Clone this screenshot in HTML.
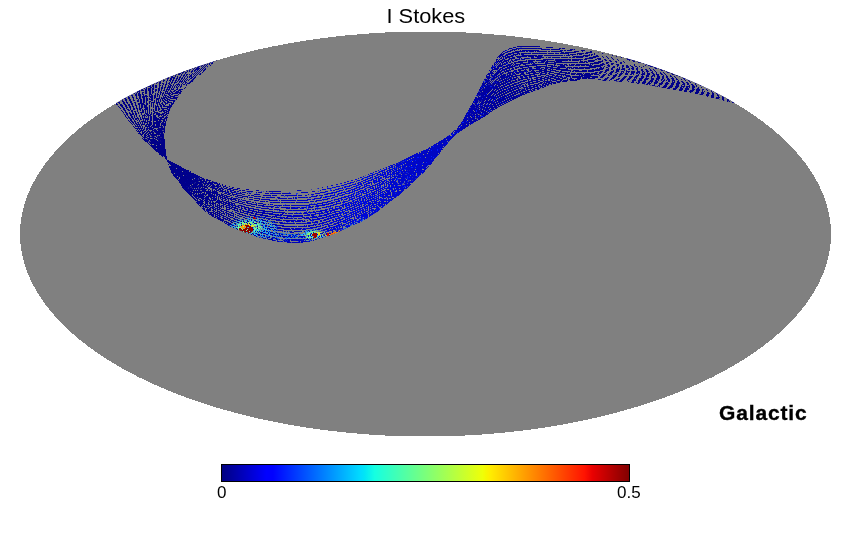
<!DOCTYPE html>
<html><head><meta charset="utf-8"><style>
html,body{margin:0;padding:0;background:#fff;width:850px;height:540px;overflow:hidden}
svg{display:block}
text{font-family:"Liberation Sans",sans-serif}
</style></head><body>
<svg width="850" height="540" viewBox="0 0 850 540">
<defs>
<linearGradient id="bg" gradientUnits="userSpaceOnUse" x1="160" y1="0" x2="740" y2="0">
<stop offset="0" stop-color="#000088"/><stop offset="0.1" stop-color="#00008e"/><stop offset="0.2" stop-color="#0000b0"/><stop offset="0.33" stop-color="#0008d8"/>
<stop offset="0.41" stop-color="#0008cc"/><stop offset="0.5" stop-color="#0004c0"/><stop offset="0.55" stop-color="#0000a4"/><stop offset="0.59" stop-color="#000098"/>
<stop offset="0.69" stop-color="#00008e"/><stop offset="1" stop-color="#000088"/></linearGradient>
<filter id="b1" x="-50%" y="-50%" width="200%" height="200%"><feGaussianBlur stdDeviation="1.6"/></filter>
<filter id="b2" x="-50%" y="-50%" width="200%" height="200%"><feGaussianBlur stdDeviation="0.8"/></filter>
<filter id="nz" color-interpolation-filters="sRGB" filterUnits="userSpaceOnUse" x="0" y="0" width="850" height="540">
<feTurbulence type="fractalNoise" baseFrequency="0.7" numOctaves="2" seed="7" result="t"/>
<feColorMatrix in="t" type="matrix" values="0 0 0 0 0.5  0 0 0 0 0.5  0 0 0 0 0.5  8 0 0 0 -4.6"/>
<feComponentTransfer><feFuncA type="discrete" tableValues="0 1"/></feComponentTransfer>
</filter>
<filter id="nz2" color-interpolation-filters="sRGB" filterUnits="userSpaceOnUse" x="0" y="0" width="850" height="540">
<feTurbulence type="fractalNoise" baseFrequency="0.8" numOctaves="2" seed="11" result="t"/>
<feColorMatrix in="t" type="matrix" values="0 0 0 0 0  0 0 0 0 0.12  0 0 0 0 1  8 0 0 0 -5.1"/>
<feComponentTransfer><feFuncA type="discrete" tableValues="0 1"/></feComponentTransfer>
</filter>
<filter id="nzm" color-interpolation-filters="sRGB" filterUnits="userSpaceOnUse" x="0" y="0" width="850" height="540">
<feTurbulence type="fractalNoise" baseFrequency="0.75" numOctaves="2" seed="21" result="t"/>
<feColorMatrix in="t" type="matrix" values="0 0 0 0 1  0 0 0 0 1  0 0 0 0 1  8 0 0 0 -3.7"/>
<feComponentTransfer><feFuncA type="discrete" tableValues="0 1"/></feComponentTransfer>
</filter>
<filter id="nzm2" color-interpolation-filters="sRGB" filterUnits="userSpaceOnUse" x="0" y="0" width="850" height="540">
<feTurbulence type="fractalNoise" baseFrequency="0.8" numOctaves="2" seed="33" result="t"/>
<feColorMatrix in="t" type="matrix" values="0 0 0 0 1  0 0 0 0 1  0 0 0 0 1  8 0 0 0 -3.5"/>
<feComponentTransfer><feFuncA type="discrete" tableValues="0 1"/></feComponentTransfer>
</filter>
<filter id="nzm3" color-interpolation-filters="sRGB" filterUnits="userSpaceOnUse" x="0" y="0" width="850" height="540">
<feTurbulence type="fractalNoise" baseFrequency="0.8" numOctaves="2" seed="44" result="t"/>
<feColorMatrix in="t" type="matrix" values="0 0 0 0 1  0 0 0 0 1  0 0 0 0 1  8 0 0 0 -2.5"/>
<feComponentTransfer><feFuncA type="discrete" tableValues="0 1"/></feComponentTransfer>
</filter>
<mask id="hm3" maskUnits="userSpaceOnUse" x="0" y="0" width="850" height="540"><rect width="850" height="540" filter="url(#nzm3)"/></mask>
<mask id="hm2" maskUnits="userSpaceOnUse" x="0" y="0" width="850" height="540"><rect width="850" height="540" filter="url(#nzm2)"/></mask>
<linearGradient id="bmg" gradientUnits="userSpaceOnUse" x1="160" y1="0" x2="740" y2="0">
<stop offset="0" stop-color="#000"/><stop offset="0.08" stop-color="#333"/><stop offset="0.18" stop-color="#aaa"/><stop offset="0.4" stop-color="#fff"/>
<stop offset="0.55" stop-color="#fff"/><stop offset="0.62" stop-color="#666"/><stop offset="0.75" stop-color="#222"/><stop offset="1" stop-color="#000"/></linearGradient>
<mask id="bm" maskUnits="userSpaceOnUse" x="0" y="0" width="850" height="540"><rect width="850" height="540" fill="url(#bmg)"/></mask>
<radialGradient id="rg1" gradientUnits="userSpaceOnUse" cx="172" cy="165" r="42"><stop offset="0" stop-color="#000"/><stop offset="0.6" stop-color="#000"/><stop offset="1" stop-color="#000" stop-opacity="0"/></radialGradient>
<radialGradient id="rg2" gradientUnits="userSpaceOnUse" cx="440" cy="145" r="60"><stop offset="0" stop-color="#000"/><stop offset="0.6" stop-color="#000"/><stop offset="1" stop-color="#000" stop-opacity="0"/></radialGradient>
<radialGradient id="rg3" gradientUnits="userSpaceOnUse" cx="500" cy="100" r="30"><stop offset="0" stop-color="#000"/><stop offset="0.5" stop-color="#000"/><stop offset="1" stop-color="#000" stop-opacity="0"/></radialGradient>
<mask id="gm" maskUnits="userSpaceOnUse" x="0" y="0" width="850" height="540"><rect width="850" height="540" fill="#fff"/>
<circle cx="172" cy="165" r="42" fill="url(#rg1)"/><circle cx="440" cy="145" r="60" fill="url(#rg2)"/><circle cx="500" cy="100" r="30" fill="url(#rg3)"/></mask>
<mask id="hm" maskUnits="userSpaceOnUse" x="0" y="0" width="850" height="540"><rect width="850" height="540" filter="url(#nzm)"/></mask>
<clipPath id="bandclip"><path d="M104.0,91.0 105.3,92.4 107.1,94.3 109.2,96.6 111.5,99.0 113.5,101.2 115.2,103.1 116.5,104.5 117.5,105.7 118.4,106.8 119.3,107.8 120.1,108.8 121.0,110.0 122.0,111.3 122.9,112.8 123.9,114.2 124.9,115.7 125.9,117.2 127.0,118.7 128.1,120.1 129.3,121.6 130.5,123.0 131.7,124.4 132.9,125.9 134.0,127.3 135.0,128.7 136.0,130.2 137.0,131.6 138.0,133.1 139.0,134.5 140.0,135.8 141.1,137.1 142.3,138.3 143.4,139.5 144.6,140.7 145.8,141.8 147.0,143.0 148.2,144.1 149.4,145.3 150.6,146.4 151.7,147.5 152.9,148.6 154.0,149.6 155.0,150.6 156.0,151.5 157.0,152.4 158.0,153.3 159.0,154.1 160.0,155.0 161.2,155.9 162.5,156.8 163.8,157.7 165.1,158.6 166.1,159.3 166.9,159.8 166.9,159.8 167.1,160.5 167.3,161.4 167.6,162.4 167.9,163.6 168.3,164.8 168.7,166.1 169.2,167.4 169.8,168.9 170.5,170.4 171.2,171.9 171.9,173.4 172.6,174.6 173.4,175.6 174.2,176.5 175.0,177.2 175.8,178.0 176.6,178.7 177.4,179.6 178.1,180.6 178.8,181.7 179.5,182.8 180.2,183.9 180.9,185.0 181.5,186.0 182.1,186.9 182.6,187.7 183.1,188.5 183.6,189.3 184.2,190.1 185.0,191.0 186.0,192.0 187.1,193.0 188.3,194.1 189.6,195.2 190.9,196.3 192.2,197.6 193.5,199.0 194.8,200.5 196.1,202.1 197.4,203.6 198.7,205.1 200.0,206.5 201.3,207.8 202.5,208.9 203.7,210.1 204.9,211.1 206.2,212.1 207.4,213.1 208.6,214.0 209.9,214.8 211.1,215.6 212.3,216.4 213.6,217.1 214.8,217.8 216.0,218.5 217.3,219.1 218.5,219.8 219.7,220.4 221.0,221.0 222.2,221.7 223.5,222.4 224.7,223.2 226.0,224.0 227.3,224.8 228.5,225.5 229.8,226.2 231.0,226.8 232.3,227.4 233.5,227.9 234.7,228.5 236.0,229.0 237.2,229.5 238.5,230.0 239.7,230.5 241.0,231.0 242.3,231.5 243.5,231.9 244.8,232.4 246.0,232.9 247.3,233.3 248.5,233.7 249.7,234.1 251.0,234.6 252.2,235.0 253.4,235.4 254.7,235.9 255.9,236.4 257.1,236.8 258.4,237.2 259.6,237.6 260.8,237.9 262.0,238.2 263.2,238.5 264.4,238.8 265.7,239.0 267.0,239.3 268.4,239.6 269.9,239.9 271.4,240.3 272.9,240.6 274.5,240.9 276.0,241.2 277.4,241.5 278.8,241.7 280.1,241.9 281.6,242.1 283.2,242.3 285.0,242.4 287.2,242.5 289.8,242.6 292.5,242.6 295.2,242.6 297.7,242.6 299.8,242.6 301.5,242.5 302.8,242.5 304.0,242.4 305.0,242.2 306.1,242.1 307.2,241.9 308.4,241.7 309.7,241.5 310.9,241.3 312.1,241.0 313.4,240.7 314.6,240.4 315.8,240.0 317.0,239.6 318.1,239.2 319.3,238.8 320.6,238.3 322.0,237.8 323.6,237.3 325.4,236.8 327.2,236.2 329.0,235.7 330.8,235.1 332.4,234.6 333.8,234.1 335.1,233.5 336.3,233.0 337.4,232.5 338.6,232.0 339.8,231.4 341.0,230.8 342.3,230.3 343.5,229.7 344.7,229.1 346.0,228.5 347.2,227.9 348.4,227.3 349.7,226.8 350.9,226.2 352.1,225.6 353.4,225.1 354.6,224.5 355.8,224.0 357.0,223.5 358.3,223.0 359.5,222.5 360.7,221.9 362.0,221.3 363.3,220.6 364.6,219.8 366.0,219.0 367.4,218.2 368.7,217.3 370.0,216.5 371.3,215.7 372.5,214.9 373.7,214.1 375.0,213.3 376.2,212.5 377.4,211.6 378.6,210.7 379.9,209.8 381.1,208.8 382.3,207.8 383.6,206.9 384.8,205.9 386.0,204.9 387.3,203.9 388.5,202.9 389.7,201.9 391.0,201.0 392.2,200.0 393.4,199.1 394.7,198.2 395.9,197.3 397.1,196.5 398.4,195.6 399.6,194.6 400.8,193.6 402.1,192.5 403.4,191.4 404.6,190.2 405.8,189.1 407.0,188.1 408.1,187.1 409.1,186.2 410.0,185.3 411.0,184.4 412.0,183.5 413.0,182.5 414.1,181.5 415.2,180.5 416.3,179.4 417.5,178.3 418.6,177.2 419.8,176.1 421.0,174.9 422.2,173.8 423.5,172.6 424.7,171.3 426.0,170.0 427.2,168.7 428.4,167.3 429.7,165.9 430.9,164.4 432.1,162.9 433.4,161.3 434.6,159.8 435.9,158.2 437.1,156.6 438.4,155.0 439.7,153.3 440.9,151.7 442.2,150.1 443.5,148.5 444.7,147.0 446.0,145.5 447.3,144.0 448.5,142.5 449.8,141.1 451.0,139.7 452.3,138.4 453.5,137.2 454.7,135.9 456.0,134.8 457.2,133.7 458.4,132.7 459.7,131.7 461.0,130.9 462.2,130.0 463.4,129.3 464.6,128.5 465.7,127.8 466.7,127.1 467.7,126.5 468.7,125.9 469.7,125.4 470.6,124.8 471.5,124.2 472.4,123.7 473.2,123.2 474.1,122.6 475.0,122.1 476.0,121.5 477.1,120.9 478.2,120.2 479.4,119.6 480.6,118.9 481.8,118.2 483.0,117.5 484.2,116.8 485.3,116.0 486.5,115.2 487.7,114.4 488.8,113.6 490.0,112.8 491.1,112.0 492.2,111.3 493.2,110.6 494.3,109.9 495.5,109.1 496.9,108.3 498.5,107.4 500.2,106.5 502.1,105.6 504.0,104.7 505.8,103.8 507.4,103.0 508.8,102.3 510.1,101.6 511.3,101.1 512.4,100.5 513.6,99.9 514.8,99.3 516.0,98.7 517.3,98.0 518.5,97.4 519.7,96.8 521.0,96.2 522.2,95.6 523.4,95.1 524.7,94.5 525.9,94.0 527.1,93.5 528.4,93.1 529.6,92.6 530.8,92.2 532.0,91.8 533.1,91.5 534.3,91.1 535.6,90.7 537.0,90.2 538.6,89.6 540.4,88.9 542.2,88.1 544.0,87.3 545.8,86.6 547.4,86.0 548.8,85.5 550.1,85.1 551.3,84.7 552.4,84.3 553.6,84.0 554.8,83.7 556.0,83.4 557.2,83.1 558.4,82.9 559.6,82.7 560.8,82.4 562.2,82.2 563.7,82.0 565.3,81.7 566.9,81.5 568.6,81.3 570.3,81.1 572.0,80.9 573.7,80.7 575.3,80.6 577.0,80.5 578.7,80.4 580.3,80.3 582.0,80.2 583.7,80.1 585.3,80.1 587.0,80.1 588.7,80.1 590.3,80.1 592.0,80.1 593.7,80.1 595.4,80.2 597.0,80.2 598.7,80.3 600.4,80.4 602.2,80.5 604.0,80.6 605.8,80.7 607.7,80.9 609.6,81.0 611.4,81.2 613.3,81.3 615.2,81.4 617.2,81.6 619.2,81.7 621.1,81.8 622.9,81.9 624.4,82.0 625.6,82.1 626.6,82.1 627.4,82.2 628.2,82.2 629.0,82.3 630.0,82.4 631.1,82.6 632.3,82.7 633.6,83.0 634.9,83.2 636.1,83.4 637.4,83.6 638.6,83.8 639.9,84.0 641.1,84.2 642.3,84.3 643.6,84.5 644.8,84.7 646.0,84.9 647.3,85.1 648.5,85.3 649.7,85.5 651.0,85.7 652.2,85.9 653.4,86.1 654.7,86.4 655.9,86.6 657.1,86.8 658.4,87.1 659.6,87.3 660.8,87.5 662.0,87.7 663.3,87.9 664.5,88.1 665.7,88.3 667.0,88.5 668.3,88.7 669.7,88.9 671.0,89.1 672.4,89.4 673.7,89.6 675.0,89.8 676.3,90.0 677.5,90.2 678.7,90.5 679.9,90.7 681.1,90.9 682.2,91.1 683.2,91.3 684.2,91.5 685.1,91.7 686.0,91.8 687.0,92.0 688.0,92.2 689.1,92.4 690.3,92.6 691.5,92.8 692.7,93.0 693.8,93.2 695.0,93.4 696.1,93.7 697.2,93.9 698.3,94.2 699.4,94.5 700.4,94.8 701.5,95.1 702.6,95.4 703.7,95.7 704.8,96.0 705.8,96.2 706.9,96.5 708.0,96.8 709.1,97.1 710.2,97.3 711.2,97.6 712.3,97.9 713.4,98.1 714.5,98.4 715.6,98.7 716.7,98.9 717.8,99.2 718.8,99.5 719.9,99.7 721.0,100.0 722.1,100.3 723.2,100.5 724.2,100.8 725.3,101.1 726.4,101.4 727.5,101.6 728.5,101.8 729.5,102.0 730.5,102.2 731.5,102.4 732.7,102.6 734.0,102.9 735.7,103.2 737.7,103.6 739.9,104.0 742.0,104.4 743.8,104.8 745.0,105.0 745.0,98.0 742.3,97.0 738.7,95.6 734.4,94.0 729.6,92.1 724.7,90.1 720.0,88.0 715.3,85.6 710.4,83.0 705.3,80.1 700.2,77.3 695.1,74.5 690.0,72.0 684.9,69.7 679.6,67.4 674.4,65.2 669.3,63.2 664.4,61.4 660.0,60.0 656.0,58.9 652.2,58.2 648.8,57.7 645.6,57.3 642.6,57.1 640.0,57.0 637.8,57.0 635.9,57.3 634.4,57.7 633.0,58.1 631.6,58.4 630.0,58.5 628.3,58.4 626.7,58.3 625.1,58.1 623.4,57.8 621.6,57.4 619.6,57.0 617.4,56.5 615.0,56.0 612.5,55.4 609.9,54.7 607.3,54.1 604.8,53.6 602.3,53.1 599.9,52.7 597.4,52.2 594.9,51.8 592.5,51.5 590.0,51.1 587.5,50.8 585.0,50.5 582.5,50.2 580.0,50.0 577.5,49.7 575.0,49.5 572.4,49.2 569.8,49.0 567.2,48.8 564.7,48.5 562.2,48.3 560.0,48.1 558.0,47.9 556.1,47.8 554.3,47.6 552.7,47.5 551.1,47.4 549.6,47.3 548.2,47.2 546.9,47.1 545.7,47.0 544.6,46.9 543.4,46.8 542.2,46.7 541.0,46.6 539.7,46.5 538.5,46.4 537.3,46.4 536.0,46.3 534.8,46.2 533.6,46.1 532.3,46.0 531.1,46.0 529.9,45.9 528.6,45.8 527.4,45.8 526.1,45.8 524.9,45.7 523.6,45.7 522.3,45.7 521.1,45.7 520.0,45.8 519.0,45.9 518.1,46.1 517.3,46.3 516.5,46.5 515.6,46.8 514.8,47.0 513.9,47.2 513.0,47.4 512.1,47.7 511.2,47.9 510.4,48.2 509.6,48.4 508.9,48.6 508.3,48.9 507.7,49.1 507.1,49.3 506.5,49.6 505.9,49.9 505.3,50.2 504.7,50.6 504.0,50.9 503.4,51.3 502.8,51.7 502.2,52.2 501.6,52.7 501.0,53.3 500.4,53.9 499.7,54.5 499.1,55.2 498.5,56.0 497.9,56.8 497.3,57.8 496.6,58.7 496.0,59.7 495.4,60.7 494.8,61.7 494.2,62.7 493.6,63.6 493.0,64.6 492.4,65.6 491.7,66.6 491.1,67.6 490.4,68.7 489.7,69.8 489.0,71.0 488.3,72.2 487.7,73.4 487.0,74.5 486.4,75.6 485.8,76.6 485.2,77.7 484.7,78.7 484.1,79.8 483.5,80.9 482.9,82.1 482.3,83.3 481.7,84.5 481.0,85.8 480.4,87.1 479.8,88.3 479.2,89.5 478.6,90.8 478.0,92.0 477.3,93.2 476.7,94.5 476.1,95.7 475.5,97.0 474.8,98.3 474.2,99.6 473.6,100.9 473.0,102.1 472.4,103.2 471.9,104.1 471.4,105.0 470.9,105.7 470.5,106.4 470.0,107.2 469.5,108.0 469.0,108.9 468.5,109.8 467.9,110.7 467.4,111.6 466.8,112.5 466.3,113.5 465.8,114.5 465.3,115.5 464.7,116.5 464.2,117.6 463.7,118.6 463.1,119.6 462.5,120.6 461.9,121.6 461.3,122.6 460.7,123.5 460.1,124.4 459.4,125.3 458.7,126.1 458.0,126.8 457.3,127.5 456.6,128.2 455.8,128.8 455.0,129.6 454.2,130.4 453.4,131.3 452.6,132.2 451.7,133.1 450.8,133.9 449.8,134.8 448.7,135.6 447.6,136.4 446.3,137.2 445.1,138.0 443.7,138.8 442.4,139.6 441.0,140.5 439.4,141.4 437.9,142.4 436.3,143.3 434.9,144.2 433.5,145.0 432.3,145.7 431.2,146.4 430.3,147.0 429.3,147.6 428.3,148.1 427.2,148.7 426.0,149.3 424.8,149.8 423.6,150.4 422.3,150.9 421.0,151.4 419.8,152.0 418.6,152.6 417.3,153.1 416.1,153.7 414.9,154.2 413.6,154.8 412.4,155.4 411.2,156.0 410.0,156.6 408.7,157.2 407.5,157.8 406.3,158.5 405.0,159.1 403.7,159.8 402.4,160.4 401.0,161.1 399.6,161.8 398.3,162.4 397.0,163.0 395.7,163.5 394.5,164.0 393.3,164.4 392.0,164.8 390.8,165.2 389.6,165.7 388.4,166.2 387.1,166.7 385.9,167.2 384.7,167.7 383.4,168.2 382.2,168.7 381.0,169.2 379.7,169.7 378.5,170.2 377.3,170.7 376.0,171.2 374.8,171.7 373.6,172.2 372.4,172.6 371.3,173.1 370.1,173.5 368.8,174.0 367.4,174.6 365.8,175.3 364.0,176.0 362.2,176.8 360.4,177.5 358.6,178.2 357.0,178.8 355.6,179.3 354.3,179.6 353.1,179.9 352.0,180.2 350.8,180.5 349.6,180.8 348.4,181.2 347.1,181.5 345.9,181.9 344.7,182.3 343.4,182.7 342.2,183.0 341.0,183.3 339.7,183.6 338.5,183.9 337.3,184.2 336.0,184.5 334.8,184.8 333.6,185.1 332.3,185.3 331.1,185.6 329.9,185.8 328.6,186.0 327.4,186.3 326.2,186.6 325.0,186.8 323.9,187.1 322.7,187.4 321.4,187.6 320.0,187.9 318.5,188.2 316.9,188.5 315.2,188.8 313.5,189.1 311.7,189.4 310.0,189.6 308.3,189.8 306.7,189.9 305.1,190.1 303.4,190.2 301.6,190.3 299.6,190.4 297.4,190.5 295.0,190.7 292.5,190.8 289.9,190.9 287.3,191.0 284.8,191.1 282.3,191.2 279.7,191.3 277.1,191.3 274.6,191.4 272.2,191.4 270.0,191.4 268.1,191.3 266.3,191.2 264.7,191.1 263.2,190.9 261.6,190.8 260.0,190.6 258.3,190.4 256.7,190.3 255.0,190.1 253.4,189.9 251.7,189.8 250.0,189.6 248.3,189.4 246.5,189.3 244.6,189.1 242.9,188.9 241.2,188.7 239.6,188.5 238.2,188.3 236.9,188.1 235.7,187.9 234.6,187.6 233.4,187.4 232.2,187.1 231.0,186.8 229.7,186.5 228.5,186.1 227.3,185.7 226.0,185.4 224.8,185.0 223.6,184.6 222.3,184.2 221.1,183.8 219.9,183.4 218.6,183.0 217.4,182.6 216.2,182.2 214.9,181.8 213.7,181.4 212.4,181.0 211.2,180.6 210.0,180.2 208.9,179.9 207.7,179.5 206.7,179.2 205.6,178.9 204.4,178.5 203.3,178.1 202.1,177.6 200.9,177.0 199.6,176.4 198.4,175.7 197.1,175.0 195.9,174.4 194.6,173.7 193.3,173.0 192.0,172.3 190.7,171.6 189.5,171.0 188.5,170.5 187.8,170.2 187.3,170.0 186.9,169.9 186.5,169.8 185.9,169.6 185.0,169.1 183.6,168.3 181.9,167.3 180.1,166.2 178.1,165.1 176.3,164.0 174.6,163.1 173.1,162.4 171.5,161.7 170.1,161.1 168.8,160.6 167.7,160.1 166.9,159.8 166.9,159.8 166.8,158.7 166.6,157.2 166.4,155.3 166.1,153.4 165.9,151.6 165.7,150.0 165.5,148.7 165.4,147.5 165.2,146.3 165.1,145.2 164.9,144.1 164.8,143.0 164.7,141.8 164.6,140.6 164.5,139.4 164.4,138.3 164.3,137.1 164.3,136.0 164.3,135.0 164.4,134.0 164.5,133.0 164.6,132.0 164.7,131.0 164.8,130.0 164.9,128.9 165.1,127.8 165.3,126.7 165.5,125.6 165.7,124.4 165.9,123.3 166.2,122.2 166.5,121.1 166.8,120.0 167.1,118.9 167.5,117.8 167.8,116.7 168.1,115.6 168.5,114.5 168.8,113.4 169.1,112.2 169.5,111.1 170.0,110.0 170.5,108.9 171.1,107.7 171.7,106.6 172.4,105.5 173.0,104.4 173.7,103.3 174.4,102.3 175.1,101.3 175.8,100.4 176.6,99.4 177.3,98.4 178.1,97.4 178.9,96.3 179.7,95.1 180.5,93.9 181.3,92.7 182.2,91.6 183.0,90.5 183.8,89.6 184.6,88.7 185.3,88.0 186.1,87.2 187.0,86.4 188.0,85.5 189.1,84.5 190.3,83.5 191.6,82.4 193.0,81.2 194.3,80.1 195.6,79.0 196.8,77.9 198.1,76.8 199.3,75.6 200.6,74.5 201.8,73.4 203.0,72.3 204.2,71.2 205.4,70.1 206.5,69.1 207.7,68.0 208.8,67.0 210.0,66.0 211.1,65.1 212.1,64.2 213.1,63.4 214.2,62.5 215.5,61.5 217.0,60.4 219.0,58.9 221.4,57.2 223.9,55.3 226.4,53.6 228.5,52.1 230.0,51.0 Z"/></clipPath>
<clipPath id="ell"><ellipse cx="425.5" cy="234.0" rx="405.5" ry="202.5"/></clipPath>
<linearGradient id="jet" x1="0" y1="0" x2="1" y2="0"><stop offset="0" stop-color="#000080"/><stop offset="0.11" stop-color="#0000ff"/><stop offset="0.125" stop-color="#0000ff"/><stop offset="0.34" stop-color="#00dbff"/><stop offset="0.35" stop-color="#00e5f7"/><stop offset="0.375" stop-color="#15ffe2"/><stop offset="0.5" stop-color="#7bff7b"/><stop offset="0.64" stop-color="#efff08"/><stop offset="0.65" stop-color="#f7f600"/><stop offset="0.66" stop-color="#ffec00"/><stop offset="0.89" stop-color="#ff1300"/><stop offset="0.91" stop-color="#e80000"/><stop offset="1" stop-color="#800000"/></linearGradient>
</defs>
<rect width="850" height="540" fill="#fff"/>
<ellipse cx="425.5" cy="234.0" rx="405.5" ry="202.5" fill="#808080" shape-rendering="crispEdges"/>
<g clip-path="url(#ell)" shape-rendering="crispEdges">
<path d="M104.0,91.0 105.3,92.4 107.1,94.3 109.2,96.6 111.5,99.0 113.5,101.2 115.2,103.1 116.5,104.5 117.5,105.7 118.4,106.8 119.3,107.8 120.1,108.8 121.0,110.0 122.0,111.3 122.9,112.8 123.9,114.2 124.9,115.7 125.9,117.2 127.0,118.7 128.1,120.1 129.3,121.6 130.5,123.0 131.7,124.4 132.9,125.9 134.0,127.3 135.0,128.7 136.0,130.2 137.0,131.6 138.0,133.1 139.0,134.5 140.0,135.8 141.1,137.1 142.3,138.3 143.4,139.5 144.6,140.7 145.8,141.8 147.0,143.0 148.2,144.1 149.4,145.3 150.6,146.4 151.7,147.5 152.9,148.6 154.0,149.6 155.0,150.6 156.0,151.5 157.0,152.4 158.0,153.3 159.0,154.1 160.0,155.0 161.2,155.9 162.5,156.8 163.8,157.7 165.1,158.6 166.1,159.3 166.9,159.8 166.9,159.8 167.1,160.5 167.3,161.4 167.6,162.4 167.9,163.6 168.3,164.8 168.7,166.1 169.2,167.4 169.8,168.9 170.5,170.4 171.2,171.9 171.9,173.4 172.6,174.6 173.4,175.6 174.2,176.5 175.0,177.2 175.8,178.0 176.6,178.7 177.4,179.6 178.1,180.6 178.8,181.7 179.5,182.8 180.2,183.9 180.9,185.0 181.5,186.0 182.1,186.9 182.6,187.7 183.1,188.5 183.6,189.3 184.2,190.1 185.0,191.0 186.0,192.0 187.1,193.0 188.3,194.1 189.6,195.2 190.9,196.3 192.2,197.6 193.5,199.0 194.8,200.5 196.1,202.1 197.4,203.6 198.7,205.1 200.0,206.5 201.3,207.8 202.5,208.9 203.7,210.1 204.9,211.1 206.2,212.1 207.4,213.1 208.6,214.0 209.9,214.8 211.1,215.6 212.3,216.4 213.6,217.1 214.8,217.8 216.0,218.5 217.3,219.1 218.5,219.8 219.7,220.4 221.0,221.0 222.2,221.7 223.5,222.4 224.7,223.2 226.0,224.0 227.3,224.8 228.5,225.5 229.8,226.2 231.0,226.8 232.3,227.4 233.5,227.9 234.7,228.5 236.0,229.0 237.2,229.5 238.5,230.0 239.7,230.5 241.0,231.0 242.3,231.5 243.5,231.9 244.8,232.4 246.0,232.9 247.3,233.3 248.5,233.7 249.7,234.1 251.0,234.6 252.2,235.0 253.4,235.4 254.7,235.9 255.9,236.4 257.1,236.8 258.4,237.2 259.6,237.6 260.8,237.9 262.0,238.2 263.2,238.5 264.4,238.8 265.7,239.0 267.0,239.3 268.4,239.6 269.9,239.9 271.4,240.3 272.9,240.6 274.5,240.9 276.0,241.2 277.4,241.5 278.8,241.7 280.1,241.9 281.6,242.1 283.2,242.3 285.0,242.4 287.2,242.5 289.8,242.6 292.5,242.6 295.2,242.6 297.7,242.6 299.8,242.6 301.5,242.5 302.8,242.5 304.0,242.4 305.0,242.2 306.1,242.1 307.2,241.9 308.4,241.7 309.7,241.5 310.9,241.3 312.1,241.0 313.4,240.7 314.6,240.4 315.8,240.0 317.0,239.6 318.1,239.2 319.3,238.8 320.6,238.3 322.0,237.8 323.6,237.3 325.4,236.8 327.2,236.2 329.0,235.7 330.8,235.1 332.4,234.6 333.8,234.1 335.1,233.5 336.3,233.0 337.4,232.5 338.6,232.0 339.8,231.4 341.0,230.8 342.3,230.3 343.5,229.7 344.7,229.1 346.0,228.5 347.2,227.9 348.4,227.3 349.7,226.8 350.9,226.2 352.1,225.6 353.4,225.1 354.6,224.5 355.8,224.0 357.0,223.5 358.3,223.0 359.5,222.5 360.7,221.9 362.0,221.3 363.3,220.6 364.6,219.8 366.0,219.0 367.4,218.2 368.7,217.3 370.0,216.5 371.3,215.7 372.5,214.9 373.7,214.1 375.0,213.3 376.2,212.5 377.4,211.6 378.6,210.7 379.9,209.8 381.1,208.8 382.3,207.8 383.6,206.9 384.8,205.9 386.0,204.9 387.3,203.9 388.5,202.9 389.7,201.9 391.0,201.0 392.2,200.0 393.4,199.1 394.7,198.2 395.9,197.3 397.1,196.5 398.4,195.6 399.6,194.6 400.8,193.6 402.1,192.5 403.4,191.4 404.6,190.2 405.8,189.1 407.0,188.1 408.1,187.1 409.1,186.2 410.0,185.3 411.0,184.4 412.0,183.5 413.0,182.5 414.1,181.5 415.2,180.5 416.3,179.4 417.5,178.3 418.6,177.2 419.8,176.1 421.0,174.9 422.2,173.8 423.5,172.6 424.7,171.3 426.0,170.0 427.2,168.7 428.4,167.3 429.7,165.9 430.9,164.4 432.1,162.9 433.4,161.3 434.6,159.8 435.9,158.2 437.1,156.6 438.4,155.0 439.7,153.3 440.9,151.7 442.2,150.1 443.5,148.5 444.7,147.0 446.0,145.5 447.3,144.0 448.5,142.5 449.8,141.1 451.0,139.7 452.3,138.4 453.5,137.2 454.7,135.9 456.0,134.8 457.2,133.7 458.4,132.7 459.7,131.7 461.0,130.9 462.2,130.0 463.4,129.3 464.6,128.5 465.7,127.8 466.7,127.1 467.7,126.5 468.7,125.9 469.7,125.4 470.6,124.8 471.5,124.2 472.4,123.7 473.2,123.2 474.1,122.6 475.0,122.1 476.0,121.5 477.1,120.9 478.2,120.2 479.4,119.6 480.6,118.9 481.8,118.2 483.0,117.5 484.2,116.8 485.3,116.0 486.5,115.2 487.7,114.4 488.8,113.6 490.0,112.8 491.1,112.0 492.2,111.3 493.2,110.6 494.3,109.9 495.5,109.1 496.9,108.3 498.5,107.4 500.2,106.5 502.1,105.6 504.0,104.7 505.8,103.8 507.4,103.0 508.8,102.3 510.1,101.6 511.3,101.1 512.4,100.5 513.6,99.9 514.8,99.3 516.0,98.7 517.3,98.0 518.5,97.4 519.7,96.8 521.0,96.2 522.2,95.6 523.4,95.1 524.7,94.5 525.9,94.0 527.1,93.5 528.4,93.1 529.6,92.6 530.8,92.2 532.0,91.8 533.1,91.5 534.3,91.1 535.6,90.7 537.0,90.2 538.6,89.6 540.4,88.9 542.2,88.1 544.0,87.3 545.8,86.6 547.4,86.0 548.8,85.5 550.1,85.1 551.3,84.7 552.4,84.3 553.6,84.0 554.8,83.7 556.0,83.4 557.2,83.1 558.4,82.9 559.6,82.7 560.8,82.4 562.2,82.2 563.7,82.0 565.3,81.7 566.9,81.5 568.6,81.3 570.3,81.1 572.0,80.9 573.7,80.7 575.3,80.6 577.0,80.5 578.7,80.4 580.3,80.3 582.0,80.2 583.7,80.1 585.3,80.1 587.0,80.1 588.7,80.1 590.3,80.1 592.0,80.1 593.7,80.1 595.4,80.2 597.0,80.2 598.7,80.3 600.4,80.4 602.2,80.5 604.0,80.6 605.8,80.7 607.7,80.9 609.6,81.0 611.4,81.2 613.3,81.3 615.2,81.4 617.2,81.6 619.2,81.7 621.1,81.8 622.9,81.9 624.4,82.0 625.6,82.1 626.6,82.1 627.4,82.2 628.2,82.2 629.0,82.3 630.0,82.4 631.1,82.6 632.3,82.7 633.6,83.0 634.9,83.2 636.1,83.4 637.4,83.6 638.6,83.8 639.9,84.0 641.1,84.2 642.3,84.3 643.6,84.5 644.8,84.7 646.0,84.9 647.3,85.1 648.5,85.3 649.7,85.5 651.0,85.7 652.2,85.9 653.4,86.1 654.7,86.4 655.9,86.6 657.1,86.8 658.4,87.1 659.6,87.3 660.8,87.5 662.0,87.7 663.3,87.9 664.5,88.1 665.7,88.3 667.0,88.5 668.3,88.7 669.7,88.9 671.0,89.1 672.4,89.4 673.7,89.6 675.0,89.8 676.3,90.0 677.5,90.2 678.7,90.5 679.9,90.7 681.1,90.9 682.2,91.1 683.2,91.3 684.2,91.5 685.1,91.7 686.0,91.8 687.0,92.0 688.0,92.2 689.1,92.4 690.3,92.6 691.5,92.8 692.7,93.0 693.8,93.2 695.0,93.4 696.1,93.7 697.2,93.9 698.3,94.2 699.4,94.5 700.4,94.8 701.5,95.1 702.6,95.4 703.7,95.7 704.8,96.0 705.8,96.2 706.9,96.5 708.0,96.8 709.1,97.1 710.2,97.3 711.2,97.6 712.3,97.9 713.4,98.1 714.5,98.4 715.6,98.7 716.7,98.9 717.8,99.2 718.8,99.5 719.9,99.7 721.0,100.0 722.1,100.3 723.2,100.5 724.2,100.8 725.3,101.1 726.4,101.4 727.5,101.6 728.5,101.8 729.5,102.0 730.5,102.2 731.5,102.4 732.7,102.6 734.0,102.9 735.7,103.2 737.7,103.6 739.9,104.0 742.0,104.4 743.8,104.8 745.0,105.0 745.0,98.0 742.3,97.0 738.7,95.6 734.4,94.0 729.6,92.1 724.7,90.1 720.0,88.0 715.3,85.6 710.4,83.0 705.3,80.1 700.2,77.3 695.1,74.5 690.0,72.0 684.9,69.7 679.6,67.4 674.4,65.2 669.3,63.2 664.4,61.4 660.0,60.0 656.0,58.9 652.2,58.2 648.8,57.7 645.6,57.3 642.6,57.1 640.0,57.0 637.8,57.0 635.9,57.3 634.4,57.7 633.0,58.1 631.6,58.4 630.0,58.5 628.3,58.4 626.7,58.3 625.1,58.1 623.4,57.8 621.6,57.4 619.6,57.0 617.4,56.5 615.0,56.0 612.5,55.4 609.9,54.7 607.3,54.1 604.8,53.6 602.3,53.1 599.9,52.7 597.4,52.2 594.9,51.8 592.5,51.5 590.0,51.1 587.5,50.8 585.0,50.5 582.5,50.2 580.0,50.0 577.5,49.7 575.0,49.5 572.4,49.2 569.8,49.0 567.2,48.8 564.7,48.5 562.2,48.3 560.0,48.1 558.0,47.9 556.1,47.8 554.3,47.6 552.7,47.5 551.1,47.4 549.6,47.3 548.2,47.2 546.9,47.1 545.7,47.0 544.6,46.9 543.4,46.8 542.2,46.7 541.0,46.6 539.7,46.5 538.5,46.4 537.3,46.4 536.0,46.3 534.8,46.2 533.6,46.1 532.3,46.0 531.1,46.0 529.9,45.9 528.6,45.8 527.4,45.8 526.1,45.8 524.9,45.7 523.6,45.7 522.3,45.7 521.1,45.7 520.0,45.8 519.0,45.9 518.1,46.1 517.3,46.3 516.5,46.5 515.6,46.8 514.8,47.0 513.9,47.2 513.0,47.4 512.1,47.7 511.2,47.9 510.4,48.2 509.6,48.4 508.9,48.6 508.3,48.9 507.7,49.1 507.1,49.3 506.5,49.6 505.9,49.9 505.3,50.2 504.7,50.6 504.0,50.9 503.4,51.3 502.8,51.7 502.2,52.2 501.6,52.7 501.0,53.3 500.4,53.9 499.7,54.5 499.1,55.2 498.5,56.0 497.9,56.8 497.3,57.8 496.6,58.7 496.0,59.7 495.4,60.7 494.8,61.7 494.2,62.7 493.6,63.6 493.0,64.6 492.4,65.6 491.7,66.6 491.1,67.6 490.4,68.7 489.7,69.8 489.0,71.0 488.3,72.2 487.7,73.4 487.0,74.5 486.4,75.6 485.8,76.6 485.2,77.7 484.7,78.7 484.1,79.8 483.5,80.9 482.9,82.1 482.3,83.3 481.7,84.5 481.0,85.8 480.4,87.1 479.8,88.3 479.2,89.5 478.6,90.8 478.0,92.0 477.3,93.2 476.7,94.5 476.1,95.7 475.5,97.0 474.8,98.3 474.2,99.6 473.6,100.9 473.0,102.1 472.4,103.2 471.9,104.1 471.4,105.0 470.9,105.7 470.5,106.4 470.0,107.2 469.5,108.0 469.0,108.9 468.5,109.8 467.9,110.7 467.4,111.6 466.8,112.5 466.3,113.5 465.8,114.5 465.3,115.5 464.7,116.5 464.2,117.6 463.7,118.6 463.1,119.6 462.5,120.6 461.9,121.6 461.3,122.6 460.7,123.5 460.1,124.4 459.4,125.3 458.7,126.1 458.0,126.8 457.3,127.5 456.6,128.2 455.8,128.8 455.0,129.6 454.2,130.4 453.4,131.3 452.6,132.2 451.7,133.1 450.8,133.9 449.8,134.8 448.7,135.6 447.6,136.4 446.3,137.2 445.1,138.0 443.7,138.8 442.4,139.6 441.0,140.5 439.4,141.4 437.9,142.4 436.3,143.3 434.9,144.2 433.5,145.0 432.3,145.7 431.2,146.4 430.3,147.0 429.3,147.6 428.3,148.1 427.2,148.7 426.0,149.3 424.8,149.8 423.6,150.4 422.3,150.9 421.0,151.4 419.8,152.0 418.6,152.6 417.3,153.1 416.1,153.7 414.9,154.2 413.6,154.8 412.4,155.4 411.2,156.0 410.0,156.6 408.7,157.2 407.5,157.8 406.3,158.5 405.0,159.1 403.7,159.8 402.4,160.4 401.0,161.1 399.6,161.8 398.3,162.4 397.0,163.0 395.7,163.5 394.5,164.0 393.3,164.4 392.0,164.8 390.8,165.2 389.6,165.7 388.4,166.2 387.1,166.7 385.9,167.2 384.7,167.7 383.4,168.2 382.2,168.7 381.0,169.2 379.7,169.7 378.5,170.2 377.3,170.7 376.0,171.2 374.8,171.7 373.6,172.2 372.4,172.6 371.3,173.1 370.1,173.5 368.8,174.0 367.4,174.6 365.8,175.3 364.0,176.0 362.2,176.8 360.4,177.5 358.6,178.2 357.0,178.8 355.6,179.3 354.3,179.6 353.1,179.9 352.0,180.2 350.8,180.5 349.6,180.8 348.4,181.2 347.1,181.5 345.9,181.9 344.7,182.3 343.4,182.7 342.2,183.0 341.0,183.3 339.7,183.6 338.5,183.9 337.3,184.2 336.0,184.5 334.8,184.8 333.6,185.1 332.3,185.3 331.1,185.6 329.9,185.8 328.6,186.0 327.4,186.3 326.2,186.6 325.0,186.8 323.9,187.1 322.7,187.4 321.4,187.6 320.0,187.9 318.5,188.2 316.9,188.5 315.2,188.8 313.5,189.1 311.7,189.4 310.0,189.6 308.3,189.8 306.7,189.9 305.1,190.1 303.4,190.2 301.6,190.3 299.6,190.4 297.4,190.5 295.0,190.7 292.5,190.8 289.9,190.9 287.3,191.0 284.8,191.1 282.3,191.2 279.7,191.3 277.1,191.3 274.6,191.4 272.2,191.4 270.0,191.4 268.1,191.3 266.3,191.2 264.7,191.1 263.2,190.9 261.6,190.8 260.0,190.6 258.3,190.4 256.7,190.3 255.0,190.1 253.4,189.9 251.7,189.8 250.0,189.6 248.3,189.4 246.5,189.3 244.6,189.1 242.9,188.9 241.2,188.7 239.6,188.5 238.2,188.3 236.9,188.1 235.7,187.9 234.6,187.6 233.4,187.4 232.2,187.1 231.0,186.8 229.7,186.5 228.5,186.1 227.3,185.7 226.0,185.4 224.8,185.0 223.6,184.6 222.3,184.2 221.1,183.8 219.9,183.4 218.6,183.0 217.4,182.6 216.2,182.2 214.9,181.8 213.7,181.4 212.4,181.0 211.2,180.6 210.0,180.2 208.9,179.9 207.7,179.5 206.7,179.2 205.6,178.9 204.4,178.5 203.3,178.1 202.1,177.6 200.9,177.0 199.6,176.4 198.4,175.7 197.1,175.0 195.9,174.4 194.6,173.7 193.3,173.0 192.0,172.3 190.7,171.6 189.5,171.0 188.5,170.5 187.8,170.2 187.3,170.0 186.9,169.9 186.5,169.8 185.9,169.6 185.0,169.1 183.6,168.3 181.9,167.3 180.1,166.2 178.1,165.1 176.3,164.0 174.6,163.1 173.1,162.4 171.5,161.7 170.1,161.1 168.8,160.6 167.7,160.1 166.9,159.8 166.9,159.8 166.8,158.7 166.6,157.2 166.4,155.3 166.1,153.4 165.9,151.6 165.7,150.0 165.5,148.7 165.4,147.5 165.2,146.3 165.1,145.2 164.9,144.1 164.8,143.0 164.7,141.8 164.6,140.6 164.5,139.4 164.4,138.3 164.3,137.1 164.3,136.0 164.3,135.0 164.4,134.0 164.5,133.0 164.6,132.0 164.7,131.0 164.8,130.0 164.9,128.9 165.1,127.8 165.3,126.7 165.5,125.6 165.7,124.4 165.9,123.3 166.2,122.2 166.5,121.1 166.8,120.0 167.1,118.9 167.5,117.8 167.8,116.7 168.1,115.6 168.5,114.5 168.8,113.4 169.1,112.2 169.5,111.1 170.0,110.0 170.5,108.9 171.1,107.7 171.7,106.6 172.4,105.5 173.0,104.4 173.7,103.3 174.4,102.3 175.1,101.3 175.8,100.4 176.6,99.4 177.3,98.4 178.1,97.4 178.9,96.3 179.7,95.1 180.5,93.9 181.3,92.7 182.2,91.6 183.0,90.5 183.8,89.6 184.6,88.7 185.3,88.0 186.1,87.2 187.0,86.4 188.0,85.5 189.1,84.5 190.3,83.5 191.6,82.4 193.0,81.2 194.3,80.1 195.6,79.0 196.8,77.9 198.1,76.8 199.3,75.6 200.6,74.5 201.8,73.4 203.0,72.3 204.2,71.2 205.4,70.1 206.5,69.1 207.7,68.0 208.8,67.0 210.0,66.0 211.1,65.1 212.1,64.2 213.1,63.4 214.2,62.5 215.5,61.5 217.0,60.4 219.0,58.9 221.4,57.2 223.9,55.3 226.4,53.6 228.5,52.1 230.0,51.0 Z" fill="url(#bg)"/>
<path d="M105.0,90.7 106.0,91.7 106.9,92.7 107.8,93.6 108.7,94.6 109.6,95.6 110.5,96.6 111.4,97.6 112.3,98.6 113.2,99.6 114.2,100.6 115.1,101.6 116.0,102.6 116.8,103.6 117.7,104.6 118.6,105.7 119.5,106.7 120.3,107.7 121.1,108.8 121.9,109.9 122.7,111.0 123.5,112.1 124.2,113.2 125.0,114.4 125.7,115.5 126.5,116.6 127.2,117.7 128.0,118.8 128.9,119.9 129.7,120.9 130.6,122.0 131.4,123.0 132.3,124.0 133.1,125.1 133.9,126.2 134.8,127.2 135.5,128.3 136.3,129.4 137.0,130.6 137.8,131.7 138.5,132.8 139.3,133.9 140.1,135.0 140.9,136.1 141.8,137.1 142.7,138.1 143.7,139.1 144.6,140.0 145.6,141.0 146.5,141.9 147.5,142.9 148.5,143.9 149.4,144.8 150.4,145.7 151.4,146.7 152.3,147.6 153.3,148.6 154.3,149.5 155.3,150.4 156.3,151.4 157.2,152.3 158.2,153.3 159.2,154.2 160.3,155.0 161.4,155.9 162.5,156.7 163.6,157.5 164.7,158.2 165.8,159.0 166.9,159.8 166.9,159.8 165.8,159.0 164.7,158.2 163.6,157.5 162.5,156.7 161.4,155.9 160.3,155.0 159.3,154.1 158.2,153.2 157.3,152.3 156.3,151.4 155.3,150.4 154.3,149.5 153.4,148.5 152.4,147.6 151.4,146.6 150.4,145.7 149.5,144.7 148.5,143.8 147.6,142.8 146.7,141.8 145.7,140.8 144.8,139.9 143.9,138.9 143.0,137.9 142.1,136.9 141.2,135.8 140.4,134.8 139.6,133.7 138.9,132.5 138.1,131.4 137.4,130.3 136.7,129.1 136.0,128.0 135.3,126.9 134.5,125.8 133.7,124.7 132.9,123.6 132.1,122.6 131.3,121.5 130.5,120.5 129.7,119.4 128.9,118.3 128.2,117.2 127.4,116.1 126.7,115.0 126.1,113.8 125.4,112.7 124.7,111.5 124.0,110.4 123.3,109.3 122.5,108.2 121.7,107.1 120.9,106.1 120.1,105.0 119.3,104.0 118.5,103.0 117.6,102.0 116.8,100.9 115.9,99.9 115.1,98.9 114.2,97.9 113.4,96.9 112.5,95.9 111.7,94.9 110.9,93.9 110.0,92.9 109.2,91.9 108.3,90.9 107.5,89.9 Z M109.4,89.3 110.2,90.3 111.0,91.3 111.9,92.3 112.7,93.3 113.5,94.3 114.3,95.3 115.2,96.3 116.0,97.3 116.8,98.3 117.6,99.3 118.5,100.3 119.3,101.3 120.1,102.3 120.9,103.4 121.7,104.4 122.5,105.4 123.2,106.5 124.0,107.6 124.7,108.7 125.4,109.8 126.1,110.9 126.8,112.0 127.4,113.2 128.1,114.3 128.8,115.4 129.5,116.5 130.2,117.6 130.9,118.7 131.7,119.7 132.5,120.8 133.2,121.8 134.0,122.9 134.8,124.0 135.6,125.0 136.3,126.1 137.0,127.3 137.7,128.4 138.4,129.5 139.1,130.7 139.7,131.8 140.4,133.0 141.2,134.1 142.0,135.1 142.8,136.2 143.7,137.2 144.6,138.2 145.5,139.2 146.4,140.2 147.3,141.2 148.2,142.2 149.1,143.2 150.0,144.1 150.9,145.1 151.8,146.1 152.8,147.1 153.7,148.1 154.7,149.0 155.6,150.0 156.6,151.0 157.5,152.0 158.5,152.9 159.5,153.9 160.5,154.8 161.5,155.7 162.6,156.5 163.7,157.3 164.7,158.2 165.8,159.0 166.9,159.8 166.9,159.8 165.8,159.0 164.7,158.2 163.7,157.3 162.6,156.5 161.5,155.6 160.5,154.8 159.5,153.9 158.5,152.9 157.5,151.9 156.6,151.0 155.6,150.0 154.7,149.0 153.8,148.0 152.8,147.0 151.9,146.0 151.0,145.0 150.1,144.1 149.2,143.1 148.3,142.0 147.4,141.0 146.5,140.0 145.6,139.0 144.8,138.0 143.9,137.0 143.1,135.9 142.3,134.9 141.5,133.8 140.8,132.6 140.1,131.5 139.5,130.3 138.8,129.2 138.2,128.0 137.6,126.9 136.9,125.7 136.2,124.6 135.5,123.5 134.7,122.4 134.0,121.4 133.3,120.3 132.6,119.2 131.8,118.1 131.2,117.0 130.5,115.9 129.9,114.8 129.3,113.7 128.7,112.5 128.1,111.4 127.5,110.2 126.8,109.1 126.2,108.0 125.5,106.9 124.8,105.8 124.1,104.7 123.4,103.7 122.7,102.6 121.9,101.6 121.2,100.6 120.4,99.5 119.7,98.5 118.9,97.5 118.2,96.5 117.4,95.5 116.6,94.5 115.9,93.5 115.1,92.4 114.4,91.4 113.6,90.4 112.9,89.4 112.1,88.4 Z M114.3,87.7 115.0,88.7 115.8,89.7 116.5,90.7 117.2,91.7 118.0,92.7 118.7,93.7 119.4,94.8 120.1,95.8 120.8,96.8 121.6,97.8 122.3,98.8 123.0,99.8 123.7,100.9 124.4,101.9 125.1,102.9 125.8,104.0 126.5,105.1 127.2,106.2 127.8,107.3 128.4,108.4 129.0,109.5 129.6,110.7 130.1,111.8 130.7,112.9 131.3,114.1 131.9,115.2 132.5,116.3 133.2,117.4 133.9,118.4 134.5,119.5 135.2,120.6 135.9,121.6 136.6,122.7 137.3,123.8 138.0,125.0 138.6,126.1 139.2,127.3 139.8,128.4 140.4,129.6 141.0,130.7 141.7,131.9 142.4,133.0 143.1,134.1 143.9,135.2 144.7,136.3 145.5,137.3 146.3,138.3 147.2,139.4 148.0,140.4 148.9,141.4 149.7,142.5 150.6,143.5 151.5,144.5 152.3,145.5 153.2,146.5 154.1,147.5 155.0,148.5 155.9,149.6 156.9,150.6 157.8,151.6 158.7,152.6 159.7,153.6 160.7,154.5 161.7,155.4 162.7,156.3 163.8,157.2 164.8,158.1 165.9,158.9 166.9,159.8 166.9,159.8 165.9,158.9 164.8,158.1 163.8,157.2 162.7,156.3 161.7,155.4 160.7,154.5 159.7,153.6 158.7,152.6 157.8,151.6 156.9,150.6 156.0,149.5 155.1,148.5 154.1,147.5 153.3,146.5 152.4,145.5 151.5,144.4 150.6,143.4 149.8,142.4 148.9,141.3 148.1,140.3 147.3,139.3 146.4,138.2 145.6,137.2 144.8,136.1 144.0,135.0 143.3,133.9 142.6,132.8 141.9,131.7 141.3,130.5 140.7,129.3 140.2,128.2 139.6,127.0 139.0,125.8 138.4,124.7 137.8,123.6 137.1,122.4 136.4,121.3 135.8,120.2 135.1,119.2 134.5,118.1 133.8,117.0 133.2,115.9 132.6,114.8 132.1,113.7 131.5,112.5 131.0,111.4 130.5,110.2 129.9,109.1 129.4,107.9 128.8,106.8 128.2,105.7 127.6,104.6 126.9,103.5 126.3,102.5 125.6,101.4 125.0,100.4 124.3,99.3 123.6,98.3 122.9,97.3 122.3,96.2 121.6,95.2 120.9,94.2 120.2,93.2 119.6,92.2 118.9,91.2 118.2,90.2 117.5,89.2 116.9,88.1 116.2,87.1 Z M118.6,86.4 119.2,87.4 119.9,88.4 120.5,89.4 121.2,90.4 121.8,91.4 122.4,92.4 123.1,93.4 123.7,94.4 124.4,95.5 125.0,96.5 125.6,97.5 126.3,98.5 126.9,99.6 127.5,100.6 128.2,101.7 128.8,102.7 129.4,103.8 129.9,104.9 130.5,106.0 131.0,107.2 131.6,108.3 132.1,109.4 132.6,110.6 133.1,111.7 133.6,112.9 134.1,114.0 134.7,115.1 135.2,116.2 135.8,117.3 136.4,118.3 137.0,119.4 137.7,120.5 138.3,121.6 138.9,122.7 139.5,123.9 140.1,125.0 140.6,126.2 141.2,127.4 141.7,128.6 142.3,129.7 142.8,130.9 143.5,132.1 144.1,133.2 144.8,134.3 145.6,135.4 146.4,136.5 147.1,137.5 147.9,138.6 148.7,139.6 149.5,140.7 150.3,141.8 151.1,142.8 152.0,143.9 152.8,144.9 153.7,146.0 154.5,147.0 155.4,148.1 156.3,149.1 157.2,150.2 158.1,151.2 159.0,152.3 159.9,153.3 160.9,154.3 161.8,155.2 162.8,156.2 163.8,157.1 164.9,158.0 165.9,158.9 166.9,159.8 166.9,159.8 165.9,158.9 164.9,158.0 163.9,157.1 162.8,156.2 161.8,155.2 160.9,154.3 159.9,153.3 159.0,152.3 158.1,151.2 157.2,150.2 156.3,149.1 155.4,148.0 154.6,147.0 153.7,145.9 152.9,144.9 152.0,143.8 151.2,142.7 150.4,141.7 149.6,140.6 148.8,139.5 148.1,138.4 147.3,137.4 146.5,136.3 145.8,135.2 145.1,134.1 144.4,133.0 143.7,131.8 143.1,130.7 142.6,129.5 142.1,128.3 141.6,127.1 141.1,125.9 140.6,124.7 140.0,123.5 139.5,122.4 138.9,121.2 138.3,120.1 137.7,119.0 137.1,117.9 136.6,116.8 136.0,115.7 135.5,114.6 135.0,113.5 134.5,112.4 134.1,111.2 133.6,110.1 133.2,108.9 132.7,107.7 132.3,106.6 131.8,105.5 131.3,104.3 130.7,103.2 130.2,102.2 129.6,101.1 129.0,100.0 128.5,99.0 127.9,97.9 127.3,96.9 126.7,95.8 126.1,94.8 125.6,93.8 125.0,92.8 124.4,91.7 123.8,90.7 123.2,89.7 122.7,88.7 122.1,87.7 121.5,86.6 120.9,85.6 Z M122.7,85.1 123.2,86.1 123.8,87.1 124.4,88.1 124.9,89.1 125.5,90.1 126.1,91.1 126.6,92.2 127.2,93.2 127.7,94.2 128.3,95.2 128.9,96.3 129.4,97.3 130.0,98.4 130.5,99.4 131.1,100.5 131.6,101.5 132.1,102.6 132.6,103.7 133.1,104.8 133.6,106.0 134.0,107.1 134.5,108.3 134.9,109.4 135.3,110.6 135.8,111.7 136.2,112.8 136.7,113.9 137.2,115.0 137.7,116.1 138.3,117.2 138.8,118.3 139.4,119.4 139.9,120.5 140.5,121.7 141.0,122.8 141.6,124.0 142.0,125.2 142.5,126.4 143.0,127.6 143.4,128.8 144.0,130.0 144.5,131.1 145.1,132.3 145.8,133.4 146.5,134.5 147.2,135.6 147.9,136.7 148.7,137.8 149.4,138.9 150.2,140.0 150.9,141.1 151.7,142.2 152.5,143.3 153.3,144.3 154.1,145.4 154.9,146.5 155.7,147.6 156.6,148.7 157.5,149.8 158.3,150.9 159.2,151.9 160.1,153.0 161.0,154.0 162.0,155.0 163.0,156.0 163.9,157.0 164.9,157.9 165.9,158.9 166.9,159.8 166.9,159.8 165.9,158.8 164.9,157.9 163.9,156.9 163.0,156.0 162.0,155.0 161.1,154.0 160.1,153.0 159.2,151.9 158.3,150.8 157.5,149.7 156.6,148.6 155.8,147.6 155.0,146.5 154.2,145.4 153.4,144.3 152.6,143.2 151.8,142.1 151.0,141.0 150.3,139.8 149.6,138.7 148.9,137.6 148.2,136.5 147.5,135.4 146.8,134.3 146.1,133.1 145.5,132.0 144.9,130.8 144.4,129.6 143.9,128.4 143.5,127.2 143.0,126.0 142.6,124.8 142.2,123.6 141.7,122.4 141.2,121.2 140.7,120.0 140.2,118.9 139.7,117.8 139.2,116.6 138.7,115.5 138.3,114.4 137.8,113.3 137.4,112.2 137.0,111.0 136.7,109.9 136.3,108.7 136.0,107.6 135.6,106.4 135.2,105.2 134.8,104.1 134.4,103.0 134.0,101.8 133.5,100.7 133.0,99.6 132.6,98.6 132.1,97.5 131.6,96.4 131.1,95.4 130.6,94.3 130.1,93.3 129.7,92.3 129.2,91.2 128.7,90.2 128.2,89.2 127.7,88.2 127.3,87.1 126.8,86.1 126.3,85.1 125.8,84.1 Z M127.2,83.6 127.6,84.7 128.1,85.7 128.6,86.7 129.1,87.7 129.5,88.7 130.0,89.8 130.5,90.8 131.0,91.8 131.4,92.8 131.9,93.9 132.4,94.9 132.8,96.0 133.3,97.0 133.8,98.1 134.2,99.1 134.7,100.2 135.1,101.3 135.6,102.4 136.0,103.6 136.4,104.7 136.7,105.9 137.1,107.0 137.4,108.2 137.8,109.3 138.1,110.5 138.5,111.6 138.9,112.7 139.3,113.8 139.8,114.9 140.2,116.0 140.7,117.1 141.2,118.2 141.7,119.4 142.2,120.6 142.6,121.7 143.1,122.9 143.5,124.1 143.9,125.3 144.3,126.5 144.7,127.7 145.1,129.0 145.6,130.1 146.2,131.3 146.8,132.5 147.4,133.6 148.1,134.8 148.8,135.9 149.5,137.0 150.1,138.1 150.8,139.3 151.6,140.4 152.3,141.5 153.0,142.6 153.8,143.8 154.5,144.9 155.3,146.0 156.1,147.1 156.9,148.2 157.8,149.4 158.6,150.5 159.4,151.6 160.3,152.7 161.2,153.8 162.2,154.8 163.1,155.8 164.0,156.8 165.0,157.8 165.9,158.8 166.9,159.8 166.9,159.8 165.9,158.8 165.0,157.8 164.0,156.8 163.1,155.8 162.2,154.8 161.2,153.8 160.3,152.7 159.5,151.6 158.6,150.5 157.8,149.3 157.0,148.2 156.1,147.1 155.4,145.9 154.6,144.8 153.8,143.7 153.1,142.5 152.4,141.4 151.7,140.3 151.0,139.1 150.3,138.0 149.6,136.8 149.0,135.7 148.3,134.5 147.7,133.4 147.1,132.2 146.5,131.0 146.0,129.8 145.6,128.6 145.2,127.4 144.8,126.1 144.4,124.9 144.1,123.7 143.7,122.5 143.3,121.3 142.9,120.1 142.4,118.9 142.0,117.7 141.6,116.6 141.2,115.4 140.8,114.3 140.4,113.2 140.0,112.1 139.7,110.9 139.4,109.8 139.1,108.6 138.9,107.5 138.6,106.3 138.3,105.1 138.0,103.9 137.7,102.8 137.3,101.7 137.0,100.5 136.6,99.4 136.2,98.3 135.8,97.2 135.4,96.2 135.0,95.1 134.6,94.0 134.2,93.0 133.8,91.9 133.4,90.9 133.0,89.9 132.7,88.8 132.3,87.8 131.9,86.8 131.5,85.7 131.1,84.7 130.7,83.7 130.3,82.6 Z M132.5,82.0 132.9,83.0 133.2,84.0 133.6,85.0 133.9,86.1 134.3,87.1 134.7,88.1 135.0,89.1 135.4,90.2 135.7,91.2 136.1,92.3 136.5,93.3 136.8,94.4 137.2,95.4 137.6,96.5 137.9,97.6 138.3,98.7 138.6,99.8 139.0,100.9 139.3,102.1 139.6,103.2 139.8,104.4 140.1,105.6 140.3,106.7 140.6,107.9 140.8,109.0 141.1,110.2 141.4,111.3 141.7,112.4 142.1,113.5 142.4,114.7 142.8,115.8 143.2,116.9 143.6,118.1 144.0,119.3 144.4,120.5 144.8,121.7 145.1,122.9 145.4,124.1 145.7,125.4 146.1,126.6 146.4,127.9 146.9,129.1 147.3,130.3 147.9,131.5 148.4,132.7 149.1,133.8 149.7,135.0 150.3,136.2 150.9,137.3 151.5,138.5 152.2,139.7 152.9,140.8 153.6,142.0 154.3,143.1 155.0,144.3 155.7,145.5 156.5,146.6 157.3,147.8 158.1,149.0 158.9,150.1 159.7,151.3 160.5,152.4 161.4,153.5 162.3,154.6 163.2,155.7 164.1,156.7 165.1,157.7 166.0,158.8 166.9,159.8 166.9,159.8 166.0,158.8 165.1,157.7 164.1,156.7 163.2,155.6 162.3,154.6 161.4,153.5 160.6,152.4 159.7,151.3 158.9,150.1 158.1,148.9 157.3,147.8 156.5,146.6 155.7,145.4 155.0,144.3 154.3,143.1 153.6,141.9 152.9,140.8 152.3,139.6 151.6,138.4 151.0,137.2 150.4,136.1 149.8,134.9 149.2,133.7 148.6,132.5 148.0,131.3 147.5,130.1 147.0,128.9 146.6,127.7 146.3,126.4 145.9,125.2 145.6,123.9 145.4,122.7 145.1,121.5 144.7,120.3 144.4,119.1 144.0,117.9 143.6,116.7 143.2,115.5 142.9,114.4 142.5,113.3 142.2,112.1 141.9,111.0 141.7,109.9 141.4,108.7 141.2,107.6 141.0,106.4 140.8,105.2 140.6,104.0 140.3,102.9 140.1,101.7 139.8,100.6 139.5,99.4 139.2,98.3 138.9,97.2 138.5,96.1 138.2,95.0 137.9,94.0 137.5,92.9 137.2,91.8 136.9,90.8 136.6,89.7 136.2,88.7 135.9,87.7 135.6,86.6 135.3,85.6 135.0,84.6 134.6,83.5 134.3,82.5 134.0,81.5 Z M136.9,80.6 137.2,81.6 137.5,82.6 137.7,83.6 138.0,84.7 138.3,85.7 138.5,86.7 138.8,87.8 139.1,88.8 139.4,89.9 139.6,90.9 139.9,92.0 140.2,93.0 140.5,94.1 140.8,95.2 141.1,96.3 141.3,97.4 141.6,98.5 141.8,99.7 142.1,100.8 142.3,102.0 142.5,103.1 142.6,104.3 142.8,105.5 143.0,106.7 143.2,107.8 143.4,109.0 143.6,110.1 143.8,111.2 144.1,112.3 144.3,113.5 144.6,114.6 145.0,115.8 145.3,117.0 145.6,118.2 146.0,119.4 146.3,120.6 146.5,121.8 146.8,123.1 147.0,124.3 147.3,125.6 147.6,126.9 148.0,128.1 148.4,129.3 148.9,130.6 149.4,131.8 149.9,133.0 150.5,134.2 151.1,135.4 151.6,136.6 152.2,137.8 152.8,139.0 153.5,140.2 154.1,141.4 154.8,142.6 155.4,143.8 156.1,145.0 156.8,146.2 157.6,147.4 158.4,148.6 159.1,149.8 159.9,151.0 160.8,152.1 161.6,153.3 162.5,154.4 163.3,155.5 164.2,156.6 165.1,157.6 166.0,158.7 166.9,159.8 166.9,159.8 166.0,158.7 165.1,157.6 164.2,156.6 163.4,155.5 162.5,154.4 161.6,153.3 160.8,152.1 159.9,150.9 159.2,149.7 158.4,148.5 157.6,147.3 156.9,146.1 156.2,144.9 155.5,143.7 154.8,142.5 154.1,141.3 153.5,140.1 152.9,138.9 152.3,137.7 151.7,136.5 151.2,135.3 150.6,134.1 150.1,132.9 149.5,131.6 149.0,130.4 148.6,129.2 148.2,127.9 147.8,126.7 147.5,125.4 147.3,124.1 147.0,122.9 146.8,121.6 146.6,120.4 146.3,119.1 146.0,117.9 145.7,116.7 145.4,115.5 145.1,114.3 144.8,113.2 144.6,112.0 144.4,110.9 144.2,109.7 144.0,108.6 143.8,107.5 143.7,106.3 143.6,105.1 143.4,103.9 143.3,102.7 143.1,101.6 143.0,100.4 142.8,99.3 142.6,98.1 142.3,97.0 142.1,95.9 141.9,94.8 141.6,93.7 141.4,92.6 141.1,91.5 140.9,90.4 140.7,89.4 140.4,88.3 140.2,87.3 140.0,86.2 139.7,85.2 139.5,84.2 139.3,83.1 139.0,82.1 138.8,81.1 138.6,80.0 Z M141.6,79.1 141.8,80.1 141.9,81.1 142.1,82.2 142.3,83.2 142.5,84.3 142.6,85.3 142.8,86.3 143.0,87.4 143.2,88.4 143.4,89.5 143.6,90.6 143.8,91.6 143.9,92.7 144.1,93.8 144.3,94.9 144.5,96.1 144.7,97.2 144.9,98.3 145.0,99.5 145.1,100.7 145.2,101.8 145.3,103.0 145.4,104.2 145.5,105.4 145.6,106.5 145.7,107.7 145.8,108.8 146.0,110.0 146.2,111.1 146.3,112.2 146.6,113.4 146.8,114.6 147.1,115.8 147.3,117.0 147.6,118.3 147.8,119.5 148.0,120.7 148.2,122.0 148.3,123.3 148.6,124.5 148.8,125.8 149.1,127.1 149.5,128.4 149.9,129.6 150.3,130.9 150.8,132.1 151.3,133.3 151.9,134.6 152.4,135.8 152.9,137.0 153.5,138.3 154.0,139.5 154.6,140.7 155.3,142.0 155.9,143.2 156.5,144.4 157.2,145.7 157.9,146.9 158.7,148.2 159.4,149.4 160.2,150.6 161.0,151.8 161.8,153.0 162.6,154.2 163.5,155.3 164.3,156.4 165.2,157.6 166.0,158.7 166.9,159.8 166.9,159.8 166.0,158.7 165.2,157.6 164.3,156.4 163.5,155.3 162.6,154.2 161.8,153.0 161.0,151.8 160.2,150.6 159.4,149.4 158.7,148.1 157.9,146.9 157.2,145.7 156.5,144.4 155.9,143.2 155.3,141.9 154.7,140.7 154.1,139.5 153.5,138.2 153.0,137.0 152.4,135.7 151.9,134.5 151.4,133.2 150.9,132.0 150.5,130.7 150.0,129.5 149.6,128.2 149.3,127.0 149.0,125.7 148.8,124.4 148.6,123.1 148.4,121.8 148.2,120.6 148.1,119.3 147.9,118.1 147.7,116.8 147.4,115.6 147.2,114.3 146.9,113.2 146.8,112.0 146.6,110.8 146.4,109.7 146.3,108.5 146.2,107.4 146.1,106.2 146.1,105.1 146.0,103.9 146.0,102.7 145.9,101.5 145.8,100.3 145.7,99.2 145.6,98.0 145.5,96.9 145.3,95.7 145.2,94.6 145.0,93.5 144.8,92.4 144.7,91.3 144.5,90.2 144.4,89.1 144.2,88.1 144.1,87.0 143.9,85.9 143.8,84.9 143.6,83.9 143.5,82.8 143.3,81.8 143.2,80.7 143.1,79.7 142.9,78.6 Z M145.7,77.8 145.8,78.8 145.9,79.9 146.0,80.9 146.1,81.9 146.2,83.0 146.3,84.0 146.4,85.1 146.5,86.1 146.6,87.2 146.7,88.2 146.8,89.3 146.9,90.4 147.0,91.5 147.1,92.6 147.2,93.7 147.4,94.9 147.5,96.0 147.5,97.1 147.6,98.3 147.7,99.5 147.7,100.7 147.7,101.8 147.8,103.0 147.8,104.2 147.8,105.4 147.8,106.5 147.9,107.7 148.0,108.8 148.1,110.0 148.2,111.1 148.3,112.3 148.5,113.5 148.7,114.7 148.9,115.9 149.1,117.2 149.3,118.5 149.4,119.7 149.5,121.0 149.6,122.3 149.8,123.6 149.9,124.9 150.2,126.2 150.5,127.4 150.8,128.7 151.2,130.0 151.7,131.3 152.2,132.5 152.6,133.8 153.1,135.0 153.6,136.3 154.1,137.6 154.6,138.9 155.2,140.1 155.7,141.4 156.3,142.7 156.9,143.9 157.6,145.2 158.3,146.5 159.0,147.8 159.7,149.0 160.4,150.3 161.2,151.5 162.0,152.8 162.8,154.0 163.6,155.1 164.4,156.3 165.2,157.5 166.1,158.6 166.9,159.8 166.9,159.8 166.1,158.6 165.2,157.5 164.4,156.3 163.6,155.1 162.8,154.0 162.0,152.8 161.2,151.5 160.4,150.3 159.7,149.0 159.0,147.7 158.3,146.5 157.6,145.2 157.0,143.9 156.4,142.6 155.8,141.3 155.2,140.1 154.7,138.8 154.1,137.5 153.6,136.2 153.2,134.9 152.7,133.7 152.3,132.4 151.9,131.1 151.4,129.8 151.0,128.5 150.7,127.2 150.5,125.9 150.2,124.6 150.1,123.3 149.9,122.0 149.8,120.7 149.8,119.4 149.7,118.2 149.6,116.9 149.4,115.6 149.2,114.4 149.1,113.1 148.9,111.9 148.8,110.7 148.8,109.5 148.7,108.4 148.7,107.2 148.7,106.1 148.7,104.9 148.7,103.7 148.7,102.5 148.8,101.3 148.8,100.1 148.8,99.0 148.8,97.8 148.8,96.6 148.7,95.4 148.7,94.3 148.6,93.2 148.5,92.0 148.5,90.9 148.4,89.8 148.3,88.7 148.3,87.6 148.2,86.6 148.2,85.5 148.1,84.4 148.1,83.4 148.0,82.3 148.0,81.3 148.0,80.2 147.9,79.2 147.9,78.1 147.8,77.1 Z M150.6,76.2 150.6,77.3 150.6,78.3 150.6,79.4 150.6,80.4 150.6,81.5 150.6,82.5 150.6,83.6 150.6,84.6 150.6,85.7 150.6,86.8 150.6,87.8 150.6,88.9 150.6,90.0 150.7,91.2 150.7,92.3 150.7,93.4 150.7,94.6 150.7,95.7 150.7,96.9 150.7,98.1 150.6,99.3 150.5,100.5 150.5,101.7 150.4,102.9 150.3,104.0 150.3,105.2 150.2,106.3 150.2,107.5 150.2,108.7 150.3,109.8 150.3,111.0 150.4,112.2 150.5,113.5 150.7,114.8 150.8,116.0 150.9,117.3 150.9,118.6 150.9,119.9 151.0,121.2 151.1,122.5 151.2,123.8 151.4,125.1 151.6,126.4 151.9,127.7 152.2,129.1 152.6,130.4 153.0,131.7 153.4,133.0 153.8,134.3 154.2,135.6 154.7,136.9 155.2,138.2 155.7,139.5 156.2,140.8 156.8,142.1 157.3,143.4 157.9,144.7 158.6,146.0 159.3,147.4 160.0,148.7 160.7,150.0 161.4,151.2 162.2,152.5 162.9,153.7 163.7,155.0 164.5,156.2 165.3,157.4 166.1,158.6 166.9,159.8 166.9,159.8 166.1,158.6 165.3,157.4 164.5,156.2 163.7,155.0 162.9,153.7 162.2,152.5 161.4,151.2 160.7,150.0 160.0,148.6 159.3,147.3 158.6,146.0 158.0,144.7 157.3,143.4 156.8,142.1 156.3,140.8 155.7,139.4 155.2,138.1 154.7,136.8 154.3,135.5 153.9,134.2 153.5,132.9 153.1,131.6 152.7,130.3 152.3,129.0 152.0,127.6 151.7,126.3 151.5,125.0 151.4,123.7 151.3,122.3 151.2,121.0 151.1,119.7 151.1,118.4 151.1,117.1 151.1,115.8 151.0,114.5 150.9,113.3 150.8,112.0 150.7,110.8 150.7,109.6 150.7,108.4 150.7,107.2 150.7,106.1 150.8,104.9 150.9,103.8 151.0,102.6 151.1,101.4 151.2,100.2 151.3,99.0 151.3,97.8 151.4,96.6 151.4,95.4 151.5,94.3 151.5,93.1 151.5,92.0 151.5,90.8 151.5,89.7 151.5,88.6 151.5,87.5 151.6,86.4 151.6,85.3 151.6,84.2 151.6,83.2 151.7,82.1 151.7,81.1 151.7,80.0 151.8,79.0 151.8,77.9 151.9,76.8 151.9,75.8 Z M154.6,74.9 154.6,76.0 154.5,77.0 154.4,78.1 154.3,79.1 154.2,80.2 154.2,81.2 154.1,82.3 154.0,83.4 153.9,84.4 153.9,85.5 153.8,86.6 153.7,87.7 153.7,88.8 153.6,89.9 153.6,91.1 153.5,92.2 153.5,93.4 153.4,94.6 153.3,95.7 153.2,96.9 153.1,98.1 152.9,99.3 152.8,100.5 152.7,101.7 152.5,102.9 152.4,104.0 152.3,105.2 152.2,106.4 152.1,107.5 152.1,108.7 152.1,109.9 152.1,111.1 152.2,112.4 152.2,113.7 152.3,115.0 152.3,116.3 152.3,117.6 152.2,118.9 152.2,120.2 152.2,121.5 152.3,122.9 152.4,124.2 152.6,125.5 152.8,126.9 153.1,128.2 153.5,129.5 153.8,130.9 154.2,132.2 154.5,133.5 154.9,134.8 155.3,136.2 155.8,137.5 156.2,138.9 156.7,140.2 157.2,141.6 157.7,142.9 158.3,144.3 158.9,145.6 159.6,147.0 160.2,148.3 160.9,149.6 161.6,151.0 162.4,152.3 163.1,153.5 163.9,154.8 164.6,156.1 165.4,157.3 166.1,158.6 166.9,159.8 166.9,159.8 166.1,158.6 165.4,157.3 164.6,156.1 163.9,154.8 163.1,153.5 162.4,152.2 161.6,150.9 160.9,149.6 160.2,148.3 159.6,146.9 158.9,145.6 158.3,144.2 157.8,142.9 157.2,141.5 156.8,140.2 156.3,138.8 155.8,137.5 155.4,136.1 155.0,134.7 154.6,133.4 154.3,132.1 154.0,130.7 153.6,129.4 153.3,128.0 153.0,126.7 152.8,125.3 152.7,124.0 152.6,122.6 152.6,121.3 152.6,119.9 152.6,118.6 152.7,117.3 152.7,116.0 152.7,114.7 152.7,113.3 152.7,112.0 152.7,110.8 152.7,109.5 152.7,108.3 152.8,107.1 152.9,105.9 153.1,104.8 153.2,103.6 153.4,102.4 153.6,101.2 153.8,100.0 154.0,98.8 154.2,97.6 154.3,96.4 154.5,95.2 154.6,94.0 154.8,92.8 154.9,91.7 155.0,90.5 155.1,89.4 155.2,88.2 155.3,87.1 155.4,86.0 155.5,84.9 155.6,83.8 155.7,82.7 155.9,81.7 156.0,80.6 156.2,79.5 156.3,78.5 156.4,77.4 156.6,76.3 156.7,75.3 156.9,74.2 Z M158.9,73.6 158.8,74.6 158.6,75.7 158.4,76.7 158.3,77.8 158.1,78.8 157.9,79.9 157.8,81.0 157.6,82.0 157.5,83.1 157.3,84.2 157.2,85.3 157.0,86.4 156.9,87.5 156.8,88.7 156.6,89.8 156.5,91.0 156.4,92.1 156.2,93.3 156.0,94.5 155.8,95.7 155.7,96.9 155.4,98.1 155.2,99.3 155.0,100.5 154.8,101.7 154.6,102.8 154.4,104.0 154.2,105.2 154.1,106.4 154.0,107.5 153.9,108.8 153.9,110.0 153.8,111.3 153.8,112.6 153.8,113.9 153.8,115.2 153.7,116.5 153.6,117.8 153.5,119.2 153.5,120.5 153.5,121.9 153.5,123.2 153.6,124.6 153.8,126.0 154.1,127.3 154.4,128.7 154.6,130.0 154.9,131.4 155.2,132.8 155.6,134.1 155.9,135.5 156.3,136.9 156.7,138.3 157.2,139.6 157.6,141.0 158.1,142.4 158.7,143.8 159.2,145.2 159.9,146.6 160.5,147.9 161.2,149.3 161.8,150.7 162.5,152.0 163.3,153.3 164.0,154.6 164.7,155.9 165.4,157.2 166.2,158.5 166.9,159.8 166.9,159.8 166.2,158.5 165.4,157.2 164.7,155.9 164.0,154.6 163.3,153.3 162.6,152.0 161.8,150.7 161.2,149.3 160.5,147.9 159.9,146.5 159.3,145.1 158.7,143.7 158.2,142.3 157.7,141.0 157.2,139.6 156.8,138.2 156.4,136.8 156.0,135.4 155.7,134.0 155.4,132.6 155.1,131.2 154.8,129.9 154.6,128.5 154.3,127.1 154.1,125.7 153.9,124.3 153.8,123.0 153.8,121.6 153.8,120.2 153.9,118.8 154.0,117.5 154.2,116.2 154.3,114.8 154.4,113.5 154.4,112.2 154.5,110.9 154.5,109.6 154.6,108.3 154.8,107.1 154.9,105.9 155.1,104.7 155.3,103.5 155.6,102.3 155.9,101.1 156.1,99.9 156.4,98.7 156.7,97.5 157.0,96.3 157.2,95.1 157.4,93.9 157.7,92.7 157.9,91.5 158.1,90.3 158.3,89.1 158.5,88.0 158.6,86.8 158.8,85.7 159.0,84.6 159.3,83.5 159.5,82.4 159.7,81.3 159.9,80.2 160.2,79.1 160.4,78.1 160.6,77.0 160.9,75.9 161.1,74.9 161.3,73.8 161.6,72.7 Z M163.8,72.0 163.6,73.1 163.3,74.1 163.0,75.2 162.8,76.3 162.5,77.3 162.2,78.4 162.0,79.5 161.7,80.5 161.5,81.6 161.2,82.7 161.0,83.8 160.7,84.9 160.5,86.1 160.3,87.2 160.1,88.4 159.8,89.6 159.6,90.7 159.3,91.9 159.1,93.1 158.8,94.3 158.5,95.5 158.2,96.8 157.9,98.0 157.6,99.2 157.3,100.3 157.0,101.5 156.7,102.7 156.5,103.9 156.3,105.1 156.1,106.3 155.9,107.5 155.8,108.8 155.7,110.1 155.6,111.4 155.5,112.7 155.4,114.1 155.2,115.4 155.0,116.7 154.9,118.1 154.8,119.4 154.7,120.8 154.7,122.2 154.7,123.6 154.9,125.0 155.0,126.4 155.3,127.8 155.5,129.2 155.7,130.6 156.0,132.0 156.2,133.4 156.6,134.8 156.9,136.2 157.3,137.6 157.7,139.0 158.1,140.5 158.5,141.9 159.0,143.3 159.6,144.7 160.2,146.1 160.8,147.6 161.4,149.0 162.1,150.4 162.7,151.8 163.4,153.1 164.1,154.5 164.8,155.8 165.5,157.1 166.2,158.5 166.9,159.8 166.9,159.8 166.2,158.5 165.5,157.1 164.8,155.8 164.1,154.5 163.4,153.1 162.7,151.7 162.1,150.4 161.4,149.0 160.8,147.5 160.2,146.1 159.6,144.7 159.0,143.3 158.6,141.8 158.1,140.4 157.7,139.0 157.3,137.6 157.0,136.1 156.6,134.7 156.3,133.3 156.1,131.9 155.8,130.5 155.6,129.1 155.4,127.7 155.2,126.2 155.0,124.8 154.9,123.4 154.9,122.0 154.9,120.6 155.0,119.2 155.2,117.8 155.3,116.5 155.5,115.1 155.7,113.8 155.9,112.5 156.0,111.1 156.1,109.8 156.2,108.5 156.4,107.2 156.6,105.9 156.8,104.7 157.1,103.5 157.4,102.3 157.7,101.1 158.1,100.0 158.4,98.8 158.8,97.6 159.1,96.3 159.4,95.1 159.8,93.9 160.1,92.7 160.4,91.5 160.7,90.3 160.9,89.1 161.2,87.9 161.5,86.7 161.7,85.6 162.0,84.4 162.3,83.3 162.6,82.2 162.9,81.1 163.2,80.0 163.5,78.9 163.8,77.9 164.1,76.8 164.4,75.7 164.7,74.6 165.0,73.6 165.4,72.5 165.7,71.4 Z M167.9,70.7 167.6,71.8 167.2,72.8 166.9,73.9 166.5,75.0 166.2,76.1 165.8,77.1 165.5,78.2 165.2,79.3 164.8,80.4 164.5,81.5 164.2,82.6 163.9,83.7 163.6,84.9 163.3,86.0 163.0,87.2 162.7,88.4 162.4,89.5 162.0,90.7 161.7,91.9 161.4,93.2 161.0,94.4 160.6,95.6 160.3,96.8 159.9,98.0 159.5,99.2 159.1,100.4 158.8,101.6 158.5,102.7 158.2,103.9 157.9,105.1 157.6,106.4 157.4,107.7 157.3,109.0 157.2,110.3 157.0,111.7 156.8,113.0 156.6,114.4 156.3,115.7 156.1,117.1 156.0,118.5 155.8,119.9 155.8,121.3 155.7,122.7 155.8,124.1 155.9,125.5 156.1,127.0 156.3,128.4 156.5,129.8 156.7,131.2 156.9,132.7 157.2,134.1 157.5,135.6 157.8,137.0 158.2,138.5 158.5,139.9 158.9,141.4 159.4,142.8 159.9,144.3 160.5,145.7 161.0,147.2 161.6,148.7 162.3,150.1 162.9,151.5 163.6,152.9 164.2,154.3 164.9,155.7 165.6,157.1 166.2,158.4 166.9,159.8 166.9,159.8 166.2,158.4 165.6,157.0 164.9,155.7 164.2,154.3 163.6,152.9 162.9,151.5 162.3,150.1 161.7,148.6 161.1,147.2 160.5,145.7 159.9,144.2 159.4,142.8 159.0,141.3 158.6,139.9 158.2,138.4 157.9,136.9 157.6,135.5 157.3,134.0 157.0,132.5 156.8,131.1 156.7,129.6 156.5,128.2 156.3,126.8 156.2,125.3 156.1,123.9 156.0,122.4 156.1,121.0 156.2,119.6 156.3,118.1 156.5,116.7 156.8,115.4 157.1,114.0 157.3,112.6 157.6,111.3 157.8,109.9 158.0,108.6 158.2,107.2 158.4,105.9 158.7,104.6 159.0,103.4 159.4,102.2 159.8,101.0 160.2,99.8 160.6,98.6 161.0,97.4 161.5,96.2 161.9,95.0 162.3,93.7 162.8,92.5 163.2,91.3 163.5,90.1 163.9,88.9 164.3,87.7 164.6,86.5 165.0,85.3 165.3,84.1 165.7,83.0 166.1,81.8 166.5,80.7 166.9,79.6 167.3,78.5 167.7,77.4 168.1,76.3 168.5,75.2 168.9,74.2 169.3,73.1 169.8,72.0 170.2,70.9 170.6,69.9 Z M172.5,69.3 172.1,70.3 171.6,71.4 171.2,72.5 170.8,73.5 170.3,74.6 169.9,75.7 169.4,76.8 169.0,77.9 168.6,79.0 168.2,80.1 167.8,81.2 167.4,82.3 167.0,83.5 166.6,84.7 166.2,85.8 165.8,87.0 165.4,88.2 165.0,89.4 164.6,90.6 164.2,91.9 163.7,93.1 163.3,94.3 162.8,95.5 162.4,96.7 161.9,97.9 161.5,99.1 161.0,100.3 160.6,101.5 160.2,102.7 159.9,103.9 159.5,105.2 159.3,106.5 159.0,107.8 158.8,109.2 158.6,110.6 158.3,111.9 158.0,113.3 157.7,114.6 157.4,116.0 157.2,117.4 157.0,118.8 156.9,120.3 156.8,121.7 156.8,123.2 156.9,124.6 157.0,126.1 157.2,127.5 157.3,129.0 157.4,130.5 157.6,131.9 157.8,133.4 158.0,134.9 158.3,136.4 158.6,137.9 159.0,139.4 159.3,140.8 159.8,142.3 160.2,143.8 160.8,145.3 161.3,146.8 161.9,148.3 162.5,149.8 163.1,151.3 163.7,152.7 164.4,154.1 165.0,155.5 165.6,157.0 166.3,158.4 166.9,159.8 166.9,159.8 166.3,158.4 165.6,157.0 165.0,155.5 164.4,154.1 163.7,152.7 163.1,151.2 162.5,149.8 161.9,148.3 161.3,146.8 160.8,145.3 160.3,143.8 159.8,142.3 159.4,140.8 159.0,139.3 158.7,137.8 158.4,136.3 158.1,134.8 157.9,133.3 157.7,131.8 157.5,130.3 157.4,128.9 157.3,127.4 157.2,125.9 157.1,124.4 157.1,122.9 157.1,121.5 157.2,120.0 157.4,118.6 157.6,117.1 157.8,115.7 158.2,114.3 158.5,112.9 158.8,111.6 159.1,110.2 159.4,108.8 159.7,107.4 159.9,106.1 160.2,104.7 160.6,103.5 161.0,102.2 161.5,101.0 161.9,99.8 162.4,98.6 162.9,97.4 163.4,96.2 164.0,95.0 164.5,93.7 165.0,92.5 165.5,91.3 165.9,90.0 166.4,88.8 166.9,87.6 167.3,86.4 167.8,85.2 168.2,84.0 168.6,82.8 169.1,81.7 169.5,80.5 170.0,79.4 170.5,78.3 171.0,77.1 171.5,76.1 172.0,75.0 172.5,73.9 173.0,72.8 173.5,71.7 174.0,70.6 174.5,69.5 175.0,68.5 Z M177.6,67.6 177.1,68.7 176.5,69.8 176.0,70.9 175.4,72.0 174.9,73.0 174.3,74.1 173.8,75.2 173.3,76.3 172.7,77.4 172.2,78.5 171.7,79.7 171.2,80.8 170.7,82.0 170.2,83.2 169.7,84.4 169.3,85.6 168.8,86.8 168.3,88.0 167.8,89.2 167.3,90.4 166.7,91.7 166.2,92.9 165.6,94.1 165.1,95.3 164.5,96.5 164.0,97.7 163.4,98.9 162.9,100.2 162.5,101.4 162.0,102.6 161.6,103.9 161.2,105.2 160.9,106.6 160.6,108.0 160.3,109.4 160.0,110.7 159.6,112.1 159.2,113.5 158.9,114.9 158.6,116.3 158.3,117.8 158.1,119.2 157.9,120.7 157.9,122.2 157.9,123.7 158.0,125.2 158.0,126.7 158.1,128.2 158.2,129.7 158.3,131.2 158.4,132.7 158.6,134.2 158.9,135.7 159.1,137.3 159.4,138.8 159.7,140.3 160.1,141.9 160.6,143.4 161.1,144.9 161.6,146.5 162.1,148.0 162.7,149.5 163.3,151.0 163.9,152.5 164.5,154.0 165.1,155.4 165.7,156.9 166.3,158.3 166.9,159.8 166.9,159.8 166.3,158.3 165.7,156.9 165.1,155.4 164.5,153.9 163.9,152.5 163.3,151.0 162.7,149.5 162.1,148.0 161.6,146.4 161.1,144.9 160.6,143.4 160.1,141.8 159.8,140.3 159.4,138.8 159.2,137.2 158.9,135.7 158.7,134.2 158.5,132.6 158.3,131.1 158.2,129.6 158.2,128.1 158.1,126.6 158.1,125.1 158.0,123.6 158.0,122.1 158.1,120.6 158.2,119.1 158.5,117.6 158.7,116.2 159.1,114.7 159.4,113.3 159.8,111.9 160.2,110.6 160.6,109.2 160.9,107.8 161.2,106.4 161.6,105.0 161.9,103.7 162.4,102.4 162.9,101.1 163.4,99.9 163.9,98.7 164.5,97.5 165.0,96.3 165.6,95.1 166.2,93.8 166.8,92.6 167.4,91.4 167.9,90.1 168.5,88.9 169.0,87.7 169.5,86.4 170.0,85.2 170.5,84.0 171.1,82.8 171.6,81.6 172.1,80.5 172.6,79.3 173.2,78.2 173.7,77.0 174.3,75.9 174.9,74.8 175.4,73.7 176.0,72.7 176.6,71.6 177.2,70.5 177.7,69.4 178.3,68.3 178.9,67.2 Z M181.5,66.4 180.9,67.5 180.3,68.6 179.7,69.6 179.1,70.7 178.4,71.8 177.8,72.9 177.2,74.0 176.6,75.1 176.0,76.2 175.4,77.3 174.8,78.5 174.2,79.6 173.7,80.8 173.1,82.0 172.6,83.2 172.0,84.4 171.5,85.6 170.9,86.8 170.3,88.1 169.7,89.3 169.1,90.5 168.5,91.8 167.9,93.0 167.3,94.2 166.7,95.4 166.0,96.6 165.4,97.8 164.9,99.0 164.3,100.3 163.8,101.5 163.3,102.8 162.9,104.1 162.5,105.5 162.2,106.9 161.8,108.3 161.4,109.7 160.9,111.1 160.5,112.5 160.1,113.9 159.7,115.4 159.4,116.8 159.1,118.3 158.9,119.8 158.8,121.3 158.8,122.8 158.8,124.4 158.8,125.9 158.8,127.4 158.9,128.9 158.9,130.5 159.0,132.0 159.2,133.6 159.4,135.1 159.6,136.7 159.8,138.2 160.1,139.8 160.5,141.4 160.9,143.0 161.4,144.5 161.9,146.1 162.4,147.7 162.9,149.2 163.5,150.7 164.0,152.3 164.6,153.8 165.2,155.3 165.8,156.8 166.3,158.3 166.9,159.8 166.9,159.8 166.3,158.3 165.8,156.8 165.2,155.3 164.6,153.8 164.1,152.3 163.5,150.7 162.9,149.2 162.4,147.6 161.9,146.1 161.4,144.5 160.9,142.9 160.5,141.4 160.2,139.8 159.9,138.2 159.7,136.6 159.5,135.1 159.3,133.5 159.1,131.9 159.0,130.3 159.0,128.8 159.0,127.3 159.0,125.7 159.0,124.2 159.0,122.6 159.1,121.1 159.2,119.6 159.4,118.0 159.7,116.6 160.1,115.1 160.5,113.6 160.9,112.2 161.4,110.8 161.9,109.4 162.3,108.0 162.7,106.5 163.1,105.1 163.5,103.7 164.0,102.4 164.5,101.1 165.1,99.8 165.7,98.6 166.3,97.3 167.0,96.1 167.6,94.9 168.3,93.7 169.0,92.5 169.7,91.2 170.3,90.0 171.0,88.7 171.6,87.5 172.2,86.2 172.9,85.0 173.5,83.8 174.1,82.5 174.7,81.3 175.3,80.1 175.9,79.0 176.5,77.8 177.2,76.6 177.9,75.5 178.5,74.4 179.2,73.3 179.9,72.2 180.5,71.1 181.2,70.0 181.9,68.9 182.6,67.8 183.3,66.7 184.0,65.6 Z M186.4,64.9 185.6,65.9 184.9,67.0 184.2,68.1 183.5,69.2 182.8,70.3 182.1,71.4 181.3,72.5 180.6,73.6 179.9,74.7 179.2,75.9 178.6,77.0 177.9,78.2 177.2,79.4 176.6,80.6 175.9,81.8 175.3,83.0 174.6,84.2 174.0,85.5 173.3,86.7 172.7,87.9 172.0,89.2 171.3,90.4 170.6,91.7 169.9,92.9 169.2,94.1 168.4,95.3 167.8,96.5 167.1,97.8 166.4,99.0 165.8,100.2 165.3,101.5 164.8,102.9 164.3,104.3 163.9,105.7 163.5,107.2 163.0,108.6 162.5,110.0 161.9,111.4 161.4,112.8 161.0,114.3 160.6,115.8 160.3,117.3 160.0,118.8 159.9,120.3 159.8,121.9 159.7,123.5 159.7,125.0 159.6,126.6 159.6,128.1 159.6,129.7 159.7,131.3 159.8,132.9 159.9,134.5 160.1,136.1 160.3,137.7 160.5,139.3 160.8,140.9 161.2,142.5 161.7,144.1 162.1,145.7 162.6,147.3 163.1,148.9 163.7,150.5 164.2,152.1 164.7,153.6 165.3,155.2 165.8,156.7 166.4,158.3 166.9,159.8 166.9,159.8 166.4,158.3 165.8,156.7 165.3,155.2 164.7,153.6 164.2,152.0 163.7,150.5 163.1,148.9 162.6,147.3 162.1,145.7 161.7,144.1 161.3,142.5 160.9,140.9 160.6,139.3 160.3,137.7 160.1,136.0 160.0,134.4 159.8,132.8 159.7,131.2 159.7,129.6 159.7,128.0 159.7,126.5 159.8,124.9 159.9,123.3 159.9,121.8 160.0,120.2 160.2,118.6 160.5,117.1 160.9,115.6 161.3,114.1 161.7,112.6 162.2,111.2 162.8,109.7 163.3,108.3 163.8,106.9 164.3,105.5 164.8,104.0 165.2,102.6 165.8,101.2 166.4,99.9 167.0,98.6 167.7,97.4 168.4,96.2 169.1,94.9 169.9,93.7 170.6,92.5 171.4,91.3 172.1,90.0 172.9,88.8 173.6,87.5 174.3,86.3 175.0,85.0 175.7,83.8 176.4,82.5 177.1,81.3 177.7,80.1 178.4,78.9 179.1,77.7 179.8,76.5 180.6,75.4 181.3,74.2 182.0,73.1 182.8,72.0 183.6,70.9 184.3,69.8 185.1,68.7 185.8,67.6 186.6,66.5 187.4,65.4 188.1,64.3 Z M190.7,63.5 189.9,64.6 189.1,65.7 188.3,66.8 187.5,67.9 186.7,69.0 185.9,70.1 185.1,71.2 184.3,72.3 183.5,73.4 182.7,74.5 182.0,75.7 181.2,76.9 180.5,78.1 179.7,79.3 179.0,80.5 178.3,81.7 177.6,83.0 176.8,84.2 176.1,85.5 175.3,86.7 174.6,88.0 173.8,89.2 173.0,90.5 172.2,91.7 171.5,92.9 170.7,94.1 169.9,95.3 169.2,96.6 168.4,97.8 167.7,99.1 167.1,100.4 166.5,101.8 166.0,103.2 165.5,104.6 165.0,106.1 164.5,107.5 163.9,108.9 163.3,110.4 162.7,111.8 162.2,113.3 161.8,114.8 161.4,116.3 161.1,117.9 160.8,119.4 160.7,121.0 160.6,122.6 160.5,124.2 160.4,125.8 160.3,127.4 160.3,129.0 160.3,130.6 160.4,132.2 160.5,133.9 160.6,135.5 160.7,137.1 160.9,138.8 161.2,140.4 161.6,142.1 162.0,143.7 162.4,145.4 162.9,147.0 163.3,148.6 163.9,150.2 164.4,151.8 164.9,153.4 165.4,155.0 165.9,156.6 166.4,158.2 166.9,159.8 166.9,159.8 166.4,158.2 165.9,156.6 165.4,155.0 164.9,153.4 164.4,151.8 163.9,150.2 163.4,148.6 162.9,147.0 162.4,145.3 162.0,143.7 161.6,142.0 161.2,140.4 161.0,138.7 160.8,137.1 160.6,135.5 160.5,133.8 160.4,132.2 160.4,130.5 160.4,128.9 160.4,127.3 160.5,125.7 160.7,124.1 160.8,122.5 160.9,120.8 161.0,119.2 161.3,117.6 161.6,116.1 162.1,114.6 162.5,113.0 163.1,111.5 163.6,110.1 164.3,108.6 164.9,107.2 165.5,105.8 166.0,104.3 166.5,102.8 167.1,101.4 167.7,100.0 168.4,98.7 169.1,97.4 169.9,96.1 170.7,94.9 171.5,93.7 172.3,92.4 173.2,91.2 174.0,90.0 174.8,88.7 175.6,87.5 176.4,86.2 177.2,84.9 178.0,83.7 178.8,82.4 179.6,81.2 180.3,79.9 181.1,78.7 181.9,77.5 182.7,76.3 183.5,75.1 184.3,73.9 185.1,72.8 186.0,71.7 186.8,70.5 187.7,69.4 188.5,68.3 189.4,67.2 190.2,66.1 191.1,65.0 192.0,63.9 192.8,62.8 Z M195.3,62.0 194.4,63.1 193.5,64.2 192.6,65.3 191.7,66.4 190.8,67.5 190.0,68.6 189.1,69.7 188.2,70.9 187.3,72.0 186.4,73.1 185.6,74.3 184.7,75.5 183.9,76.7 183.1,77.9 182.3,79.1 181.5,80.4 180.6,81.6 179.8,82.9 179.0,84.1 178.2,85.4 177.3,86.7 176.5,87.9 175.6,89.2 174.7,90.4 173.9,91.6 173.0,92.8 172.2,94.1 171.3,95.3 170.5,96.6 169.7,97.8 169.0,99.2 168.4,100.6 167.8,102.0 167.2,103.5 166.6,104.9 166.0,106.4 165.4,107.8 164.7,109.3 164.1,110.7 163.5,112.2 163.0,113.8 162.5,115.3 162.1,116.9 161.8,118.5 161.6,120.1 161.5,121.7 161.4,123.4 161.2,125.0 161.1,126.6 161.0,128.3 160.9,129.9 160.9,131.6 161.0,133.2 161.1,134.9 161.2,136.6 161.3,138.3 161.6,140.0 161.9,141.6 162.3,143.3 162.7,145.0 163.1,146.7 163.6,148.3 164.0,150.0 164.5,151.6 165.0,153.3 165.5,154.9 165.9,156.5 166.4,158.2 166.9,159.8 166.9,159.8 166.4,158.2 165.9,156.5 165.5,154.9 165.0,153.3 164.5,151.6 164.0,150.0 163.6,148.3 163.1,146.7 162.7,145.0 162.3,143.3 161.9,141.6 161.6,139.9 161.4,138.2 161.2,136.6 161.1,134.9 161.0,133.2 161.0,131.5 161.0,129.8 161.0,128.2 161.1,126.5 161.3,124.9 161.5,123.2 161.6,121.6 161.8,120.0 162.0,118.3 162.3,116.7 162.8,115.1 163.2,113.6 163.8,112.0 164.4,110.5 165.0,109.0 165.7,107.6 166.4,106.1 167.0,104.7 167.6,103.2 168.2,101.7 168.8,100.3 169.5,98.8 170.3,97.5 171.1,96.2 171.9,94.9 172.8,93.7 173.7,92.5 174.6,91.2 175.5,90.0 176.5,88.8 177.4,87.5 178.2,86.2 179.1,85.0 180.0,83.7 180.9,82.4 181.7,81.2 182.6,79.9 183.4,78.7 184.3,77.4 185.1,76.2 186.0,75.0 186.9,73.8 187.8,72.6 188.7,71.5 189.6,70.3 190.6,69.2 191.5,68.1 192.4,67.0 193.4,65.9 194.3,64.7 195.3,63.6 196.2,62.5 197.2,61.4 Z M199.4,60.7 198.4,61.8 197.4,62.9 196.5,64.0 195.5,65.1 194.5,66.2 193.5,67.4 192.6,68.5 191.6,69.6 190.7,70.7 189.7,71.9 188.8,73.1 187.9,74.2 186.9,75.5 186.0,76.7 185.2,77.9 184.3,79.2 183.4,80.4 182.5,81.7 181.6,83.0 180.7,84.2 179.8,85.5 178.9,86.8 178.0,88.0 177.0,89.2 176.1,90.5 175.1,91.7 174.2,92.9 173.3,94.2 172.4,95.4 171.6,96.7 170.8,98.1 170.1,99.5 169.4,100.9 168.8,102.4 168.1,103.9 167.4,105.4 166.7,106.8 166.0,108.3 165.3,109.8 164.7,111.3 164.1,112.8 163.6,114.4 163.2,116.0 162.8,117.6 162.6,119.2 162.4,120.9 162.2,122.6 162.0,124.2 161.8,125.9 161.6,127.5 161.5,129.2 161.5,130.9 161.5,132.6 161.6,134.3 161.6,136.0 161.7,137.8 161.9,139.5 162.2,141.2 162.6,142.9 162.9,144.6 163.3,146.3 163.8,148.0 164.2,149.7 164.7,151.4 165.1,153.1 165.6,154.8 166.0,156.5 166.5,158.1 166.9,159.8 166.9,159.8 166.5,158.1 166.0,156.4 165.6,154.8 165.1,153.1 164.7,151.4 164.2,149.7 163.8,148.0 163.4,146.3 163.0,144.6 162.6,142.9 162.2,141.2 162.0,139.4 161.8,137.7 161.7,136.0 161.6,134.3 161.6,132.6 161.6,130.8 161.6,129.1 161.7,127.4 161.9,125.7 162.1,124.1 162.3,122.4 162.6,120.7 162.8,119.0 163.1,117.3 163.4,115.7 163.9,114.1 164.5,112.5 165.1,110.9 165.7,109.4 166.5,107.9 167.2,106.4 168.0,105.0 168.7,103.5 169.4,102.0 170.1,100.5 170.8,99.0 171.5,97.6 172.4,96.2 173.3,94.9 174.2,93.6 175.2,92.4 176.2,91.1 177.2,89.9 178.2,88.6 179.2,87.4 180.2,86.1 181.1,84.9 182.1,83.6 183.1,82.3 184.0,81.0 185.0,79.8 185.9,78.5 186.9,77.2 187.8,76.0 188.8,74.7 189.7,73.5 190.7,72.3 191.7,71.1 192.7,70.0 193.8,68.8 194.8,67.7 195.8,66.6 196.9,65.4 197.9,64.3 199.0,63.2 200.0,62.1 201.1,61.0 202.1,59.9 Z M204.2,59.2 203.1,60.3 202.0,61.4 200.9,62.5 199.9,63.7 198.8,64.8 197.7,65.9 196.7,67.0 195.6,68.1 194.5,69.3 193.5,70.4 192.5,71.6 191.5,72.8 190.5,74.0 189.5,75.3 188.5,76.5 187.5,77.8 186.6,79.1 185.6,80.3 184.6,81.6 183.6,82.9 182.6,84.2 181.6,85.4 180.6,86.7 179.6,87.9 178.5,89.2 177.5,90.4 176.5,91.6 175.5,92.9 174.5,94.2 173.6,95.5 172.7,96.8 171.9,98.3 171.2,99.7 170.5,101.2 169.8,102.8 169.0,104.2 168.2,105.7 167.4,107.2 166.7,108.7 166.0,110.2 165.3,111.8 164.7,113.4 164.2,115.0 163.8,116.6 163.5,118.3 163.3,120.0 163.0,121.7 162.8,123.4 162.5,125.1 162.3,126.8 162.2,128.5 162.1,130.3 162.1,132.0 162.0,133.7 162.1,135.5 162.1,137.2 162.3,139.0 162.6,140.8 162.9,142.5 163.2,144.3 163.6,146.0 164.0,147.8 164.4,149.5 164.8,151.2 165.2,152.9 165.7,154.7 166.1,156.4 166.5,158.1 166.9,159.8 166.9,159.8 166.5,158.1 166.1,156.4 165.7,154.6 165.3,152.9 164.8,151.2 164.4,149.5 164.0,147.7 163.6,146.0 163.2,144.2 162.9,142.5 162.6,140.7 162.3,139.0 162.2,137.2 162.1,135.4 162.1,133.7 162.1,131.9 162.1,130.2 162.2,128.4 162.4,126.7 162.6,125.0 162.9,123.3 163.2,121.6 163.4,119.9 163.7,118.1 164.0,116.4 164.5,114.8 165.0,113.1 165.6,111.5 166.3,110.0 167.0,108.4 167.8,106.9 168.6,105.4 169.5,103.9 170.2,102.4 171.0,100.9 171.7,99.4 172.5,97.9 173.3,96.4 174.2,95.1 175.2,93.7 176.2,92.5 177.3,91.2 178.3,89.9 179.4,88.7 180.5,87.5 181.6,86.2 182.6,84.9 183.7,83.6 184.7,82.4 185.8,81.1 186.8,79.8 187.8,78.5 188.8,77.2 189.9,76.0 190.9,74.7 191.9,73.5 193.0,72.2 194.0,71.0 195.1,69.8 196.2,68.7 197.3,67.5 198.4,66.4 199.6,65.2 200.7,64.1 201.8,63.0 202.9,61.9 204.1,60.8 205.2,59.6 206.3,58.5 Z M209.0,57.7 207.8,58.8 206.6,59.9 205.5,61.0 204.3,62.2 203.1,63.3 201.9,64.4 200.8,65.5 199.6,66.7 198.5,67.8 197.3,69.0 196.2,70.2 195.1,71.4 194.0,72.6 192.9,73.9 191.9,75.1 190.8,76.4 189.7,77.7 188.7,79.0 187.6,80.2 186.5,81.5 185.4,82.8 184.4,84.1 183.3,85.4 182.1,86.6 181.0,87.9 179.9,89.1 178.8,90.3 177.7,91.6 176.7,92.9 175.6,94.2 174.7,95.6 173.8,97.0 173.0,98.5 172.2,100.1 171.4,101.6 170.6,103.1 169.7,104.6 168.9,106.1 168.0,107.6 167.3,109.1 166.6,110.7 165.9,112.4 165.3,114.0 164.9,115.7 164.5,117.4 164.2,119.1 163.9,120.9 163.5,122.6 163.2,124.3 163.0,126.1 162.8,127.8 162.7,129.6 162.6,131.4 162.5,133.1 162.5,134.9 162.5,136.7 162.7,138.5 162.9,140.3 163.2,142.1 163.5,143.9 163.8,145.7 164.2,147.5 164.6,149.2 165.0,151.0 165.4,152.8 165.8,154.5 166.1,156.3 166.5,158.0 166.9,159.8 166.9,159.8 166.5,158.0 166.1,156.3 165.8,154.5 165.4,152.8 165.0,151.0 164.6,149.2 164.2,147.5 163.8,145.7 163.5,143.9 163.2,142.1 162.9,140.3 162.7,138.5 162.6,136.7 162.5,134.9 162.6,133.1 162.6,131.3 162.7,129.5 162.8,127.8 163.0,126.0 163.3,124.2 163.6,122.5 164.0,120.8 164.3,119.0 164.6,117.3 165.0,115.5 165.5,113.8 166.1,112.2 166.8,110.6 167.5,109.0 168.3,107.4 169.1,105.9 170.0,104.4 170.9,102.9 171.8,101.4 172.6,99.8 173.4,98.3 174.2,96.8 175.1,95.3 176.1,93.9 177.2,92.6 178.3,91.3 179.4,90.0 180.5,88.8 181.7,87.5 182.8,86.3 184.0,85.0 185.1,83.7 186.2,82.4 187.3,81.2 188.5,79.9 189.6,78.6 190.7,77.3 191.8,76.0 192.9,74.7 194.0,73.4 195.1,72.2 196.2,71.0 197.3,69.7 198.5,68.5 199.7,67.4 200.9,66.2 202.1,65.1 203.3,63.9 204.5,62.8 205.7,61.7 206.9,60.6 208.1,59.4 209.3,58.3 210.5,57.2 Z M213.0,56.4 211.8,57.5 210.6,58.6 209.3,59.7 208.1,60.9 206.8,62.0 205.6,63.1 204.3,64.3 203.1,65.4 201.8,66.6 200.6,67.7 199.4,68.9 198.2,70.1 197.1,71.4 195.9,72.6 194.8,73.9 193.7,75.2 192.5,76.5 191.4,77.8 190.2,79.1 189.1,80.4 187.9,81.6 186.8,82.9 185.6,84.2 184.4,85.5 183.2,86.7 182.0,87.9 180.9,89.2 179.7,90.5 178.6,91.7 177.5,93.1 176.4,94.5 175.5,95.9 174.6,97.5 173.8,99.0 172.9,100.5 172.0,102.1 171.1,103.6 170.2,105.1 169.3,106.6 168.4,108.2 167.7,109.8 167.0,111.4 166.3,113.1 165.8,114.8 165.4,116.5 165.0,118.3 164.7,120.1 164.3,121.8 163.9,123.6 163.6,125.3 163.4,127.1 163.2,128.9 163.1,130.8 163.0,132.6 162.9,134.4 162.9,136.2 163.0,138.0 163.2,139.9 163.5,141.7 163.8,143.5 164.1,145.4 164.4,147.2 164.8,149.0 165.1,150.8 165.5,152.6 165.9,154.4 166.2,156.2 166.6,158.0 166.9,159.8 166.9,159.8 166.6,158.0 166.2,156.2 165.9,154.4 165.5,152.6 165.2,150.8 164.8,149.0 164.4,147.2 164.1,145.3 163.8,143.5 163.5,141.7 163.2,139.8 163.0,138.0 163.0,136.2 163.0,134.3 163.1,132.5 163.2,130.7 163.3,128.9 163.5,127.0 163.7,125.2 164.1,123.4 164.4,121.7 164.8,119.9 165.2,118.1 165.6,116.3 166.0,114.6 166.6,112.8 167.3,111.2 168.0,109.5 168.8,107.9 169.6,106.3 170.6,104.7 171.5,103.2 172.5,101.7 173.4,100.2 174.3,98.6 175.2,97.1 176.1,95.5 177.1,94.0 178.2,92.6 179.3,91.3 180.5,90.0 181.7,88.7 182.9,87.4 184.2,86.2 185.4,84.9 186.7,83.7 187.9,82.4 189.1,81.1 190.3,79.8 191.5,78.5 192.7,77.2 193.9,75.9 195.1,74.6 196.3,73.3 197.5,72.0 198.7,70.7 199.9,69.5 201.1,68.3 202.4,67.1 203.7,65.9 205.0,64.7 206.3,63.6 207.6,62.4 208.9,61.3 210.2,60.1 211.5,59.0 212.8,57.9 214.1,56.8 215.5,55.6 Z M217.3,55.0 216.0,56.2 214.6,57.3 213.3,58.4 212.0,59.5 210.6,60.7 209.3,61.8 208.0,62.9 206.7,64.1 205.3,65.3 204.0,66.4 202.8,67.6 201.5,68.9 200.3,70.1 199.0,71.4 197.8,72.7 196.6,74.0 195.4,75.2 194.2,76.5 192.9,77.8 191.7,79.1 190.5,80.4 189.3,81.7 188.0,83.0 186.8,84.3 185.5,85.5 184.2,86.7 183.0,88.0 181.7,89.3 180.5,90.6 179.3,91.9 178.3,93.3 177.2,94.8 176.3,96.3 175.4,97.9 174.5,99.5 173.5,101.0 172.5,102.5 171.5,104.0 170.5,105.6 169.7,107.2 168.8,108.8 168.1,110.5 167.4,112.1 166.8,113.9 166.3,115.7 165.9,117.5 165.5,119.2 165.1,121.0 164.7,122.8 164.3,124.6 164.0,126.4 163.8,128.3 163.6,130.1 163.5,132.0 163.4,133.8 163.3,135.7 163.4,137.6 163.5,139.4 163.8,141.3 164.0,143.2 164.3,145.0 164.6,146.9 165.0,148.7 165.3,150.6 165.6,152.4 165.9,154.3 166.3,156.1 166.6,158.0 166.9,159.8 166.9,159.8 166.6,158.0 166.3,156.1 165.9,154.3 165.6,152.4 165.3,150.6 165.0,148.7 164.7,146.9 164.3,145.0 164.1,143.1 163.8,141.3 163.6,139.4 163.4,137.5 163.4,135.7 163.4,133.8 163.6,131.9 163.7,130.0 163.9,128.2 164.1,126.3 164.4,124.5 164.8,122.7 165.2,120.9 165.7,119.0 166.1,117.2 166.6,115.4 167.1,113.6 167.7,111.9 168.4,110.2 169.2,108.5 170.1,106.8 171.0,105.2 172.0,103.6 173.0,102.1 174.1,100.6 175.1,99.0 176.0,97.5 177.0,95.9 178.0,94.3 179.1,92.8 180.2,91.4 181.4,90.0 182.7,88.7 184.0,87.4 185.3,86.1 186.7,84.9 188.0,83.6 189.3,82.4 190.6,81.1 191.9,79.8 193.2,78.4 194.5,77.1 195.8,75.8 197.1,74.5 198.3,73.2 199.6,71.9 200.9,70.6 202.2,69.3 203.5,68.1 204.8,66.8 206.2,65.6 207.6,64.4 208.9,63.3 210.3,62.1 211.7,60.9 213.1,59.8 214.6,58.7 216.0,57.5 217.4,56.4 218.8,55.2 220.2,54.1 Z M222.3,53.4 220.9,54.6 219.4,55.7 218.0,56.8 216.6,58.0 215.1,59.1 213.7,60.3 212.3,61.4 210.8,62.6 209.4,63.7 208.0,64.9 206.6,66.1 205.3,67.4 203.9,68.6 202.6,69.9 201.3,71.2 200.0,72.5 198.7,73.8 197.4,75.1 196.1,76.4 194.7,77.7 193.4,79.0 192.1,80.3 190.8,81.6 189.4,82.9 188.1,84.1 186.7,85.4 185.3,86.7 184.0,88.0 182.7,89.3 181.5,90.6 180.3,92.0 179.2,93.5 178.1,95.1 177.2,96.7 176.2,98.3 175.1,99.8 174.1,101.4 173.0,102.9 171.9,104.5 171.0,106.1 170.1,107.7 169.2,109.4 168.5,111.1 167.8,112.9 167.3,114.7 166.8,116.5 166.4,118.4 165.9,120.2 165.4,122.0 165.0,123.9 164.7,125.7 164.4,127.6 164.2,129.5 164.0,131.4 163.8,133.3 163.7,135.2 163.8,137.1 163.9,139.0 164.1,140.9 164.3,142.8 164.6,144.7 164.9,146.6 165.2,148.5 165.5,150.4 165.8,152.3 166.0,154.1 166.3,156.0 166.6,157.9 166.9,159.8 166.9,159.8 166.6,157.9 166.3,156.0 166.0,154.1 165.8,152.2 165.5,150.4 165.2,148.5 164.9,146.6 164.6,144.7 164.3,142.8 164.1,140.9 163.9,139.0 163.8,137.1 163.8,135.1 163.9,133.2 164.0,131.3 164.2,129.4 164.4,127.5 164.7,125.7 165.1,123.8 165.5,121.9 166.0,120.1 166.5,118.2 167.0,116.4 167.5,114.6 168.0,112.7 168.7,111.0 169.5,109.2 170.3,107.5 171.3,105.9 172.2,104.2 173.3,102.6 174.4,101.1 175.5,99.6 176.6,98.0 177.6,96.4 178.6,94.8 179.7,93.2 180.8,91.7 182.0,90.3 183.3,88.9 184.7,87.6 186.0,86.3 187.4,85.0 188.8,83.7 190.2,82.5 191.6,81.2 193.0,79.9 194.4,78.6 195.7,77.3 197.1,76.0 198.4,74.7 199.8,73.3 201.1,72.0 202.5,70.7 203.8,69.4 205.2,68.1 206.6,66.9 208.0,65.6 209.4,64.4 210.9,63.2 212.3,62.0 213.8,60.9 215.3,59.7 216.8,58.6 218.2,57.4 219.7,56.3 221.2,55.1 222.7,54.0 224.2,52.8 Z M226.9,52.0 225.4,53.1 223.8,54.3 222.3,55.4 220.8,56.5 219.2,57.7 217.7,58.8 216.2,60.0 214.7,61.2 213.2,62.3 211.7,63.5 210.2,64.7 208.8,66.0 207.3,67.3 205.9,68.6 204.5,69.9 203.1,71.2 201.7,72.5 200.3,73.8 198.9,75.1 197.6,76.4 196.2,77.8 194.8,79.1 193.3,80.4 191.9,81.6 190.5,82.9 189.0,84.1 187.6,85.4 186.2,86.7 184.8,88.0 183.4,89.4 182.2,90.8 181.0,92.4 179.9,93.9 178.8,95.6 177.8,97.2 176.7,98.7 175.5,100.3 174.4,101.8 173.3,103.4 172.2,105.0 171.3,106.7 170.4,108.4 169.6,110.2 168.8,112.0 168.3,113.8 167.7,115.7 167.2,117.5 166.7,119.4 166.1,121.3 165.7,123.1 165.3,125.0 165.0,126.9 164.7,128.9 164.5,130.8 164.3,132.7 164.1,134.7 164.1,136.6 164.2,138.6 164.4,140.5 164.6,142.4 164.8,144.4 165.1,146.3 165.4,148.2 165.6,150.2 165.9,152.1 166.1,154.0 166.4,155.9 166.6,157.9 166.9,159.8 166.9,159.8 166.6,157.9 166.4,155.9 166.1,154.0 165.9,152.1 165.6,150.1 165.4,148.2 165.1,146.3 164.8,144.4 164.6,142.4 164.4,140.5 164.2,138.5 164.1,136.6 164.2,134.6 164.3,132.7 164.5,130.8 164.8,128.8 165.0,126.9 165.3,125.0 165.7,123.1 166.2,121.2 166.8,119.3 167.3,117.4 167.9,115.5 168.4,113.7 169.0,111.8 169.7,110.0 170.6,108.2 171.5,106.5 172.5,104.8 173.5,103.2 174.7,101.6 175.8,100.0 177.0,98.5 178.1,96.9 179.2,95.3 180.3,93.7 181.4,92.1 182.6,90.5 183.9,89.1 185.3,87.7 186.8,86.4 188.2,85.1 189.7,83.8 191.1,82.5 192.6,81.2 194.1,80.0 195.6,78.7 197.0,77.4 198.4,76.0 199.9,74.7 201.3,73.4 202.7,72.1 204.2,70.7 205.6,69.4 207.0,68.1 208.5,66.8 210.0,65.5 211.4,64.3 213.0,63.0 214.5,61.8 216.0,60.7 217.6,59.5 219.2,58.3 220.7,57.2 222.3,56.0 223.9,54.9 225.5,53.7 227.0,52.6 228.6,51.4 Z" fill="#808080"/>
<path d="M166.9,159.8 168.1,164.1 169.7,168.2 171.6,172.2 174.0,175.9 177.3,179.0 179.9,182.6 182.2,186.4 184.8,190.0 188.0,193.1 191.4,196.0 194.5,199.2 197.4,202.6 200.4,205.9 203.6,209.0 207.0,211.8 210.7,214.4 214.5,216.7 218.4,218.8 222.4,220.9 226.2,223.1 230.1,225.4 234.1,227.3 238.2,229.0 242.4,230.6 246.6,232.1 250.8,233.5 255.1,235.0 259.3,236.5 263.6,237.6 268.0,238.5 272.3,239.4 276.7,240.3 281.1,241.0 285.6,241.4 290.0,241.5 294.5,241.6 299.0,241.5 303.4,241.3 307.9,240.7 312.3,239.9 316.6,238.8 320.8,237.2 325.1,235.9 329.3,234.6 333.6,233.2 337.7,231.4 341.8,229.5 345.8,227.6 349.9,225.7 353.9,223.8 358.1,222.1 362.2,220.3 366.1,218.1 369.9,215.7 373.7,213.3 377.4,210.8 381.0,208.2 384.5,205.4 388.0,202.6 391.5,199.9 395.1,197.2 398.8,194.6 402.3,191.8 405.6,188.9 408.9,185.9 412.2,182.9 415.5,179.8 418.8,176.8 422.0,173.7 425.2,170.6 428.3,167.3 431.2,163.9 434.0,160.5 436.7,157.0 439.5,153.4 442.2,149.9 445.0,146.4 447.9,143.0 450.8,139.6 453.8,136.4 457.0,133.3 460.5,130.5 464.2,128.0 467.9,125.5 471.7,123.2 475.4,120.8 479.3,118.6 483.1,116.3 486.8,113.8 490.5,111.3 494.2,108.8 498.0,106.5 502.0,104.5 506.0,102.5 510.0,100.6 514.0,98.6 518.0,96.6 522.0,94.7 526.1,93.0 530.3,91.4 534.6,90.2 538.8,88.7 542.9,87.0 547.1,85.4 551.3,84.0 555.6,82.8 560.0,81.9 564.4,81.2 568.8,80.6 573.2,80.2 577.7,79.8 582.2,79.6 586.6,79.5 591.1,79.5 595.6,79.6 600.0,79.8 604.5,80.1 608.9,80.4 613.4,80.8 617.9,81.1 622.3,81.3 626.8,81.6 631.2,82.0 635.6,82.7 640.1,83.3 644.5,84.0 648.9,84.7 653.3,85.4 657.7,86.3 662.1,87.1 666.5,87.8 670.9,88.5 675.3,89.3 679.7,90.1 684.1,91.0 688.5,91.8 692.9,92.6 697.2,93.5 701.5,94.7 705.8,95.9 710.1,97.0 714.5,98.1 718.8,99.2 723.1,100.3 727.5,101.3 731.8,102.3 736.2,103.1 740.6,104.0 745.0,104.8 745.0,104.8 740.6,104.0 736.2,103.1 731.8,102.2 727.5,101.3 723.1,100.3 718.8,99.2 714.5,98.1 710.2,97.0 705.8,95.9 701.5,94.7 697.2,93.5 692.9,92.5 688.5,91.8 684.1,90.9 679.7,90.1 675.3,89.3 670.9,88.5 666.5,87.8 662.1,87.1 657.7,86.3 653.3,85.4 648.9,84.6 644.5,83.9 640.1,83.3 635.7,82.6 631.3,81.9 626.8,81.4 622.4,81.2 617.9,80.9 613.5,80.6 609.0,80.3 604.6,79.9 600.1,79.6 595.6,79.4 591.2,79.3 586.7,79.3 582.2,79.4 577.8,79.6 573.3,79.9 568.9,80.4 564.5,81.0 560.0,81.7 555.7,82.6 551.4,83.7 547.1,85.1 543.0,86.7 538.9,88.4 534.6,89.8 530.4,91.1 526.2,92.7 522.1,94.4 518.1,96.3 514.1,98.3 510.0,100.2 506.0,102.2 502.0,104.2 498.0,106.2 494.2,108.5 490.5,111.1 486.9,113.6 483.2,116.1 479.3,118.4 475.5,120.7 471.7,123.1 467.9,125.4 464.2,127.9 460.5,130.4 457.1,133.2 453.9,136.3 450.8,139.6 447.9,142.9 445.0,146.4 442.2,149.9 439.5,153.4 436.8,156.9 434.0,160.4 431.2,163.9 428.3,167.3 425.2,170.5 422.0,173.7 418.8,176.8 415.5,179.8 412.2,182.8 409.0,185.9 405.6,188.8 402.3,191.8 398.8,194.6 395.1,197.2 391.5,199.8 388.1,202.6 384.5,205.3 381.0,208.1 377.4,210.7 373.7,213.2 370.0,215.5 366.2,217.8 362.3,220.0 358.2,221.8 354.1,223.5 350.0,225.4 346.0,227.2 341.9,229.2 337.9,231.0 333.8,232.7 329.5,234.1 325.3,235.4 321.0,236.7 316.8,238.3 312.5,239.4 308.1,240.2 303.7,240.8 299.2,240.9 294.8,241.0 290.3,240.9 285.9,240.8 281.4,240.4 277.0,239.7 272.6,238.8 268.2,237.9 263.9,237.0 259.5,235.9 255.3,234.5 251.1,233.0 246.9,231.6 242.7,230.1 238.5,228.5 234.4,226.9 230.3,225.0 226.4,222.8 222.6,220.6 218.6,218.6 214.6,216.5 210.8,214.3 207.1,211.7 203.7,208.9 200.4,205.8 197.4,202.5 194.5,199.2 191.4,196.0 188.0,193.1 184.8,190.0 182.3,186.4 179.9,182.6 177.3,179.0 174.0,175.9 171.6,172.2 169.7,168.2 168.1,164.1 166.9,159.8 Z M166.9,159.8 168.3,163.9 170.0,167.9 171.9,171.9 174.5,175.5 177.7,178.5 180.4,182.0 182.9,185.7 185.5,189.3 188.7,192.3 192.1,195.2 195.3,198.3 198.2,201.6 201.3,204.8 204.6,207.8 208.0,210.6 211.7,213.1 215.5,215.3 219.4,217.4 223.4,219.4 227.2,221.6 231.1,223.8 235.2,225.6 239.3,227.2 243.5,228.8 247.7,230.2 251.9,231.6 256.2,233.0 260.4,234.4 264.7,235.4 269.1,236.3 273.4,237.2 277.8,238.0 282.2,238.7 286.7,239.0 291.1,239.2 295.6,239.1 300.1,239.1 304.5,238.8 309.0,238.2 313.4,237.4 317.7,236.2 321.9,234.7 326.1,233.3 330.4,232.0 334.7,230.6 338.8,228.8 342.9,227.0 346.9,225.0 351.0,223.1 355.1,221.3 359.2,219.5 363.3,217.7 367.2,215.5 371.0,213.2 374.8,210.8 378.6,208.3 382.2,205.7 385.8,203.0 389.3,200.2 392.8,197.5 396.4,194.9 400.1,192.3 403.6,189.6 407.0,186.7 410.3,183.7 413.6,180.7 416.9,177.7 420.2,174.7 423.5,171.7 426.7,168.5 429.7,165.3 432.6,161.9 435.4,158.4 438.2,154.9 440.9,151.4 443.6,147.8 446.3,144.3 449.1,140.9 452.0,137.5 455.0,134.2 458.1,131.1 461.5,128.2 465.1,125.6 468.8,123.1 472.5,120.7 476.1,118.3 479.9,116.0 483.7,113.7 487.3,111.1 490.9,108.6 494.5,106.0 498.4,103.8 502.3,101.8 506.4,99.9 510.4,97.9 514.4,96.1 518.4,94.2 522.4,92.4 526.6,90.8 530.8,89.3 535.0,88.1 539.3,86.7 543.4,85.1 547.6,83.6 551.8,82.3 556.1,81.2 560.5,80.3 564.9,79.7 569.3,79.2 573.7,78.7 578.2,78.4 582.6,78.3 587.1,78.2 591.6,78.2 596.0,78.4 600.5,78.6 604.9,78.9 609.4,79.3 613.8,79.7 618.3,80.0 622.7,80.2 627.2,80.4 631.6,80.7 636.1,81.4 640.5,82.1 644.9,82.7 649.3,83.4 653.7,84.2 658.1,85.1 662.5,85.9 666.8,86.7 671.2,87.4 675.6,88.2 680.0,89.1 684.4,90.0 688.7,90.9 693.1,91.7 697.4,92.7 701.7,94.0 706.0,95.2 710.3,96.4 714.6,97.5 718.9,98.6 723.2,99.8 727.5,100.9 731.9,101.8 736.3,102.7 740.6,103.6 745.0,104.5 745.0,104.5 740.6,103.6 736.3,102.7 731.9,101.8 727.5,100.8 723.2,99.7 718.9,98.6 714.6,97.5 710.3,96.3 706.0,95.1 701.7,93.9 697.4,92.7 693.1,91.7 688.7,90.8 684.4,89.9 680.0,89.0 675.6,88.2 671.3,87.4 666.9,86.6 662.5,85.8 658.1,85.0 653.7,84.1 649.3,83.3 644.9,82.6 640.5,81.9 636.1,81.2 631.7,80.5 627.3,80.2 622.8,80.0 618.4,79.7 613.9,79.4 609.5,79.0 605.1,78.6 600.6,78.3 596.2,78.0 591.7,77.8 587.3,77.8 582.8,77.8 578.3,78.0 573.9,78.3 569.5,78.7 565.0,79.2 560.6,79.9 556.3,80.7 551.9,81.8 547.7,83.1 543.5,84.6 539.4,86.1 535.2,87.5 530.9,88.7 526.7,90.1 522.6,91.7 518.5,93.5 514.5,95.4 510.5,97.3 506.5,99.2 502.4,101.1 498.4,103.2 494.6,105.5 491.0,108.1 487.4,110.7 483.7,113.3 480.0,115.7 476.2,118.0 472.5,120.5 468.8,122.9 465.2,125.4 461.6,128.0 458.2,130.9 455.1,134.1 452.1,137.4 449.2,140.8 446.4,144.2 443.6,147.7 440.9,151.3 438.2,154.9 435.5,158.4 432.7,161.9 429.8,165.2 426.7,168.5 423.5,171.6 420.3,174.7 417.0,177.7 413.7,180.7 410.4,183.7 407.0,186.6 403.7,189.5 400.1,192.3 396.5,194.8 392.9,197.4 389.3,200.1 385.8,202.8 382.3,205.5 378.7,208.1 375.0,210.5 371.2,212.8 367.4,215.1 363.5,217.2 359.4,218.9 355.3,220.7 351.3,222.5 347.2,224.3 343.2,226.2 339.1,228.1 335.0,229.8 330.8,231.1 326.5,232.4 322.3,233.7 318.1,235.2 313.8,236.3 309.4,237.1 305.0,237.7 300.6,237.9 296.1,238.0 291.7,237.9 287.2,237.8 282.8,237.5 278.4,236.9 274.0,236.1 269.6,235.2 265.2,234.4 260.9,233.4 256.7,232.0 252.5,230.7 248.2,229.3 244.0,227.9 239.8,226.4 235.7,224.8 231.6,223.0 227.7,220.9 223.8,218.8 219.8,216.9 215.8,214.9 211.9,212.8 208.2,210.3 204.7,207.6 201.4,204.6 198.3,201.4 195.3,198.2 192.2,195.1 188.8,192.3 185.5,189.3 182.9,185.7 180.4,182.0 177.8,178.5 174.5,175.5 171.9,171.9 170.0,167.9 168.3,163.9 166.9,159.8 Z M166.9,159.8 168.4,163.8 170.2,167.7 172.3,171.5 174.9,175.1 178.2,178.0 180.9,181.5 183.5,185.0 186.2,188.5 189.5,191.5 192.9,194.3 196.1,197.3 199.1,200.5 202.2,203.6 205.6,206.5 209.1,209.2 212.8,211.6 216.6,213.8 220.6,215.8 224.6,217.6 228.5,219.7 232.4,221.8 236.5,223.5 240.6,225.1 244.8,226.6 249.0,228.0 253.3,229.3 257.5,230.6 261.7,231.9 266.1,232.8 270.4,233.6 274.8,234.5 279.2,235.2 283.6,235.8 288.0,236.2 292.5,236.2 296.9,236.2 301.4,236.0 305.8,235.8 310.2,235.1 314.6,234.3 319.0,233.2 323.2,231.7 327.4,230.3 331.7,229.0 335.9,227.6 340.1,225.9 344.1,224.1 348.2,222.1 352.2,220.3 356.3,218.4 360.4,216.7 364.5,214.9 368.4,212.7 372.3,210.5 376.1,208.2 379.8,205.7 383.5,203.1 387.0,200.4 390.6,197.8 394.1,195.1 397.8,192.5 401.5,190.0 405.0,187.3 408.4,184.4 411.8,181.5 415.1,178.6 418.4,175.6 421.7,172.6 425.0,169.6 428.1,166.5 431.2,163.2 434.1,159.9 436.9,156.4 439.6,152.8 442.3,149.3 444.9,145.7 447.7,142.2 450.5,138.7 453.3,135.3 456.2,132.0 459.3,128.8 462.6,125.9 466.1,123.2 469.7,120.6 473.3,118.1 476.9,115.6 480.6,113.2 484.2,110.8 487.8,108.2 491.3,105.6 495.0,103.0 498.8,100.8 502.8,98.8 506.8,96.9 510.8,95.0 514.9,93.2 518.9,91.5 522.9,89.7 527.1,88.2 531.3,86.9 535.6,85.7 539.8,84.5 544.0,83.0 548.1,81.6 552.4,80.3 556.7,79.3 561.0,78.6 565.5,78.0 569.9,77.5 574.3,77.1 578.7,76.9 583.2,76.7 587.7,76.7 592.1,76.8 596.6,77.0 601.0,77.3 605.4,77.6 609.9,78.0 614.3,78.4 618.8,78.7 623.2,79.0 627.7,79.1 632.1,79.4 636.5,80.1 640.9,80.7 645.3,81.3 649.7,82.1 654.1,82.9 658.5,83.8 662.8,84.7 667.2,85.5 671.6,86.3 675.9,87.1 680.3,88.0 684.6,89.0 689.0,90.0 693.3,90.8 697.6,91.9 701.9,93.2 706.1,94.5 710.4,95.7 714.7,96.9 719.0,98.1 723.3,99.2 727.6,100.4 731.9,101.3 736.3,102.3 740.6,103.2 745.0,104.1 745.0,104.1 740.6,103.2 736.3,102.3 731.9,101.3 727.6,100.3 723.3,99.2 719.0,98.0 714.7,96.9 710.4,95.7 706.2,94.5 701.9,93.2 697.6,91.9 693.3,90.8 689.0,89.9 684.7,89.0 680.3,88.0 676.0,87.1 671.6,86.3 667.2,85.4 662.9,84.6 658.5,83.8 654.1,82.8 649.7,82.0 645.3,81.3 640.9,80.6 636.5,80.0 632.1,79.3 627.7,79.0 623.3,78.9 618.8,78.6 614.4,78.2 609.9,77.8 605.5,77.4 601.1,77.1 596.6,76.8 592.2,76.6 587.7,76.5 583.3,76.5 578.8,76.6 574.4,76.9 570.0,77.2 565.5,77.7 561.1,78.3 556.8,79.1 552.5,80.0 548.2,81.3 544.0,82.7 539.9,84.1 535.6,85.4 531.4,86.5 527.2,87.9 523.0,89.4 519.0,91.1 514.9,92.8 510.9,94.6 506.8,96.5 502.8,98.4 498.8,100.4 495.0,102.7 491.4,105.3 487.8,108.0 484.3,110.6 480.6,113.1 476.9,115.5 473.3,118.0 469.7,120.5 466.1,123.1 462.6,125.8 459.3,128.7 456.3,131.9 453.3,135.2 450.5,138.7 447.7,142.2 445.0,145.7 442.3,149.2 439.6,152.8 436.9,156.3 434.2,159.8 431.3,163.2 428.2,166.4 425.0,169.6 421.7,172.6 418.4,175.6 415.1,178.5 411.8,181.5 408.4,184.4 405.0,187.3 401.5,190.0 397.8,192.5 394.2,195.0 390.6,197.7 387.1,200.4 383.5,203.0 379.9,205.6 376.2,208.0 372.4,210.3 368.5,212.5 364.6,214.6 360.5,216.4 356.4,218.1 352.4,219.9 348.3,221.8 344.3,223.6 340.3,225.5 336.1,227.2 331.9,228.5 327.6,229.8 323.4,231.1 319.2,232.6 314.9,233.7 310.5,234.5 306.1,235.1 301.7,235.4 297.2,235.5 292.8,235.5 288.3,235.5 283.9,235.1 279.5,234.6 275.1,233.8 270.7,233.0 266.4,232.2 262.0,231.3 257.8,230.0 253.6,228.7 249.3,227.4 245.1,226.1 240.9,224.6 236.7,223.1 232.7,221.4 228.7,219.4 224.8,217.3 220.8,215.5 216.8,213.5 212.9,211.4 209.2,209.0 205.7,206.3 202.3,203.5 199.2,200.4 196.1,197.2 192.9,194.3 189.5,191.5 186.2,188.5 183.5,185.0 180.9,181.5 178.2,178.0 174.9,175.1 172.3,171.5 170.2,167.7 168.4,163.8 166.9,159.8 Z M166.9,159.8 168.5,163.7 170.5,167.4 172.7,171.2 175.3,174.7 178.7,177.6 181.5,180.9 184.1,184.4 186.8,187.8 190.2,190.7 193.6,193.4 196.9,196.4 200.0,199.4 203.1,202.4 206.5,205.3 210.0,207.9 213.7,210.3 217.6,212.4 221.6,214.3 225.6,216.2 229.5,218.2 233.4,220.2 237.5,221.9 241.7,223.4 245.9,224.8 250.1,226.1 254.3,227.4 258.6,228.6 262.8,229.8 267.1,230.8 271.5,231.5 275.9,232.3 280.3,233.0 284.7,233.6 289.1,233.9 293.5,233.9 298.0,233.8 302.4,233.6 306.9,233.3 311.3,232.6 315.7,231.8 320.0,230.7 324.2,229.2 328.5,227.8 332.8,226.5 337.0,225.1 341.1,223.4 345.2,221.5 349.3,219.6 353.3,217.7 357.4,215.9 361.5,214.1 365.6,212.3 369.5,210.2 373.4,208.0 377.3,205.7 381.0,203.2 384.7,200.7 388.3,198.0 391.9,195.3 395.4,192.7 399.1,190.2 402.8,187.7 406.4,185.1 409.8,182.2 413.2,179.4 416.5,176.4 419.8,173.5 423.2,170.6 426.5,167.6 429.6,164.4 432.7,161.2 435.6,157.8 438.4,154.3 441.0,150.8 443.6,147.2 446.3,143.6 449.0,140.1 451.8,136.6 454.5,133.2 457.4,129.8 460.4,126.6 463.6,123.6 467.0,120.9 470.5,118.3 474.0,115.7 477.6,113.1 481.2,110.7 484.8,108.2 488.3,105.6 491.7,102.9 495.3,100.3 499.1,98.0 503.1,96.1 507.2,94.3 511.2,92.4 515.3,90.7 519.3,89.1 523.4,87.5 527.5,86.0 531.7,84.8 536.0,83.7 540.3,82.5 544.4,81.2 548.6,79.8 552.9,78.7 557.2,77.7 561.5,77.0 565.9,76.5 570.4,76.1 574.8,75.7 579.2,75.5 583.7,75.4 588.1,75.4 592.6,75.6 597.0,75.8 601.4,76.1 605.9,76.5 610.3,76.9 614.7,77.3 619.2,77.7 623.6,77.9 628.1,77.9 632.5,78.2 636.9,78.8 641.3,79.4 645.7,80.1 650.1,80.8 654.5,81.6 658.9,82.5 663.2,83.4 667.6,84.3 671.9,85.2 676.3,86.1 680.6,87.0 684.9,88.0 689.2,89.0 693.6,90.0 697.8,91.1 702.1,92.5 706.3,93.8 710.6,95.1 714.8,96.3 719.1,97.5 723.4,98.7 727.7,99.9 732.0,100.9 736.3,101.9 740.7,102.8 745.0,103.8 745.0,103.8 740.7,102.8 736.3,101.8 732.0,100.9 727.7,99.9 723.4,98.7 719.1,97.5 714.8,96.3 710.6,95.0 706.3,93.7 702.1,92.4 697.9,91.1 693.6,89.9 689.3,89.0 684.9,88.0 680.6,87.0 676.3,86.0 671.9,85.1 667.6,84.2 663.2,83.4 658.9,82.5 654.5,81.5 650.2,80.7 645.8,80.0 641.4,79.3 637.0,78.6 632.6,78.0 628.2,77.7 623.7,77.6 619.3,77.3 614.9,77.0 610.4,76.5 606.0,76.1 601.6,75.7 597.2,75.3 592.7,75.1 588.3,75.0 583.8,74.9 579.4,75.0 575.0,75.2 570.5,75.5 566.1,76.0 561.7,76.5 557.4,77.2 553.0,78.1 548.8,79.2 544.6,80.5 540.4,81.8 536.2,83.0 531.9,84.0 527.7,85.3 523.5,86.7 519.4,88.3 515.4,89.9 511.3,91.7 507.3,93.5 503.2,95.4 499.2,97.4 495.4,99.7 491.8,102.3 488.4,105.1 484.9,107.8 481.3,110.3 477.7,112.8 474.1,115.4 470.6,118.0 467.1,120.7 463.7,123.4 460.5,126.4 457.5,129.7 454.6,133.0 451.8,136.5 449.1,140.0 446.4,143.5 443.7,147.1 441.1,150.7 438.4,154.3 435.7,157.8 432.8,161.1 429.7,164.3 426.5,167.5 423.2,170.5 419.9,173.4 416.6,176.4 413.2,179.3 409.8,182.1 406.4,185.0 402.9,187.6 399.1,190.1 395.5,192.6 391.9,195.2 388.4,197.8 384.8,200.4 381.2,202.9 377.4,205.3 373.6,207.5 369.8,209.7 365.9,211.7 361.8,213.5 357.7,215.2 353.6,217.0 349.6,218.8 345.6,220.7 341.5,222.5 337.4,224.2 333.2,225.5 328.9,226.7 324.7,228.0 320.5,229.5 316.2,230.6 311.8,231.4 307.4,232.0 303.0,232.3 298.6,232.4 294.2,232.5 289.7,232.5 285.3,232.2 280.9,231.7 276.5,231.0 272.1,230.3 267.8,229.6 263.4,228.7 259.2,227.5 254.9,226.3 250.7,225.1 246.4,223.8 242.2,222.4 238.1,221.0 234.0,219.3 230.0,217.4 226.0,215.5 222.0,213.8 217.9,212.0 214.0,209.9 210.2,207.6 206.7,205.0 203.3,202.3 200.1,199.3 197.0,196.2 193.7,193.4 190.2,190.7 186.9,187.8 184.1,184.4 181.5,180.9 178.7,177.5 175.4,174.6 172.7,171.2 170.5,167.4 168.6,163.7 166.9,159.8 Z M166.9,159.8 168.7,163.5 170.8,167.2 173.0,170.8 175.8,174.2 179.1,177.1 182.0,180.3 184.7,183.7 187.5,187.1 190.9,189.9 194.4,192.6 197.7,195.4 200.9,198.3 204.1,201.2 207.5,204.0 211.1,206.5 214.8,208.8 218.7,210.9 222.7,212.7 226.8,214.5 230.7,216.4 234.6,218.3 238.8,219.9 242.9,221.3 247.1,222.7 251.4,223.9 255.6,225.1 259.9,226.3 264.1,227.4 268.5,228.2 272.8,228.9 277.2,229.7 281.6,230.3 286.0,230.8 290.4,231.0 294.8,231.0 299.3,230.9 303.7,230.7 308.2,230.3 312.6,229.7 316.9,228.8 321.3,227.7 325.5,226.2 329.7,224.9 334.0,223.6 338.2,222.2 342.4,220.5 346.4,218.7 350.5,216.8 354.5,214.9 358.6,213.1 362.7,211.3 366.8,209.6 370.8,207.5 374.6,205.3 378.5,203.0 382.3,200.6 385.9,198.1 389.6,195.5 393.2,192.9 396.8,190.3 400.4,187.8 404.2,185.4 407.7,182.8 411.2,180.0 414.6,177.2 417.9,174.3 421.3,171.4 424.7,168.5 428.0,165.5 431.1,162.4 434.2,159.2 437.1,155.8 439.8,152.3 442.5,148.7 445.0,145.1 447.7,141.5 450.4,138.0 453.1,134.5 455.8,131.0 458.6,127.6 461.5,124.3 464.7,121.3 468.0,118.5 471.4,115.8 474.9,113.1 478.3,110.5 481.8,108.0 485.4,105.4 488.8,102.7 492.2,100.0 495.7,97.3 499.5,95.1 503.5,93.1 507.6,91.3 511.6,89.5 515.7,87.9 519.8,86.4 523.9,84.9 528.0,83.6 532.3,82.4 536.5,81.4 540.8,80.3 545.0,79.1 549.2,77.8 553.4,76.8 557.7,75.9 562.1,75.3 566.5,74.8 570.9,74.4 575.3,74.1 579.8,74.0 584.2,73.9 588.7,74.0 593.1,74.1 597.5,74.4 601.9,74.7 606.4,75.2 610.8,75.6 615.2,76.1 619.6,76.5 624.1,76.7 628.5,76.7 632.9,76.9 637.4,77.5 641.8,78.1 646.2,78.7 650.6,79.5 654.9,80.3 659.3,81.3 663.6,82.2 667.9,83.1 672.3,84.0 676.6,85.0 680.9,86.0 685.2,87.0 689.5,88.1 693.8,89.1 698.1,90.3 702.3,91.7 706.5,93.1 710.7,94.4 714.9,95.7 719.2,96.9 723.4,98.2 727.7,99.4 732.0,100.4 736.3,101.4 740.7,102.4 745.0,103.4 745.0,103.4 740.7,102.4 736.3,101.4 732.0,100.4 727.7,99.4 723.4,98.2 719.2,96.9 714.9,95.7 710.7,94.4 706.5,93.0 702.3,91.7 698.1,90.3 693.8,89.1 689.5,88.1 685.2,87.0 680.9,86.0 676.6,84.9 672.3,84.0 668.0,83.1 663.6,82.2 659.3,81.2 654.9,80.3 650.6,79.4 646.2,78.7 641.8,78.0 637.4,77.3 633.0,76.7 628.6,76.5 624.2,76.5 619.7,76.2 615.3,75.8 610.9,75.4 606.5,74.9 602.1,74.4 597.6,74.1 593.2,73.8 588.8,73.6 584.3,73.5 579.9,73.6 575.5,73.8 571.1,74.0 566.6,74.4 562.2,74.9 557.9,75.5 553.5,76.3 549.3,77.4 545.1,78.6 540.9,79.8 536.7,80.9 532.4,81.8 528.1,83.0 524.0,84.3 519.9,85.8 515.8,87.3 511.7,89.0 507.7,90.8 503.6,92.6 499.6,94.5 495.8,96.9 492.3,99.6 488.8,102.3 485.4,105.1 481.9,107.7 478.4,110.3 474.9,113.0 471.5,115.6 468.1,118.4 464.8,121.2 461.6,124.2 458.7,127.5 455.9,130.9 453.1,134.4 450.4,137.9 447.7,141.5 445.1,145.0 442.5,148.7 439.9,152.2 437.2,155.7 434.2,159.1 431.2,162.3 428.0,165.4 424.7,168.4 421.4,171.3 418.0,174.2 414.6,177.1 411.2,179.9 407.8,182.7 404.2,185.4 400.5,187.8 396.8,190.2 393.2,192.8 389.6,195.4 386.0,197.9 382.4,200.4 378.6,202.8 374.8,204.9 370.9,207.1 367.0,209.1 362.9,210.9 358.8,212.6 354.8,214.4 350.7,216.2 346.7,218.0 342.7,219.8 338.6,221.5 334.3,222.8 330.1,224.1 325.8,225.4 321.6,226.8 317.3,227.9 313.0,228.7 308.6,229.3 304.2,229.7 299.7,229.9 295.3,230.0 290.9,230.0 286.5,229.8 282.0,229.3 277.7,228.7 273.3,228.0 268.9,227.3 264.6,226.5 260.3,225.4 256.1,224.3 251.8,223.2 247.6,221.9 243.4,220.6 239.2,219.2 235.1,217.6 231.1,215.8 227.1,214.0 223.0,212.3 219.0,210.5 215.0,208.6 211.2,206.3 207.7,203.8 204.2,201.1 201.0,198.2 197.8,195.3 194.4,192.5 190.9,189.9 187.5,187.0 184.7,183.7 182.0,180.3 179.2,177.1 175.8,174.2 173.0,170.8 170.8,167.2 168.7,163.5 166.9,159.8 Z M166.9,159.8 168.8,163.4 171.0,166.9 173.4,170.5 176.2,173.8 179.6,176.6 182.5,179.8 185.3,183.1 188.2,186.3 191.6,189.1 195.1,191.7 198.5,194.4 201.7,197.3 205.0,200.1 208.5,202.7 212.1,205.2 215.9,207.5 219.8,209.4 223.8,211.2 227.8,212.9 231.8,214.7 235.8,216.5 239.9,218.1 244.1,219.4 248.3,220.7 252.5,221.9 256.8,223.0 261.1,224.1 265.3,225.2 269.6,225.9 274.0,226.6 278.4,227.2 282.8,227.8 287.2,228.3 291.6,228.5 296.0,228.4 300.5,228.3 304.9,228.0 309.3,227.6 313.7,226.9 318.1,226.1 322.4,225.0 326.6,223.5 330.9,222.1 335.2,220.9 339.4,219.5 343.5,217.8 347.6,216.0 351.6,214.1 355.7,212.2 359.8,210.4 363.9,208.7 368.0,206.9 371.9,204.8 375.8,202.7 379.7,200.5 383.5,198.1 387.2,195.6 390.8,193.0 394.4,190.5 398.1,187.9 401.8,185.5 405.5,183.1 409.1,180.5 412.6,177.8 416.0,175.0 419.4,172.1 422.8,169.3 426.2,166.4 429.4,163.4 432.6,160.3 435.7,157.1 438.6,153.8 441.3,150.2 443.9,146.6 446.4,143.0 449.0,139.4 451.7,135.9 454.4,132.4 457.0,128.9 459.8,125.4 462.7,122.1 465.8,119.0 469.0,116.2 472.3,113.4 475.6,110.7 479.0,107.9 482.5,105.3 485.9,102.7 489.3,99.9 492.6,97.2 496.1,94.5 499.9,92.2 503.9,90.3 508.0,88.6 512.0,86.8 516.1,85.3 520.2,83.8 524.3,82.4 528.5,81.2 532.7,80.1 537.0,79.2 541.3,78.2 545.5,77.1 549.7,75.9 553.9,75.0 558.3,74.2 562.6,73.6 567.0,73.2 571.4,72.9 575.9,72.6 580.3,72.5 584.7,72.5 589.2,72.6 593.6,72.8 598.0,73.1 602.4,73.5 606.8,73.9 611.2,74.4 615.7,74.9 620.1,75.3 624.5,75.5 628.9,75.5 633.4,75.6 637.8,76.2 642.2,76.8 646.6,77.4 651.0,78.2 655.3,79.0 659.7,80.0 664.0,81.0 668.3,81.9 672.6,82.9 676.9,83.9 681.2,85.0 685.5,86.1 689.8,87.2 694.0,88.3 698.3,89.5 702.4,91.0 706.6,92.4 710.8,93.7 715.0,95.1 719.3,96.4 723.5,97.7 727.8,98.9 732.1,100.0 736.4,101.0 740.7,102.1 745.0,103.1 745.0,103.1 740.7,102.0 736.4,101.0 732.1,100.0 727.8,98.9 723.5,97.6 719.3,96.4 715.0,95.1 710.8,93.7 706.6,92.3 702.4,90.9 698.3,89.5 694.0,88.2 689.8,87.2 685.5,86.0 681.2,84.9 676.9,83.9 672.6,82.9 668.3,81.9 664.0,80.9 659.7,80.0 655.3,79.0 651.0,78.1 646.6,77.3 642.2,76.7 637.8,76.0 633.4,75.4 629.0,75.2 624.6,75.3 620.2,75.0 615.8,74.6 611.4,74.1 607.0,73.6 602.6,73.1 598.2,72.7 593.7,72.4 589.3,72.2 584.9,72.1 580.4,72.1 576.0,72.2 571.6,72.4 567.2,72.8 562.8,73.2 558.4,73.7 554.1,74.5 549.8,75.4 545.6,76.5 541.4,77.6 537.2,78.6 532.9,79.5 528.6,80.5 524.5,81.8 520.3,83.1 516.3,84.6 512.1,86.1 508.1,87.9 504.0,89.7 500.0,91.6 496.2,93.9 492.7,96.7 489.3,99.5 486.0,102.3 482.5,105.0 479.1,107.7 475.7,110.4 472.4,113.2 469.1,116.0 465.8,118.9 462.7,122.0 459.9,125.3 457.1,128.7 454.4,132.2 451.8,135.8 449.1,139.3 446.5,142.9 443.9,146.6 441.3,150.2 438.7,153.7 435.7,157.1 432.6,160.2 429.5,163.4 426.2,166.4 422.8,169.2 419.4,172.1 416.0,174.9 412.6,177.7 409.1,180.5 405.5,183.0 401.8,185.4 398.1,187.8 394.5,190.4 390.9,192.9 387.3,195.4 383.6,197.8 379.8,200.2 376.0,202.3 372.1,204.4 368.2,206.4 364.1,208.1 360.0,209.8 356.0,211.6 351.9,213.4 347.9,215.2 343.9,217.0 339.8,218.7 335.5,220.0 331.3,221.2 327.0,222.5 322.8,223.9 318.6,225.0 314.2,225.8 309.8,226.5 305.4,226.8 301.0,227.1 296.6,227.2 292.2,227.3 287.7,227.1 283.3,226.7 278.9,226.1 274.6,225.5 270.2,224.9 265.9,224.1 261.6,223.1 257.3,222.1 253.1,221.0 248.8,219.9 244.6,218.6 240.4,217.3 236.3,215.8 232.2,214.0 228.2,212.3 224.1,210.7 220.1,209.0 216.1,207.1 212.3,205.0 208.6,202.5 205.2,199.9 201.8,197.1 198.6,194.3 195.2,191.6 191.6,189.1 188.2,186.3 185.3,183.1 182.6,179.7 179.6,176.6 176.2,173.8 173.4,170.5 171.1,166.9 168.8,163.4 166.9,159.8 Z M166.9,159.8 169.0,163.3 171.3,166.7 173.8,170.1 176.6,173.4 180.1,176.1 183.1,179.2 185.9,182.4 188.9,185.6 192.3,188.3 195.9,190.8 199.3,193.4 202.6,196.2 206.0,198.9 209.5,201.5 213.1,203.9 216.9,206.1 220.8,208.0 224.9,209.7 228.9,211.3 232.9,213.1 236.9,214.8 241.0,216.2 245.2,217.6 249.5,218.8 253.7,219.9 258.0,220.9 262.2,222.0 266.5,222.9 270.8,223.7 275.2,224.3 279.6,224.9 284.0,225.4 288.3,225.8 292.8,226.0 297.2,225.9 301.6,225.7 306.1,225.4 310.5,224.9 314.9,224.2 319.2,223.4 323.6,222.2 327.8,220.8 332.0,219.4 336.3,218.2 340.5,216.8 344.7,215.1 348.7,213.3 352.8,211.4 356.9,209.6 360.9,207.8 365.0,206.0 369.1,204.2 373.1,202.2 377.0,200.1 380.9,197.9 384.7,195.6 388.4,193.1 392.1,190.6 395.7,188.0 399.4,185.5 403.1,183.2 406.8,180.8 410.5,178.3 413.9,175.6 417.4,172.8 420.8,170.0 424.2,167.2 427.6,164.4 430.9,161.4 434.1,158.3 437.2,155.1 440.1,151.7 442.8,148.2 445.3,144.6 447.8,140.9 450.4,137.3 453.1,133.8 455.7,130.2 458.3,126.7 461.0,123.2 463.8,119.9 466.8,116.8 469.9,113.8 473.2,110.9 476.4,108.2 479.7,105.4 483.1,102.7 486.5,100.0 489.7,97.2 493.0,94.3 496.5,91.7 500.3,89.4 504.3,87.5 508.4,85.8 512.5,84.1 516.6,82.6 520.7,81.3 524.8,80.0 529.0,78.9 533.2,77.9 537.5,77.1 541.8,76.2 546.0,75.1 550.2,74.1 554.5,73.2 558.8,72.5 563.2,72.0 567.6,71.6 572.0,71.4 576.4,71.2 580.8,71.1 585.2,71.1 589.7,71.2 594.1,71.5 598.5,71.8 602.9,72.2 607.3,72.7 611.7,73.3 616.1,73.8 620.5,74.2 625.0,74.4 629.4,74.2 633.8,74.4 638.2,74.9 642.6,75.5 647.0,76.1 651.4,76.9 655.7,77.8 660.0,78.8 664.4,79.8 668.7,80.8 673.0,81.8 677.2,82.8 681.5,83.9 685.8,85.1 690.0,86.3 694.3,87.4 698.5,88.7 702.6,90.2 706.8,91.7 711.0,93.1 715.1,94.5 719.4,95.8 723.6,97.1 727.8,98.4 732.1,99.5 736.4,100.6 740.7,101.7 745.0,102.7 745.0,102.7 740.7,101.6 736.4,100.6 732.1,99.5 727.8,98.4 723.6,97.1 719.4,95.8 715.2,94.4 711.0,93.1 706.8,91.6 702.6,90.2 698.5,88.7 694.3,87.4 690.0,86.2 685.8,85.0 681.5,83.9 677.3,82.8 673.0,81.7 668.7,80.7 664.4,79.7 660.1,78.7 655.8,77.7 651.4,76.8 647.0,76.0 642.7,75.3 638.3,74.7 633.9,74.1 629.5,74.0 625.1,74.1 620.7,73.8 616.2,73.4 611.8,72.9 607.5,72.3 603.1,71.8 598.7,71.3 594.2,71.0 589.8,70.8 585.4,70.6 581.0,70.6 576.6,70.6 572.1,70.8 567.7,71.1 563.3,71.4 559.0,71.9 554.7,72.6 550.4,73.4 546.2,74.4 541.9,75.5 537.7,76.4 533.4,77.1 529.1,78.1 524.9,79.2 520.8,80.5 516.7,81.8 512.6,83.3 508.5,85.0 504.4,86.7 500.4,88.7 496.6,91.0 493.1,93.8 489.8,96.7 486.6,99.6 483.2,102.3 479.8,105.1 476.5,107.9 473.2,110.7 470.0,113.6 466.9,116.6 463.9,119.7 461.1,123.1 458.4,126.6 455.7,130.1 453.1,133.7 450.5,137.2 447.9,140.9 445.4,144.5 442.8,148.1 440.1,151.7 437.2,155.0 434.1,158.2 431.0,161.3 427.7,164.3 424.3,167.1 420.9,169.9 417.5,172.7 414.0,175.5 410.5,178.2 406.9,180.7 403.1,183.1 399.4,185.4 395.8,187.9 392.2,190.4 388.5,192.9 384.8,195.3 381.1,197.5 377.2,199.6 373.3,201.7 369.4,203.6 365.3,205.4 361.2,207.0 357.2,208.8 353.1,210.6 349.1,212.4 345.1,214.2 341.0,215.8 336.7,217.1 332.5,218.3 328.3,219.6 324.1,221.0 319.8,222.1 315.4,222.9 311.1,223.5 306.7,224.0 302.3,224.2 297.9,224.4 293.4,224.5 289.0,224.4 284.6,224.0 280.2,223.5 275.9,223.0 271.5,222.4 267.1,221.7 262.9,220.8 258.6,219.8 254.3,218.9 250.1,217.8 245.8,216.6 241.6,215.3 237.5,213.9 233.4,212.3 229.4,210.6 225.3,209.1 221.2,207.5 217.2,205.7 213.3,203.6 209.6,201.3 206.1,198.7 202.7,196.1 199.4,193.3 196.0,190.8 192.4,188.3 188.9,185.5 186.0,182.4 183.1,179.2 180.1,176.1 176.7,173.4 173.8,170.1 171.3,166.7 169.0,163.2 166.9,159.8 Z M166.9,159.8 169.1,163.1 171.6,166.4 174.1,169.8 177.1,173.0 180.5,175.7 183.6,178.6 186.5,181.8 189.6,184.8 193.0,187.5 196.7,190.0 200.1,192.5 203.5,195.1 206.9,197.7 210.5,200.2 214.1,202.5 218.0,204.6 221.9,206.5 226.0,208.1 230.1,209.6 234.1,211.3 238.1,212.9 242.3,214.3 246.5,215.5 250.7,216.7 255.0,217.8 259.2,218.7 263.5,219.6 267.8,220.5 272.1,221.2 276.5,221.7 280.9,222.3 285.2,222.7 289.6,223.1 294.0,223.2 298.5,223.1 302.9,222.8 307.3,222.5 311.7,222.0 316.1,221.3 320.5,220.5 324.8,219.3 329.0,217.9 333.2,216.6 337.5,215.3 341.8,214.0 345.9,212.3 349.9,210.5 354.0,208.6 358.1,206.8 362.1,205.0 366.2,203.3 370.3,201.5 374.3,199.5 378.2,197.4 382.1,195.3 385.9,193.0 389.7,190.6 393.3,188.1 397.0,185.6 400.7,183.1 404.4,180.8 408.2,178.5 411.8,176.0 415.3,173.3 418.8,170.6 422.3,167.8 425.7,165.1 429.1,162.3 432.4,159.3 435.6,156.2 438.7,153.0 441.6,149.7 444.2,146.1 446.8,142.5 449.2,138.8 451.8,135.2 454.4,131.7 457.0,128.1 459.5,124.5 462.2,121.0 464.9,117.6 467.9,114.4 470.9,111.4 474.0,108.5 477.2,105.6 480.5,102.8 483.7,100.0 487.0,97.2 490.2,94.3 493.5,91.4 496.9,88.7 500.7,86.4 504.7,84.6 508.8,82.9 512.9,81.2 517.0,79.8 521.1,78.6 525.3,77.4 529.5,76.4 533.7,75.5 538.0,74.8 542.3,74.0 546.5,73.1 550.7,72.1 555.0,71.3 559.3,70.7 563.7,70.3 568.1,70.0 572.5,69.8 576.9,69.6 581.3,69.6 585.8,69.6 590.2,69.8 594.6,70.1 599.0,70.4 603.4,70.9 607.8,71.4 612.2,72.0 616.6,72.5 621.0,73.0 625.4,73.2 629.8,73.0 634.2,73.1 638.6,73.6 643.0,74.1 647.4,74.8 651.8,75.6 656.1,76.5 660.4,77.5 664.7,78.6 669.0,79.6 673.3,80.7 677.6,81.8 681.8,82.9 686.1,84.1 690.3,85.3 694.5,86.6 698.7,87.9 702.8,89.5 706.9,91.0 711.1,92.4 715.3,93.9 719.4,95.3 723.7,96.6 727.9,97.9 732.2,99.1 736.4,100.2 740.7,101.3 745.0,102.4 745.0,102.4 740.7,101.3 736.4,100.2 732.2,99.0 727.9,97.9 723.7,96.6 719.5,95.2 715.3,93.8 711.1,92.4 707.0,90.9 702.8,89.4 698.7,87.9 694.5,86.5 690.3,85.3 686.1,84.1 681.8,82.9 677.6,81.7 673.3,80.6 669.0,79.5 664.8,78.5 660.5,77.5 656.2,76.4 651.8,75.5 647.5,74.7 643.1,74.0 638.7,73.4 634.3,72.9 629.9,72.7 625.5,72.9 621.1,72.7 616.7,72.2 612.3,71.7 607.9,71.1 603.5,70.5 599.1,70.1 594.7,69.7 590.3,69.4 585.9,69.2 581.5,69.1 577.1,69.2 572.7,69.3 568.3,69.5 563.9,69.8 559.5,70.2 555.2,70.8 550.9,71.6 546.7,72.5 542.4,73.4 538.2,74.2 533.9,74.9 529.6,75.8 525.4,76.8 521.3,77.9 517.1,79.2 513.0,80.6 508.9,82.3 504.8,83.9 500.8,85.8 497.0,88.2 493.6,90.9 490.3,93.9 487.1,96.9 483.8,99.7 480.5,102.5 477.3,105.4 474.1,108.3 471.0,111.2 467.9,114.3 465.0,117.5 462.3,120.9 459.6,124.4 457.0,128.0 454.5,131.6 451.8,135.1 449.3,138.8 446.8,142.4 444.3,146.1 441.6,149.6 438.7,153.0 435.6,156.1 432.5,159.3 429.2,162.2 425.7,165.0 422.3,167.8 418.9,170.5 415.4,173.2 411.9,175.9 408.3,178.4 404.5,180.7 400.7,183.1 397.1,185.5 393.4,187.9 389.8,190.4 386.1,192.7 382.3,195.0 378.4,197.0 374.5,199.0 370.5,201.0 366.5,202.7 362.4,204.4 358.3,206.1 354.3,207.9 350.3,209.7 346.2,211.5 342.1,213.1 337.9,214.4 333.6,215.6 329.4,216.9 325.2,218.3 320.9,219.4 316.6,220.2 312.2,220.8 307.8,221.3 303.4,221.6 299.0,221.9 294.6,222.0 290.2,221.9 285.8,221.6 281.4,221.1 277.1,220.6 272.7,220.1 268.3,219.5 264.0,218.7 259.8,217.8 255.5,216.9 251.2,215.9 247.0,214.7 242.8,213.5 238.6,212.1 234.5,210.6 230.5,209.1 226.3,207.6 222.2,206.1 218.2,204.3 214.3,202.3 210.6,200.0 207.0,197.6 203.6,195.0 200.2,192.4 196.7,189.9 193.1,187.5 189.6,184.8 186.6,181.7 183.6,178.6 180.6,175.7 177.1,173.0 174.2,169.8 171.6,166.4 169.1,163.1 166.9,159.8 Z M166.9,159.8 169.3,163.0 171.9,166.2 174.5,169.4 177.5,172.5 181.0,175.2 184.2,178.0 187.2,181.1 190.3,184.1 193.8,186.7 197.4,189.1 201.0,191.5 204.4,194.0 207.8,196.6 211.5,198.9 215.2,201.2 219.0,203.2 223.0,205.0 227.1,206.5 231.2,208.0 235.3,209.5 239.3,211.0 243.5,212.3 247.7,213.5 251.9,214.6 256.2,215.6 260.5,216.5 264.8,217.3 269.1,218.1 273.4,218.7 277.8,219.2 282.1,219.7 286.5,220.1 290.9,220.4 295.3,220.5 299.7,220.3 304.2,220.0 308.6,219.6 313.0,219.1 317.3,218.4 321.7,217.5 326.0,216.4 330.2,215.0 334.4,213.7 338.7,212.5 343.0,211.1 347.1,209.5 351.1,207.6 355.2,205.8 359.3,204.0 363.3,202.2 367.4,200.5 371.5,198.8 375.5,196.8 379.4,194.8 383.4,192.7 387.2,190.4 390.9,188.0 394.6,185.6 398.3,183.1 402.0,180.7 405.8,178.4 409.6,176.2 413.2,173.8 416.7,171.1 420.2,168.4 423.7,165.7 427.2,162.9 430.6,160.2 433.9,157.3 437.1,154.1 440.2,151.0 443.1,147.6 445.7,144.1 448.2,140.4 450.6,136.8 453.2,133.1 455.8,129.5 458.3,125.9 460.8,122.4 463.4,118.8 466.1,115.4 468.9,112.1 471.9,109.1 474.9,106.0 478.0,103.1 481.2,100.2 484.4,97.3 487.6,94.5 490.7,91.5 493.9,88.6 497.3,85.8 501.1,83.5 505.1,81.6 509.2,80.0 513.3,78.4 517.5,77.1 521.6,76.0 525.8,74.9 530.0,74.0 534.2,73.2 538.5,72.6 542.8,71.8 547.1,71.0 551.3,70.2 555.6,69.5 559.9,68.9 564.3,68.6 568.7,68.3 573.1,68.1 577.5,68.0 581.9,68.0 586.3,68.2 590.7,68.4 595.1,68.7 599.5,69.1 603.9,69.6 608.3,70.2 612.7,70.8 617.0,71.3 621.4,71.8 625.9,72.0 630.3,71.7 634.7,71.8 639.1,72.3 643.5,72.8 647.9,73.5 652.2,74.2 656.5,75.2 660.8,76.3 665.1,77.3 669.4,78.4 673.7,79.5 677.9,80.7 682.1,81.9 686.4,83.1 690.6,84.4 694.7,85.7 698.9,87.1 703.0,88.7 707.1,90.3 711.2,91.8 715.4,93.3 719.5,94.7 723.7,96.1 728.0,97.4 732.2,98.6 736.5,99.8 740.7,100.9 745.0,102.0 745.0,102.0 740.7,100.9 736.5,99.7 732.2,98.6 728.0,97.4 723.7,96.1 719.5,94.7 715.4,93.2 711.2,91.8 707.1,90.2 703.0,88.7 698.9,87.1 694.8,85.7 690.6,84.4 686.4,83.1 682.1,81.8 677.9,80.6 673.7,79.5 669.4,78.4 665.1,77.3 660.9,76.2 656.6,75.1 652.2,74.2 647.9,73.4 643.5,72.7 639.1,72.1 634.7,71.6 630.3,71.5 626.0,71.8 621.5,71.6 617.1,71.1 612.8,70.5 608.4,69.9 604.0,69.3 599.6,68.8 595.2,68.3 590.8,68.0 586.4,67.8 582.0,67.7 577.6,67.7 573.2,67.8 568.8,67.9 564.4,68.2 560.0,68.5 555.7,69.0 551.4,69.7 547.2,70.5 542.9,71.3 538.7,72.0 534.4,72.7 530.1,73.4 525.9,74.3 521.7,75.4 517.5,76.5 513.4,77.8 509.3,79.5 505.2,81.1 501.2,83.0 497.4,85.3 494.0,88.1 490.8,91.1 487.7,94.2 484.4,97.0 481.2,99.9 478.1,102.9 475.0,105.9 472.0,108.9 469.0,112.0 466.1,115.3 463.5,118.7 460.9,122.3 458.3,125.9 455.8,129.5 453.2,133.1 450.7,136.7 448.2,140.4 445.7,144.0 443.1,147.6 440.2,150.9 437.1,154.1 434.0,157.2 430.7,160.1 427.2,162.9 423.7,165.6 420.3,168.3 416.8,171.0 413.3,173.7 409.6,176.1 405.8,178.4 402.0,180.7 398.3,183.1 394.7,185.5 391.0,187.9 387.3,190.2 383.5,192.4 379.6,194.4 375.7,196.4 371.7,198.3 367.6,200.0 363.6,201.7 359.5,203.5 355.4,205.2 351.4,207.0 347.4,208.8 343.3,210.4 339.0,211.7 334.8,212.9 330.6,214.2 326.4,215.6 322.1,216.6 317.7,217.5 313.4,218.1 309.0,218.6 304.6,219.0 300.2,219.3 295.8,219.5 291.4,219.4 287.0,219.1 282.6,218.7 278.2,218.3 273.9,217.8 269.5,217.3 265.2,216.5 260.9,215.7 256.7,214.9 252.4,213.9 248.1,212.8 243.9,211.7 239.7,210.4 235.6,208.9 231.5,207.5 227.4,206.1 223.3,204.6 219.2,202.9 215.3,201.0 211.6,198.8 208.0,196.4 204.5,193.9 201.0,191.4 197.5,189.0 193.8,186.7 190.3,184.1 187.2,181.1 184.2,178.0 181.0,175.2 177.5,172.5 174.5,169.4 171.9,166.2 169.3,163.0 166.9,159.8 Z M166.9,159.8 169.4,162.8 172.1,165.9 174.9,169.1 178.0,172.1 181.5,174.7 184.7,177.5 187.8,180.4 190.9,183.4 194.5,185.9 198.2,188.2 201.8,190.5 205.3,193.0 208.8,195.4 212.4,197.7 216.2,199.8 220.1,201.8 224.1,203.5 228.2,205.0 232.3,206.3 236.4,207.8 240.5,209.2 244.7,210.4 248.9,211.5 253.2,212.6 257.4,213.5 261.7,214.3 266.0,215.1 270.3,215.8 274.7,216.3 279.0,216.7 283.4,217.2 287.8,217.5 292.2,217.8 296.6,217.8 301.0,217.6 305.4,217.2 309.8,216.8 314.2,216.3 318.5,215.5 322.9,214.7 327.2,213.6 331.4,212.2 335.6,210.9 339.9,209.7 344.2,208.3 348.3,206.7 352.3,204.9 356.4,203.0 360.4,201.3 364.5,199.5 368.6,197.8 372.7,196.0 376.7,194.1 380.6,192.1 384.6,190.1 388.4,187.9 392.2,185.5 395.9,183.1 399.6,180.7 403.3,178.4 407.1,176.1 410.9,173.9 414.6,171.5 418.1,168.9 421.6,166.2 425.1,163.5 428.6,160.8 432.1,158.1 435.4,155.2 438.5,152.1 441.7,148.9 444.6,145.6 447.2,142.0 449.6,138.4 452.0,134.7 454.5,131.0 457.1,127.4 459.6,123.8 462.1,120.2 464.6,116.6 467.2,113.1 470.0,109.8 472.9,106.7 475.8,103.6 478.8,100.6 481.9,97.6 485.0,94.6 488.2,91.7 491.2,88.7 494.3,85.7 497.7,82.9 501.5,80.6 505.5,78.7 509.6,77.2 513.7,75.6 517.9,74.4 522.1,73.3 526.2,72.4 530.5,71.6 534.7,70.9 539.1,70.3 543.3,69.7 547.6,69.0 551.8,68.2 556.1,67.6 560.5,67.2 564.8,66.9 569.2,66.7 573.6,66.6 578.0,66.5 582.4,66.5 586.8,66.7 591.2,67.0 595.6,67.3 600.0,67.8 604.4,68.3 608.8,68.9 613.1,69.5 617.5,70.1 621.9,70.6 626.3,70.8 630.7,70.5 635.1,70.5 639.5,71.0 643.9,71.5 648.3,72.1 652.6,72.9 657.0,73.9 661.2,75.0 665.5,76.1 669.8,77.2 674.0,78.4 678.2,79.6 682.4,80.8 686.6,82.1 690.8,83.5 695.0,84.8 699.1,86.3 703.2,87.9 707.3,89.6 711.4,91.1 715.5,92.7 719.6,94.1 723.8,95.6 728.0,96.9 732.2,98.2 736.5,99.3 740.7,100.5 745.0,101.7 745.0,101.7 740.7,100.5 736.5,99.3 732.2,98.1 728.0,96.9 723.8,95.5 719.6,94.1 715.5,92.6 711.4,91.1 707.3,89.5 703.2,87.9 699.1,86.3 695.0,84.8 690.8,83.5 686.7,82.1 682.5,80.8 678.2,79.6 674.0,78.4 669.8,77.2 665.5,76.1 661.2,74.9 657.0,73.8 652.7,72.9 648.3,72.1 643.9,71.4 639.5,70.8 635.2,70.3 630.8,70.3 626.4,70.6 622.0,70.4 617.6,69.9 613.2,69.3 608.9,68.7 604.5,68.0 600.1,67.5 595.7,67.0 591.3,66.6 586.9,66.4 582.5,66.2 578.1,66.2 573.7,66.2 569.3,66.3 564.9,66.5 560.6,66.8 556.2,67.2 551.9,67.8 547.7,68.5 543.4,69.2 539.2,69.9 534.8,70.4 530.6,71.1 526.3,71.9 522.2,72.8 518.0,73.8 513.8,75.1 509.7,76.7 505.6,78.3 501.6,80.1 497.8,82.5 494.4,85.3 491.3,88.4 488.2,91.4 485.1,94.4 482.0,97.3 478.9,100.4 475.9,103.4 472.9,106.5 470.0,109.7 467.3,113.0 464.6,116.5 462.1,120.1 459.6,123.7 457.1,127.4 454.6,131.0 452.1,134.6 449.7,138.3 447.2,142.0 444.6,145.6 441.7,148.9 438.6,152.0 435.5,155.2 432.1,158.1 428.7,160.8 425.2,163.5 421.7,166.2 418.2,168.8 414.6,171.4 410.9,173.8 407.1,176.0 403.3,178.3 399.6,180.6 395.9,183.0 392.2,185.4 388.5,187.7 384.7,189.8 380.8,191.8 376.8,193.7 372.9,195.6 368.8,197.4 364.7,199.0 360.7,200.8 356.6,202.5 352.6,204.3 348.5,206.0 344.4,207.7 340.2,209.0 335.9,210.1 331.7,211.5 327.5,212.8 323.2,213.9 318.9,214.7 314.5,215.4 310.2,215.9 305.8,216.3 301.4,216.6 297.0,216.9 292.6,216.8 288.2,216.6 283.8,216.3 279.5,215.9 275.1,215.5 270.7,215.0 266.4,214.3 262.1,213.6 257.8,212.8 253.6,211.9 249.3,210.9 245.1,209.8 240.9,208.6 236.8,207.2 232.6,205.9 228.5,204.6 224.3,203.2 220.3,201.5 216.4,199.6 212.6,197.5 208.9,195.3 205.3,192.9 201.8,190.4 198.2,188.2 194.5,185.9 191.0,183.3 187.8,180.4 184.7,177.5 181.5,174.7 178.0,172.1 174.9,169.1 172.1,165.9 169.4,162.8 166.9,159.8 Z M166.9,159.8 169.6,162.7 172.4,165.7 175.2,168.8 178.4,171.7 181.9,174.2 185.2,176.9 188.4,179.8 191.6,182.6 195.2,185.1 198.9,187.3 202.6,189.5 206.1,191.9 209.7,194.2 213.4,196.4 217.2,198.5 221.2,200.4 225.2,202.0 229.3,203.4 233.5,204.7 237.6,206.0 241.7,207.4 245.9,208.5 250.1,209.6 254.4,210.6 258.7,211.4 263.0,212.1 267.3,212.8 271.6,213.4 275.9,213.9 280.3,214.3 284.7,214.6 289.0,214.9 293.4,215.1 297.8,215.1 302.2,214.9 306.6,214.5 311.0,214.0 315.4,213.4 319.8,212.7 324.1,211.8 328.4,210.7 332.6,209.4 336.8,208.0 341.1,206.8 345.3,205.5 349.5,203.9 353.5,202.1 357.6,200.3 361.6,198.5 365.7,196.8 369.8,195.1 373.9,193.3 377.9,191.4 381.8,189.5 385.8,187.5 389.6,185.3 393.4,183.0 397.1,180.6 400.9,178.3 404.6,176.0 408.4,173.7 412.3,171.6 416.0,169.2 419.5,166.6 423.1,164.0 426.6,161.4 430.1,158.7 433.6,156.0 436.9,153.2 440.0,150.0 443.2,146.9 446.1,143.6 448.6,140.0 451.1,136.3 453.4,132.6 455.9,128.9 458.4,125.3 460.9,121.7 463.3,118.0 465.8,114.4 468.4,110.9 471.0,107.5 473.8,104.3 476.7,101.1 479.6,98.0 482.6,95.0 485.7,92.0 488.7,89.0 491.7,85.9 494.8,82.8 498.1,80.0 501.9,77.7 505.9,75.8 510.0,74.3 514.1,72.8 518.3,71.6 522.5,70.7 526.7,69.9 531.0,69.2 535.2,68.6 539.6,68.1 543.8,67.6 548.1,66.9 552.4,66.3 556.7,65.8 561.0,65.4 565.4,65.2 569.7,65.0 574.1,65.0 578.5,65.0 582.9,65.1 587.3,65.2 591.7,65.5 596.1,65.9 600.5,66.4 604.9,67.0 609.2,67.7 613.6,68.3 618.0,68.9 622.4,69.4 626.8,69.6 631.1,69.2 635.5,69.2 639.9,69.7 644.3,70.2 648.7,70.8 653.1,71.6 657.4,72.6 661.6,73.7 665.9,74.9 670.1,76.1 674.3,77.3 678.6,78.5 682.7,79.8 686.9,81.2 691.1,82.6 695.2,84.0 699.3,85.5 703.4,87.2 707.4,88.9 711.5,90.5 715.6,92.1 719.7,93.6 723.9,95.0 728.1,96.4 732.3,97.7 736.5,98.9 740.8,100.1 745.0,101.3 745.0,101.3 740.8,100.1 736.5,98.9 732.3,97.7 728.1,96.4 723.9,95.0 719.7,93.6 715.6,92.0 711.5,90.5 707.4,88.8 703.4,87.2 699.3,85.5 695.2,83.9 691.1,82.5 686.9,81.1 682.8,79.8 678.6,78.5 674.4,77.2 670.1,76.0 665.9,74.9 661.6,73.7 657.4,72.6 653.1,71.6 648.7,70.8 644.4,70.1 640.0,69.5 635.6,69.1 631.2,69.1 626.8,69.5 622.4,69.3 618.0,68.7 613.7,68.1 609.3,67.4 605.0,66.7 600.6,66.1 596.2,65.7 591.8,65.3 587.4,65.0 583.0,64.8 578.6,64.7 574.2,64.7 569.9,64.7 565.5,64.8 561.1,65.1 556.8,65.4 552.5,65.9 548.2,66.5 543.9,67.1 539.7,67.7 535.3,68.1 531.1,68.7 526.8,69.4 522.6,70.2 518.4,71.2 514.2,72.3 510.1,73.9 506.0,75.4 502.0,77.3 498.2,79.6 494.8,82.5 491.8,85.6 488.8,88.7 485.7,91.7 482.7,94.8 479.7,97.9 476.8,101.0 473.9,104.2 471.1,107.4 468.4,110.8 465.8,114.3 463.4,117.9 461.0,121.6 458.5,125.3 455.9,128.9 453.5,132.5 451.1,136.2 448.7,139.9 446.1,143.5 443.2,146.8 440.1,150.0 437.0,153.1 433.6,156.0 430.1,158.7 426.6,161.3 423.1,164.0 419.6,166.6 416.0,169.2 412.3,171.5 408.5,173.7 404.7,175.9 400.9,178.2 397.2,180.5 393.5,182.8 389.7,185.1 385.9,187.3 382.0,189.2 378.0,191.1 374.0,193.0 370.0,194.7 365.9,196.4 361.8,198.1 357.8,199.8 353.7,201.6 349.7,203.3 345.6,204.9 341.4,206.2 337.1,207.4 332.9,208.7 328.7,210.0 324.4,211.1 320.1,211.9 315.7,212.6 311.4,213.2 307.0,213.6 302.6,214.0 298.2,214.3 293.8,214.3 289.4,214.1 285.0,213.8 280.7,213.5 276.3,213.2 271.9,212.7 267.6,212.1 263.3,211.5 259.0,210.8 254.7,210.0 250.5,209.0 246.2,208.0 242.0,206.8 237.9,205.6 233.7,204.3 229.6,203.1 225.4,201.7 221.3,200.1 217.4,198.3 213.5,196.3 209.8,194.1 206.2,191.8 202.6,189.5 199.0,187.3 195.2,185.1 191.6,182.6 188.4,179.8 185.3,176.9 181.9,174.2 178.4,171.7 175.3,168.7 172.4,165.7 169.6,162.7 166.9,159.8 Z M166.9,159.8 169.7,162.6 172.7,165.4 175.6,168.4 178.8,171.3 182.4,173.8 185.8,176.3 189.0,179.1 192.3,181.9 195.9,184.3 199.7,186.5 203.4,188.6 207.0,190.9 210.6,193.1 214.4,195.2 218.2,197.2 222.1,199.1 226.2,200.7 230.3,202.0 234.4,203.3 238.5,204.5 242.7,205.8 246.9,206.9 251.1,207.9 255.4,208.9 259.7,209.7 264.0,210.3 268.3,210.9 272.6,211.5 277.0,211.9 281.3,212.2 285.7,212.5 290.1,212.8 294.5,213.0 298.8,212.9 303.2,212.6 307.6,212.2 312.0,211.7 316.4,211.1 320.8,210.3 325.1,209.4 329.4,208.3 333.6,206.9 337.9,205.6 342.1,204.4 346.4,203.1 350.5,201.4 354.6,199.6 358.6,197.8 362.7,196.1 366.8,194.3 370.9,192.6 375.0,190.8 379.0,188.9 383.0,187.0 387.0,185.0 390.8,182.8 394.6,180.5 398.4,178.2 402.1,175.9 405.9,173.6 409.7,171.4 413.6,169.3 417.3,167.0 420.9,164.4 424.5,161.9 428.0,159.2 431.5,156.6 435.1,154.0 438.4,151.1 441.5,148.0 444.6,144.9 447.5,141.5 450.1,137.9 452.5,134.2 454.8,130.5 457.3,126.9 459.8,123.2 462.2,119.6 464.5,115.9 467.0,112.3 469.5,108.7 472.1,105.3 474.8,102.0 477.6,98.8 480.4,95.6 483.3,92.5 486.3,89.4 489.3,86.4 492.2,83.2 495.2,80.1 498.5,77.3 502.3,75.0 506.3,73.2 510.4,71.7 514.5,70.2 518.7,69.2 522.9,68.4 527.1,67.6 531.4,67.0 535.7,66.5 540.0,66.1 544.3,65.7 548.6,65.1 552.8,64.6 557.1,64.1 561.5,63.8 565.8,63.7 570.2,63.6 574.6,63.6 579.0,63.6 583.4,63.7 587.8,64.0 592.2,64.3 596.6,64.7 600.9,65.2 605.3,65.8 609.7,66.5 614.0,67.2 618.4,67.9 622.8,68.4 627.2,68.6 631.5,68.1 635.9,68.0 640.3,68.4 644.7,68.9 649.1,69.5 653.5,70.3 657.8,71.3 662.0,72.5 666.3,73.7 670.5,74.9 674.7,76.2 678.9,77.5 683.0,78.8 687.2,80.2 691.3,81.7 695.4,83.1 699.5,84.7 703.6,86.4 707.6,88.2 711.6,89.8 715.7,91.5 719.8,93.0 724.0,94.5 728.1,95.9 732.3,97.2 736.6,98.5 740.8,99.7 745.0,101.0 745.0,101.0 740.8,99.7 736.6,98.5 732.3,97.2 728.1,95.9 724.0,94.5 719.8,93.0 715.7,91.4 711.6,89.8 707.6,88.1 703.6,86.4 699.5,84.7 695.5,83.1 691.4,81.6 687.2,80.1 683.1,78.7 678.9,77.4 674.7,76.1 670.5,74.8 666.3,73.6 662.0,72.4 657.8,71.3 653.5,70.3 649.2,69.4 644.8,68.7 640.4,68.2 636.0,67.7 631.7,67.8 627.3,68.2 622.9,68.0 618.6,67.4 614.2,66.8 609.9,66.0 605.5,65.3 601.2,64.7 596.8,64.1 592.4,63.7 588.0,63.4 583.6,63.1 579.2,63.0 574.8,62.9 570.5,62.9 566.1,63.0 561.7,63.1 557.4,63.4 553.1,63.8 548.8,64.3 544.5,64.8 540.2,65.2 535.9,65.6 531.6,66.1 527.3,66.7 523.1,67.4 518.9,68.2 514.7,69.3 510.5,70.8 506.4,72.3 502.4,74.2 498.6,76.5 495.3,79.4 492.3,82.6 489.4,85.8 486.4,88.9 483.4,92.1 480.5,95.3 477.7,98.5 474.9,101.7 472.2,105.1 469.6,108.5 467.1,112.1 464.6,115.7 462.3,119.4 459.9,123.1 457.3,126.7 454.9,130.4 452.5,134.2 450.2,137.9 447.6,141.5 444.7,144.8 441.6,147.9 438.5,151.0 435.1,153.9 431.6,156.5 428.1,159.1 424.5,161.7 421.0,164.3 417.4,166.9 413.7,169.2 409.8,171.3 406.0,173.5 402.2,175.7 398.5,178.0 394.8,180.2 391.0,182.5 387.2,184.6 383.2,186.4 379.3,188.2 375.3,190.1 371.2,191.8 367.2,193.4 363.1,195.1 359.1,196.8 355.0,198.5 351.0,200.3 346.9,201.9 342.7,203.1 338.4,204.2 334.2,205.5 330.0,206.8 325.8,207.8 321.4,208.7 317.1,209.4 312.8,210.0 308.4,210.5 304.1,210.9 299.7,211.2 295.3,211.3 290.9,211.1 286.5,210.9 282.1,210.7 277.7,210.4 273.4,210.0 269.1,209.5 264.8,209.0 260.4,208.4 256.1,207.6 251.9,206.7 247.6,205.8 243.4,204.7 239.2,203.6 235.0,202.4 230.8,201.3 226.6,200.1 222.5,198.6 218.5,196.9 214.6,194.9 210.8,192.9 207.1,190.7 203.5,188.5 199.7,186.4 196.0,184.3 192.3,181.8 189.0,179.1 185.8,176.3 182.4,173.8 178.8,171.3 175.6,168.4 172.7,165.4 169.7,162.6 166.9,159.8 Z M166.9,159.8 169.9,162.4 172.9,165.2 176.0,168.1 179.3,170.8 182.9,173.3 186.3,175.8 189.6,178.5 193.0,181.1 196.6,183.5 200.4,185.6 204.2,187.6 207.9,189.8 211.6,191.9 215.4,193.9 219.2,195.9 223.2,197.6 227.3,199.1 231.4,200.4 235.6,201.6 239.7,202.7 243.9,203.9 248.1,204.9 252.4,205.9 256.7,206.8 261.0,207.5 265.3,208.0 269.6,208.6 273.9,209.1 278.3,209.4 282.6,209.7 287.0,209.9 291.4,210.1 295.8,210.2 300.2,210.1 304.5,209.8 308.9,209.3 313.3,208.8 317.7,208.1 322.0,207.3 326.4,206.4 330.7,205.3 334.9,204.0 339.1,202.7 343.4,201.5 347.6,200.2 351.7,198.5 355.8,196.8 359.8,195.0 363.9,193.2 368.0,191.5 372.1,189.8 376.2,188.0 380.2,186.2 384.2,184.3 388.2,182.4 392.1,180.2 395.9,178.0 399.7,175.7 403.4,173.4 407.2,171.2 411.1,169.1 414.9,167.0 418.7,164.7 422.3,162.2 425.9,159.7 429.4,157.1 433.0,154.5 436.5,151.9 439.9,149.1 443.0,145.9 446.1,142.8 449.0,139.5 451.6,135.9 453.9,132.2 456.2,128.4 458.6,124.7 461.1,121.1 463.5,117.4 465.8,113.7 468.2,110.1 470.6,106.5 473.1,103.0 475.8,99.6 478.5,96.3 481.2,93.1 484.0,89.9 486.9,86.7 489.8,83.6 492.7,80.4 495.6,77.2 498.9,74.4 502.7,72.0 506.7,70.3 510.8,68.8 515.0,67.4 519.2,66.4 523.4,65.7 527.6,65.0 531.9,64.5 536.2,64.1 540.5,63.8 544.8,63.5 549.1,63.0 553.4,62.6 557.7,62.2 562.0,62.0 566.4,61.9 570.8,61.9 575.2,61.9 579.6,62.0 584.0,62.2 588.3,62.5 592.7,62.8 597.1,63.3 601.5,63.9 605.8,64.5 610.2,65.2 614.5,66.0 618.9,66.6 623.2,67.2 627.6,67.4 632.0,66.8 636.4,66.7 640.8,67.1 645.2,67.6 649.5,68.2 653.9,69.0 658.2,70.1 662.4,71.2 666.6,72.5 670.8,73.7 675.0,75.0 679.2,76.4 683.4,77.8 687.5,79.2 691.6,80.7 695.7,82.3 699.7,83.9 703.7,85.7 707.7,87.5 711.8,89.2 715.8,90.9 719.9,92.5 724.0,94.0 728.2,95.4 732.4,96.8 736.6,98.1 740.8,99.4 745.0,100.6 745.0,100.6 740.8,99.3 736.6,98.1 732.4,96.8 728.2,95.4 724.0,94.0 719.9,92.4 715.8,90.8 711.8,89.2 707.8,87.4 703.7,85.6 699.7,83.9 695.7,82.2 691.6,80.7 687.5,79.2 683.4,77.7 679.2,76.3 675.0,75.0 670.9,73.7 666.7,72.4 662.4,71.2 658.2,70.0 653.9,69.0 649.6,68.1 645.2,67.4 640.8,66.9 636.5,66.5 632.1,66.6 627.8,67.1 623.4,66.9 619.0,66.3 614.6,65.6 610.3,64.8 606.0,64.1 601.6,63.4 597.3,62.8 592.9,62.4 588.5,62.0 584.1,61.7 579.7,61.5 575.4,61.4 571.0,61.4 566.6,61.4 562.2,61.5 557.9,61.6 553.6,61.9 549.3,62.4 545.0,62.8 540.7,63.1 536.4,63.4 532.1,63.8 527.8,64.3 523.5,64.9 519.3,65.6 515.1,66.6 510.9,68.1 506.8,69.5 502.8,71.3 499.0,73.7 495.7,76.6 492.8,79.9 489.9,83.1 487.0,86.3 484.1,89.5 481.3,92.8 478.5,96.1 475.8,99.4 473.2,102.8 470.7,106.3 468.3,109.9 465.9,113.6 463.6,117.3 461.2,121.0 458.7,124.6 456.3,128.3 454.0,132.1 451.6,135.8 449.1,139.4 446.2,142.7 443.1,145.8 440.0,149.0 436.6,151.8 433.1,154.4 429.5,157.0 425.9,159.6 422.3,162.1 418.7,164.6 415.0,166.9 411.1,169.0 407.3,171.1 403.5,173.3 399.7,175.5 396.0,177.8 392.2,179.9 388.4,182.0 384.4,183.9 380.4,185.6 376.4,187.4 372.4,189.1 368.3,190.8 364.3,192.5 360.2,194.2 356.2,195.9 352.1,197.6 348.0,199.2 343.8,200.4 339.6,201.6 335.4,202.9 331.2,204.1 326.9,205.2 322.6,206.0 318.2,206.7 313.9,207.4 309.6,207.9 305.2,208.4 300.8,208.7 296.4,208.8 292.0,208.7 287.7,208.6 283.3,208.4 278.9,208.2 274.5,207.9 270.2,207.4 265.9,207.0 261.6,206.4 257.3,205.8 253.0,204.9 248.7,204.0 244.5,203.0 240.3,202.0 236.1,200.9 231.8,199.9 227.6,198.7 223.5,197.2 219.5,195.6 215.5,193.7 211.7,191.7 208.0,189.6 204.3,187.5 200.5,185.6 196.7,183.5 193.0,181.1 189.6,178.5 186.3,175.7 182.9,173.3 179.3,170.8 176.0,168.0 172.9,165.2 169.9,162.4 166.9,159.8 Z M166.9,159.8 170.0,162.3 173.2,164.9 176.4,167.7 179.7,170.4 183.3,172.8 186.9,175.2 190.2,177.8 193.7,180.4 197.3,182.7 201.2,184.7 205.0,186.6 208.8,188.7 212.5,190.7 216.4,192.6 220.3,194.5 224.3,196.2 228.4,197.6 232.6,198.8 236.8,199.8 240.9,200.9 245.1,202.0 249.4,202.9 253.6,203.8 257.9,204.6 262.3,205.3 266.6,205.8 270.9,206.2 275.2,206.6 279.6,206.9 284.0,207.1 288.3,207.2 292.7,207.4 297.1,207.4 301.5,207.3 305.9,206.9 310.2,206.4 314.6,205.8 318.9,205.1 323.3,204.3 327.6,203.5 331.9,202.4 336.1,201.1 340.4,199.8 344.6,198.6 348.8,197.3 353.0,195.7 357.0,193.9 361.1,192.1 365.1,190.4 369.2,188.7 373.3,187.0 377.4,185.3 381.4,183.4 385.4,181.6 389.4,179.8 393.3,177.7 397.1,175.4 400.9,173.2 404.7,171.0 408.5,168.8 412.4,166.7 416.3,164.7 420.1,162.4 423.7,160.0 427.3,157.5 430.9,154.9 434.5,152.4 438.0,149.8 441.4,147.0 444.5,143.8 447.6,140.8 450.5,137.4 453.0,133.8 455.4,130.1 457.6,126.3 460.0,122.6 462.5,119.0 464.8,115.3 467.1,111.5 469.4,107.8 471.7,104.2 474.2,100.7 476.7,97.2 479.3,93.8 482.0,90.5 484.8,87.2 487.6,84.0 490.4,80.8 493.2,77.5 496.1,74.3 499.3,71.4 503.1,69.1 507.1,67.3 511.2,65.9 515.4,64.5 519.6,63.6 523.9,63.0 528.1,62.5 532.4,62.1 536.7,61.7 541.0,61.5 545.4,61.3 549.6,60.9 553.9,60.6 558.3,60.3 562.6,60.2 567.0,60.2 571.3,60.2 575.7,60.3 580.1,60.4 584.5,60.7 588.9,61.0 593.3,61.4 597.6,61.9 602.0,62.5 606.3,63.2 610.7,63.9 615.0,64.7 619.3,65.4 623.7,66.0 628.1,66.1 632.4,65.6 636.8,65.4 641.2,65.8 645.6,66.2 650.0,66.9 654.3,67.7 658.6,68.8 662.8,70.0 667.0,71.2 671.2,72.5 675.4,73.9 679.5,75.3 683.7,76.7 687.8,78.2 691.9,79.8 695.9,81.4 699.9,83.1 703.9,84.9 707.9,86.7 711.9,88.5 715.9,90.3 720.0,91.9 724.1,93.5 728.2,94.9 732.4,96.3 736.6,97.7 740.8,99.0 745.0,100.3 745.0,100.3 740.8,98.9 736.6,97.6 732.4,96.3 728.3,94.9 724.1,93.5 720.0,91.9 715.9,90.2 711.9,88.5 707.9,86.7 703.9,84.9 699.9,83.1 695.9,81.4 691.9,79.8 687.8,78.2 683.7,76.7 679.5,75.2 675.4,73.8 671.2,72.5 667.0,71.2 662.8,69.9 658.6,68.7 654.3,67.7 650.0,66.8 645.6,66.1 641.3,65.6 636.9,65.2 632.5,65.4 628.2,65.9 623.8,65.7 619.4,65.1 615.1,64.4 610.8,63.6 606.4,62.9 602.1,62.1 597.8,61.5 593.4,61.0 589.0,60.6 584.6,60.3 580.3,60.1 575.9,59.9 571.5,59.8 567.1,59.8 562.7,59.8 558.4,59.9 554.1,60.1 549.8,60.4 545.5,60.7 541.2,61.0 536.8,61.2 532.5,61.5 528.2,61.9 524.0,62.4 519.7,63.0 515.5,63.9 511.3,65.3 507.2,66.8 503.1,68.5 499.4,70.9 496.1,73.9 493.2,77.1 490.5,80.5 487.6,83.7 484.8,87.0 482.1,90.3 479.4,93.7 476.8,97.1 474.3,100.5 471.8,104.1 469.4,107.7 467.1,111.4 464.9,115.2 462.5,118.9 460.1,122.6 457.7,126.3 455.4,130.0 453.1,133.8 450.6,137.4 447.7,140.7 444.5,143.8 441.5,146.9 438.1,149.8 434.5,152.3 430.9,154.9 427.3,157.4 423.7,159.9 420.1,162.4 416.3,164.6 412.5,166.6 408.6,168.7 404.8,170.9 401.0,173.1 397.2,175.3 393.4,177.4 389.6,179.5 385.6,181.3 381.6,183.0 377.6,184.8 373.5,186.5 369.5,188.2 365.4,189.8 361.3,191.5 357.3,193.2 353.3,195.0 349.2,196.6 344.9,197.8 340.7,198.9 336.5,200.2 332.3,201.5 328.0,202.5 323.7,203.4 319.4,204.1 315.0,204.8 310.7,205.4 306.3,205.9 302.0,206.2 297.6,206.4 293.2,206.4 288.8,206.3 284.4,206.1 280.1,206.0 275.7,205.7 271.4,205.3 267.0,204.9 262.7,204.5 258.4,203.9 254.1,203.1 249.8,202.2 245.5,201.3 241.3,200.3 237.1,199.3 232.9,198.4 228.6,197.2 224.5,195.9 220.5,194.3 216.5,192.5 212.6,190.6 208.9,188.6 205.1,186.6 201.2,184.7 197.4,182.7 193.7,180.4 190.3,177.8 186.9,175.2 183.3,172.8 179.7,170.4 176.4,167.7 173.2,164.9 170.0,162.3 166.9,159.8 Z M166.9,159.8 170.2,162.2 173.5,164.7 176.7,167.4 180.1,170.0 183.8,172.4 187.4,174.6 190.8,177.2 194.3,179.7 198.0,182.0 201.9,183.9 205.8,185.7 209.6,187.7 213.4,189.6 217.3,191.5 221.2,193.3 225.2,194.9 229.3,196.3 233.5,197.5 237.7,198.5 241.9,199.5 246.1,200.5 250.3,201.4 254.6,202.2 258.9,203.0 263.2,203.6 267.6,204.0 271.9,204.4 276.2,204.8 280.6,205.0 284.9,205.1 289.3,205.3 293.7,205.4 298.1,205.4 302.4,205.2 306.8,204.8 311.2,204.3 315.6,203.6 319.9,202.8 324.3,202.0 328.6,201.1 332.9,200.0 337.1,198.7 341.3,197.4 345.6,196.2 349.9,194.9 354.0,193.3 358.0,191.5 362.1,189.7 366.2,188.0 370.3,186.3 374.4,184.6 378.5,182.8 382.5,181.0 386.6,179.2 390.6,177.3 394.5,175.2 398.3,173.0 402.2,170.8 406.0,168.6 409.8,166.4 413.7,164.4 417.6,162.4 421.4,160.2 425.1,157.8 428.7,155.3 432.3,152.8 435.9,150.3 439.5,147.8 442.9,145.0 446.0,141.8 449.1,138.7 452.0,135.4 454.5,131.8 456.8,128.0 459.0,124.3 461.4,120.6 463.8,116.9 466.1,113.2 468.3,109.4 470.5,105.7 472.8,102.0 475.2,98.4 477.7,94.9 480.2,91.5 482.8,88.1 485.5,84.8 488.2,81.5 490.9,78.2 493.6,74.9 496.5,71.7 499.7,68.8 503.4,66.5 507.4,64.7 511.6,63.4 515.8,62.0 520.0,61.2 524.3,60.7 528.5,60.3 532.8,60.0 537.1,59.7 541.5,59.6 545.8,59.4 550.1,59.2 554.4,58.9 558.7,58.8 563.1,58.7 567.4,58.7 571.8,58.8 576.2,59.0 580.6,59.1 585.0,59.4 589.3,59.7 593.7,60.2 598.1,60.7 602.4,61.3 606.7,62.1 611.1,62.9 615.4,63.6 619.7,64.3 624.1,64.9 628.5,65.1 632.8,64.4 637.2,64.2 641.6,64.5 646.0,65.0 650.4,65.6 654.7,66.4 659.0,67.5 663.2,68.7 667.4,70.0 671.6,71.4 675.7,72.8 679.8,74.2 684.0,75.7 688.1,77.3 692.1,78.9 696.2,80.6 700.1,82.3 704.1,84.2 708.1,86.1 712.0,87.9 716.0,89.7 720.1,91.4 724.2,93.0 728.3,94.5 732.5,95.9 736.6,97.2 740.8,98.6 745.0,99.9 745.0,99.9 740.8,98.6 736.6,97.2 732.5,95.8 728.3,94.4 724.2,92.9 720.1,91.3 716.1,89.6 712.1,87.8 708.1,86.0 704.1,84.1 700.2,82.3 696.2,80.5 692.1,78.8 688.1,77.2 684.0,75.6 679.9,74.1 675.7,72.7 671.6,71.3 667.4,69.9 663.2,68.6 659.0,67.4 654.7,66.3 650.4,65.4 646.1,64.8 641.7,64.2 637.3,63.8 633.0,64.0 628.7,64.6 624.3,64.4 619.9,63.8 615.6,63.1 611.3,62.2 607.0,61.4 602.7,60.6 598.3,60.0 594.0,59.4 589.6,59.0 585.2,58.6 580.9,58.3 576.5,58.1 572.1,58.0 567.7,57.9 563.4,57.8 559.0,57.8 554.7,57.9 550.4,58.1 546.1,58.3 541.7,58.5 537.4,58.6 533.1,58.8 528.8,59.1 524.5,59.5 520.2,60.0 515.9,60.8 511.8,62.2 507.6,63.6 503.6,65.4 499.8,67.8 496.6,70.8 493.8,74.1 491.1,77.5 488.3,80.9 485.6,84.3 482.9,87.7 480.3,91.1 477.8,94.6 475.4,98.1 473.0,101.8 470.7,105.5 468.4,109.2 466.2,113.0 463.9,116.8 461.4,120.4 459.1,124.1 456.8,127.9 454.6,131.7 452.1,135.3 449.2,138.6 446.0,141.7 443.0,144.9 439.6,147.7 436.0,150.2 432.4,152.7 428.8,155.2 425.1,157.6 421.5,160.1 417.7,162.3 413.8,164.3 409.9,166.3 406.1,168.4 402.3,170.5 398.5,172.6 394.7,174.8 390.8,176.8 386.9,178.5 382.9,180.1 378.9,181.9 374.8,183.5 370.8,185.2 366.7,186.8 362.7,188.5 358.6,190.1 354.6,191.8 350.5,193.4 346.3,194.6 342.1,195.7 337.9,197.0 333.7,198.2 329.4,199.2 325.1,200.0 320.8,200.8 316.5,201.5 312.2,202.1 307.8,202.6 303.5,203.0 299.1,203.3 294.7,203.3 290.3,203.3 285.9,203.2 281.6,203.1 277.2,202.9 272.8,202.7 268.5,202.4 264.2,202.0 259.8,201.5 255.5,200.7 251.2,200.0 246.9,199.2 242.7,198.3 238.4,197.5 234.1,196.6 229.9,195.6 225.7,194.3 221.6,192.8 217.6,191.1 213.6,189.3 209.8,187.4 205.9,185.6 202.0,183.8 198.1,181.9 194.4,179.6 190.9,177.1 187.4,174.6 183.8,172.3 180.1,170.0 176.7,167.3 173.5,164.7 170.2,162.2 166.9,159.8 Z M166.9,159.8 170.3,162.0 173.7,164.4 177.1,167.0 180.6,169.6 184.3,171.9 187.9,174.0 191.5,176.5 195.0,178.9 198.8,181.2 202.7,183.0 206.6,184.7 210.5,186.5 214.4,188.4 218.3,190.2 222.3,191.8 226.4,193.4 230.5,194.7 234.7,195.8 239.0,196.7 243.2,197.6 247.4,198.5 251.7,199.3 256.0,200.0 260.3,200.7 264.6,201.2 269.0,201.6 273.3,201.8 277.6,202.1 282.0,202.2 286.4,202.3 290.7,202.4 295.1,202.4 299.5,202.4 303.9,202.2 308.2,201.7 312.6,201.1 316.9,200.4 321.3,199.6 325.6,198.8 329.9,197.9 334.2,196.9 338.5,195.6 342.7,194.3 346.9,193.1 351.2,191.8 355.3,190.2 359.3,188.5 363.4,186.7 367.5,185.0 371.6,183.3 375.6,181.6 379.7,179.9 383.7,178.1 387.8,176.4 391.8,174.6 395.8,172.6 399.6,170.4 403.4,168.2 407.3,166.1 411.2,164.0 415.1,162.0 419.0,160.1 422.8,157.9 426.5,155.5 430.1,153.1 433.8,150.6 437.4,148.2 441.0,145.7 444.4,142.9 447.5,139.7 450.6,136.7 453.5,133.4 456.0,129.7 458.2,126.0 460.4,122.2 462.7,118.4 465.2,114.8 467.4,111.0 469.6,107.2 471.8,103.5 474.0,99.7 476.3,96.1 478.7,92.5 481.1,89.0 483.6,85.5 486.2,82.1 488.8,78.7 491.5,75.4 494.2,72.0 496.9,68.6 500.1,65.7 503.8,63.4 507.9,61.6 512.0,60.3 516.2,59.0 520.5,58.2 524.8,57.8 529.1,57.6 533.4,57.4 537.7,57.2 542.0,57.2 546.4,57.1 550.7,56.9 555.0,56.8 559.3,56.8 563.7,56.8 568.0,56.9 572.4,57.0 576.8,57.2 581.2,57.4 585.5,57.7 589.9,58.1 594.3,58.6 598.6,59.2 603.0,59.9 607.3,60.6 611.6,61.5 615.9,62.3 620.2,63.1 624.6,63.7 629.0,63.8 633.3,63.1 637.7,62.9 642.1,63.2 646.5,63.6 650.8,64.2 655.1,65.1 659.4,66.2 663.6,67.5 667.8,68.8 671.9,70.2 676.1,71.6 680.2,73.1 684.3,74.7 688.4,76.3 692.4,78.0 696.4,79.7 700.4,81.5 704.3,83.4 708.2,85.3 712.2,87.2 716.2,89.1 720.2,90.8 724.3,92.4 728.4,94.0 732.5,95.4 736.7,96.8 740.8,98.2 745.0,99.6 745.0,99.6 740.8,98.2 736.7,96.8 732.5,95.4 728.4,93.9 724.3,92.4 720.2,90.8 716.2,89.0 712.2,87.2 708.2,85.3 704.3,83.4 700.4,81.5 696.4,79.6 692.4,77.9 688.4,76.2 684.3,74.6 680.2,73.1 676.1,71.6 671.9,70.1 667.8,68.7 663.6,67.4 659.4,66.1 655.1,65.0 650.8,64.2 646.5,63.5 642.1,63.0 637.8,62.6 633.4,62.9 629.1,63.5 624.7,63.4 620.4,62.7 616.0,62.0 611.7,61.1 607.4,60.2 603.1,59.4 598.8,58.8 594.4,58.2 590.1,57.7 585.7,57.3 581.3,57.0 577.0,56.7 572.6,56.5 568.2,56.4 563.8,56.2 559.5,56.2 555.2,56.2 550.8,56.3 546.5,56.4 542.2,56.5 537.8,56.5 533.5,56.6 529.2,56.8 524.9,57.1 520.6,57.5 516.3,58.3 512.1,59.6 508.0,60.9 503.9,62.7 500.2,65.1 497.0,68.1 494.2,71.5 491.6,74.9 488.9,78.4 486.3,81.8 483.7,85.3 481.2,88.8 478.7,92.3 476.4,95.9 474.1,99.6 471.8,103.3 469.6,107.1 467.5,110.9 465.2,114.7 462.8,118.4 460.5,122.1 458.3,125.9 456.0,129.7 453.6,133.3 450.7,136.6 447.5,139.7 444.4,142.8 441.0,145.6 437.4,148.1 433.8,150.6 430.2,153.0 426.5,155.4 422.9,157.9 419.1,160.0 415.1,161.9 411.2,163.9 407.3,166.0 403.5,168.1 399.7,170.2 395.9,172.3 392.0,174.3 388.0,176.0 384.0,177.6 380.0,179.4 375.9,181.0 371.8,182.7 367.8,184.3 363.7,186.0 359.7,187.6 355.6,189.3 351.6,190.9 347.3,192.1 343.1,193.3 338.9,194.5 334.7,195.7 330.4,196.7 326.1,197.6 321.8,198.4 317.5,199.1 313.2,199.8 308.9,200.4 304.5,200.8 300.1,201.1 295.7,201.1 291.4,201.2 287.0,201.1 282.6,201.1 278.2,201.0 273.9,200.8 269.5,200.6 265.2,200.2 260.9,199.8 256.5,199.1 252.2,198.4 247.9,197.6 243.7,196.8 239.4,196.0 235.1,195.2 230.8,194.3 226.6,193.0 222.5,191.6 218.5,189.9 214.5,188.2 210.6,186.4 206.7,184.6 202.8,182.9 198.8,181.1 195.1,178.9 191.5,176.5 188.0,174.0 184.3,171.9 180.6,169.6 177.1,167.0 173.7,164.4 170.3,162.0 166.9,159.8 Z M166.9,159.8 170.4,161.9 174.0,164.2 177.5,166.7 181.0,169.2 184.7,171.4 188.5,173.5 192.1,175.8 195.7,178.2 199.5,180.4 203.4,182.2 207.4,183.8 211.4,185.5 215.3,187.2 219.3,188.9 223.3,190.5 227.4,192.0 231.6,193.2 235.8,194.3 240.0,195.1 244.3,195.9 248.5,196.7 252.8,197.5 257.1,198.1 261.4,198.8 265.8,199.3 270.1,199.5 274.5,199.7 278.8,199.9 283.2,200.0 287.5,200.0 291.9,200.0 296.3,200.0 300.7,199.9 305.0,199.7 309.4,199.2 313.8,198.5 318.1,197.8 322.4,197.0 326.8,196.1 331.1,195.2 335.4,194.2 339.6,192.9 343.8,191.6 348.1,190.4 352.3,189.2 356.4,187.5 360.5,185.8 364.5,184.1 368.6,182.4 372.7,180.7 376.8,179.0 380.9,177.3 384.9,175.5 389.0,173.8 393.0,172.1 397.0,170.0 400.8,167.9 404.7,165.8 408.6,163.7 412.5,161.6 416.4,159.7 420.3,157.8 424.2,155.7 427.9,153.3 431.5,150.9 435.2,148.5 438.8,146.1 442.5,143.6 445.9,140.8 448.9,137.7 452.1,134.6 455.0,131.3 457.4,127.7 459.7,123.9 461.8,120.1 464.1,116.4 466.5,112.7 468.7,108.9 470.8,105.1 473.0,101.3 475.1,97.5 477.4,93.8 479.6,90.2 482.0,86.6 484.4,83.0 486.9,79.5 489.5,76.1 492.1,72.7 494.6,69.2 497.3,65.8 500.5,62.9 504.2,60.5 508.2,58.8 512.4,57.5 516.6,56.3 520.9,55.6 525.2,55.3 529.5,55.1 533.8,55.0 538.2,55.0 542.5,55.0 546.9,55.0 551.2,55.0 555.5,55.0 559.8,55.0 564.2,55.1 568.6,55.3 572.9,55.5 577.3,55.7 581.7,56.0 586.0,56.3 590.4,56.7 594.8,57.3 599.1,57.9 603.4,58.6 607.8,59.4 612.1,60.3 616.4,61.1 620.7,61.9 625.0,62.5 629.4,62.7 633.7,61.9 638.1,61.6 642.5,61.9 646.9,62.3 651.2,62.9 655.5,63.8 659.8,64.9 664.0,66.2 668.1,67.6 672.3,69.0 676.4,70.5 680.5,72.1 684.6,73.7 688.6,75.3 692.6,77.0 696.6,78.8 700.6,80.7 704.5,82.7 708.4,84.6 712.3,86.6 716.3,88.5 720.3,90.2 724.3,91.9 728.4,93.5 732.6,95.0 736.7,96.4 740.9,97.8 745.0,99.2 745.0,99.2 740.9,97.8 736.7,96.4 732.6,94.9 728.4,93.4 724.3,91.9 720.3,90.2 716.3,88.4 712.3,86.5 708.4,84.6 704.5,82.6 700.6,80.7 696.6,78.8 692.7,77.0 688.7,75.2 684.6,73.6 680.5,72.0 676.4,70.4 672.3,69.0 668.2,67.5 664.0,66.1 659.8,64.8 655.6,63.7 651.3,62.8 646.9,62.2 642.6,61.7 638.2,61.3 633.8,61.6 629.6,62.3 625.2,62.2 620.8,61.5 616.5,60.7 612.2,59.8 607.9,58.9 603.6,58.1 599.3,57.4 595.0,56.7 590.6,56.2 586.2,55.7 581.9,55.4 577.5,55.1 573.1,54.9 568.8,54.6 564.4,54.4 560.0,54.3 555.7,54.2 551.4,54.2 547.0,54.3 542.7,54.2 538.3,54.1 534.0,54.2 529.7,54.3 525.4,54.4 521.0,54.7 516.7,55.4 512.6,56.7 508.4,58.0 504.3,59.8 500.6,62.1 497.4,65.2 494.7,68.6 492.2,72.2 489.6,75.7 487.0,79.2 484.5,82.7 482.1,86.3 479.7,89.9 477.5,93.6 475.2,97.3 473.0,101.1 470.9,104.9 468.8,108.8 466.6,112.6 464.2,116.2 461.9,120.0 459.7,123.8 457.5,127.6 455.1,131.3 452.2,134.5 449.0,137.6 445.9,140.8 442.5,143.5 438.9,146.0 435.3,148.4 431.6,150.8 427.9,153.2 424.2,155.6 420.4,157.7 416.5,159.6 412.5,161.5 408.6,163.5 404.8,165.6 401.0,167.7 397.1,169.7 393.2,171.7 389.2,173.3 385.2,174.9 381.2,176.6 377.1,178.3 373.1,179.9 369.0,181.5 364.9,183.1 360.9,184.8 356.9,186.5 352.8,188.1 348.6,189.2 344.3,190.4 340.1,191.6 335.9,192.8 331.7,193.8 327.4,194.7 323.1,195.4 318.8,196.2 314.5,196.9 310.1,197.6 305.8,198.1 301.4,198.3 297.0,198.5 292.7,198.5 288.3,198.6 283.9,198.6 279.5,198.6 275.2,198.4 270.8,198.3 266.5,198.1 262.1,197.7 257.8,197.0 253.5,196.4 249.1,195.7 244.8,195.0 240.5,194.3 236.2,193.6 231.9,192.7 227.7,191.6 223.6,190.2 219.5,188.7 215.5,187.0 211.5,185.3 207.5,183.6 203.5,182.1 199.5,180.3 195.7,178.1 192.1,175.8 188.5,173.5 184.7,171.4 181.0,169.1 177.5,166.7 174.0,164.2 170.5,161.9 166.9,159.8 Z M166.9,159.8 170.6,161.8 174.3,163.9 177.8,166.3 181.4,168.7 185.2,170.9 189.0,172.9 192.7,175.2 196.4,177.4 200.2,179.6 204.2,181.3 208.3,182.8 212.3,184.4 216.3,186.0 220.3,187.6 224.3,189.2 228.5,190.6 232.7,191.7 236.9,192.7 241.2,193.4 245.4,194.2 249.7,194.9 254.0,195.5 258.3,196.1 262.7,196.7 267.0,197.1 271.4,197.3 275.7,197.4 280.1,197.5 284.4,197.6 288.8,197.5 293.2,197.5 297.6,197.4 301.9,197.2 306.3,197.0 310.7,196.4 315.0,195.7 319.3,195.0 323.7,194.1 328.0,193.2 332.3,192.3 336.6,191.3 340.8,190.1 345.0,188.7 349.3,187.6 353.5,186.3 357.6,184.7 361.7,183.0 365.7,181.3 369.8,179.6 373.9,178.0 378.0,176.3 382.0,174.6 386.1,172.8 390.2,171.2 394.3,169.5 398.2,167.5 402.1,165.4 406.0,163.3 409.9,161.2 413.8,159.3 417.7,157.3 421.7,155.5 425.6,153.4 429.3,151.1 432.9,148.7 436.6,146.3 440.3,143.9 444.0,141.5 447.4,138.8 450.4,135.6 453.6,132.6 456.5,129.3 458.9,125.6 461.1,121.8 463.2,118.0 465.5,114.2 467.8,110.6 470.0,106.8 472.1,102.9 474.2,99.1 476.3,95.3 478.4,91.5 480.6,87.8 482.9,84.1 485.2,80.5 487.6,76.9 490.1,73.4 492.6,69.9 495.1,66.4 497.8,63.0 500.9,59.9 504.6,57.6 508.6,55.9 512.8,54.7 517.0,53.5 521.3,52.9 525.7,52.7 530.0,52.6 534.3,52.6 538.7,52.7 543.0,52.8 547.4,52.9 551.7,52.9 556.0,53.0 560.4,53.1 564.7,53.3 569.1,53.5 573.5,53.8 577.8,54.1 582.2,54.4 586.6,54.8 590.9,55.3 595.3,55.9 599.6,56.5 603.9,57.2 608.2,58.1 612.5,59.0 616.8,59.9 621.1,60.7 625.5,61.4 629.9,61.5 634.2,60.7 638.5,60.3 642.9,60.6 647.3,61.0 651.7,61.6 656.0,62.5 660.2,63.6 664.4,65.0 668.5,66.4 672.7,67.8 676.7,69.4 680.8,71.0 684.9,72.6 688.9,74.3 692.9,76.1 696.9,78.0 700.8,79.9 704.7,81.9 708.5,83.9 712.4,85.9 716.4,87.8 720.4,89.7 724.4,91.4 728.5,93.0 732.6,94.5 736.7,96.0 740.9,97.4 745.0,98.9 745.0,98.9 740.9,97.4 736.7,96.0 732.6,94.5 728.5,93.0 724.4,91.4 720.4,89.6 716.4,87.8 712.5,85.9 708.6,83.9 704.7,81.9 700.8,79.9 696.9,77.9 692.9,76.1 688.9,74.3 684.9,72.6 680.8,70.9 676.8,69.3 672.7,67.8 668.6,66.3 664.4,64.9 660.2,63.6 656.0,62.4 651.7,61.5 647.3,60.8 643.0,60.4 638.6,60.1 634.3,60.4 630.0,61.2 625.6,61.0 621.3,60.3 617.0,59.5 612.7,58.6 608.4,57.7 604.1,56.8 599.8,56.0 595.5,55.4 591.1,54.8 586.8,54.3 582.4,53.9 578.0,53.6 573.7,53.3 569.3,53.0 564.9,52.7 560.6,52.5 556.2,52.4 551.9,52.3 547.5,52.2 543.2,52.0 538.8,51.9 534.5,51.8 530.1,51.8 525.8,51.9 521.5,52.1 517.2,52.7 512.9,53.9 508.7,55.2 504.7,56.9 501.0,59.3 497.9,62.4 495.2,65.9 492.7,69.4 490.2,73.0 487.7,76.6 485.3,80.2 482.9,83.9 480.7,87.6 478.5,91.3 476.4,95.1 474.2,98.9 472.2,102.8 470.1,106.6 467.9,110.4 465.5,114.2 463.3,117.9 461.1,121.8 459.0,125.6 456.6,129.2 453.6,132.5 450.5,135.6 447.4,138.7 444.0,141.5 440.4,143.9 436.7,146.3 433.0,148.6 429.3,151.0 425.6,153.3 421.8,155.4 417.8,157.2 413.8,159.2 409.9,161.1 406.1,163.1 402.2,165.1 398.4,167.2 394.4,169.1 390.4,170.7 386.3,172.3 382.3,173.9 378.3,175.6 374.2,177.2 370.2,178.8 366.1,180.4 362.0,182.1 358.0,183.8 353.9,185.3 349.7,186.5 345.5,187.6 341.3,188.9 337.1,190.0 332.8,191.0 328.5,191.9 324.2,192.7 320.0,193.6 315.7,194.3 311.3,195.0 307.0,195.5 302.6,195.8 298.2,196.0 293.9,196.1 289.5,196.2 285.1,196.3 280.7,196.3 276.4,196.3 272.0,196.2 267.6,196.1 263.3,195.7 258.9,195.1 254.6,194.6 250.3,194.0 246.0,193.4 241.6,192.8 237.3,192.1 233.0,191.3 228.7,190.2 224.6,188.9 220.5,187.4 216.4,185.8 212.4,184.3 208.4,182.7 204.3,181.2 200.3,179.5 196.4,177.4 192.7,175.2 189.0,172.9 185.2,170.9 181.4,168.7 177.8,166.3 174.3,163.9 170.6,161.8 166.9,159.8 Z M166.9,159.8 170.7,161.6 174.5,163.7 178.2,166.0 181.9,168.3 185.7,170.5 189.6,172.3 193.3,174.5 197.1,176.7 200.9,178.8 204.9,180.4 209.1,181.8 213.1,183.4 217.2,184.9 221.2,186.4 225.3,187.9 229.5,189.2 233.7,190.4 237.9,191.3 242.2,192.0 246.5,192.6 250.7,193.3 255.1,193.8 259.4,194.4 263.7,194.9 268.1,195.3 272.5,195.4 276.8,195.5 281.2,195.5 285.5,195.4 289.9,195.4 294.3,195.3 298.7,195.1 303.0,195.0 307.4,194.6 311.7,194.1 316.1,193.3 320.4,192.5 324.7,191.6 329.0,190.7 333.4,189.8 337.6,188.7 341.9,187.5 346.1,186.2 350.3,185.0 354.6,183.8 358.7,182.2 362.8,180.4 366.8,178.7 370.9,177.1 375.0,175.4 379.1,173.7 383.2,172.0 387.2,170.3 391.4,168.7 395.4,167.0 399.4,165.0 403.3,162.9 407.2,160.8 411.1,158.8 415.1,156.9 419.0,155.0 423.0,153.2 426.9,151.2 430.6,148.9 434.4,146.5 438.1,144.2 441.8,141.8 445.4,139.5 448.9,136.7 451.9,133.6 455.1,130.5 458.0,127.3 460.4,123.6 462.5,119.8 464.6,115.9 466.8,112.2 469.2,108.5 471.3,104.7 473.3,100.8 475.3,96.9 477.4,93.1 479.5,89.3 481.5,85.5 483.7,81.7 486.0,78.0 488.3,74.4 490.7,70.8 493.2,67.3 495.6,63.7 498.2,60.2 501.3,57.2 505.0,54.9 509.0,53.2 513.2,52.0 517.4,50.8 521.7,50.3 526.1,50.3 530.4,50.3 534.8,50.4 539.1,50.5 543.5,50.7 547.8,50.9 552.2,51.1 556.5,51.2 560.9,51.4 565.2,51.7 569.6,52.0 574.0,52.3 578.3,52.7 582.7,53.0 587.1,53.4 591.4,54.0 595.8,54.6 600.1,55.3 604.4,56.0 608.7,56.9 613.0,57.8 617.3,58.8 621.6,59.6 625.9,60.3 630.3,60.4 634.6,59.5 639.0,59.1 643.3,59.3 647.7,59.7 652.1,60.3 656.4,61.2 660.6,62.4 664.8,63.7 668.9,65.2 673.0,66.7 677.1,68.3 681.1,69.9 685.2,71.6 689.2,73.3 693.2,75.2 697.1,77.1 701.0,79.1 704.8,81.2 708.7,83.2 712.6,85.3 716.5,87.3 720.5,89.1 724.5,90.9 728.5,92.5 732.6,94.1 736.8,95.6 740.9,97.0 745.0,98.5 745.0,98.5 740.9,97.0 736.8,95.5 732.6,94.0 728.5,92.5 724.5,90.8 720.5,89.1 716.5,87.2 712.6,85.2 708.7,83.2 704.9,81.1 701.0,79.1 697.1,77.0 693.2,75.1 689.2,73.3 685.2,71.5 681.2,69.8 677.1,68.2 673.0,66.6 668.9,65.1 664.8,63.6 660.6,62.3 656.4,61.1 652.1,60.2 647.8,59.5 643.4,59.0 639.1,58.7 634.7,59.1 630.5,60.0 626.1,59.8 621.8,59.1 617.5,58.2 613.2,57.3 608.9,56.3 604.7,55.4 600.3,54.6 596.0,53.9 591.7,53.2 587.3,52.7 583.0,52.3 578.6,51.9 574.2,51.5 569.9,51.2 565.5,50.8 561.2,50.6 556.8,50.3 552.4,50.1 548.1,49.9 543.7,49.7 539.4,49.4 535.0,49.3 530.6,49.1 526.3,49.1 521.9,49.2 517.6,49.7 513.4,50.9 509.2,52.1 505.1,53.9 501.4,56.3 498.3,59.4 495.7,62.9 493.3,66.6 490.9,70.3 488.5,73.9 486.1,77.6 483.8,81.4 481.7,85.1 479.6,89.0 477.5,92.8 475.5,96.7 473.4,100.6 471.4,104.5 469.3,108.3 466.9,112.0 464.7,115.8 462.6,119.7 460.4,123.5 458.1,127.2 455.2,130.4 452.0,133.5 448.9,136.6 445.5,139.4 441.8,141.7 438.1,144.1 434.4,146.4 430.7,148.7 427.0,151.0 423.1,153.1 419.1,154.9 415.2,156.7 411.2,158.6 407.3,160.6 403.5,162.6 399.6,164.5 395.7,166.4 391.7,168.0 387.6,169.5 383.6,171.1 379.5,172.7 375.5,174.4 371.4,176.0 367.3,177.5 363.3,179.2 359.3,180.8 355.2,182.3 351.0,183.5 346.8,184.6 342.6,185.8 338.4,187.0 334.1,187.9 329.9,188.8 325.6,189.6 321.3,190.5 317.0,191.3 312.7,192.0 308.4,192.5 304.0,192.9 299.6,193.1 295.2,193.3 290.9,193.5 286.5,193.6 282.1,193.7 277.7,193.8 273.4,193.8 269.0,193.7 264.6,193.5 260.3,193.0 255.9,192.5 251.6,192.0 247.2,191.5 242.8,191.0 238.5,190.4 234.1,189.7 229.9,188.7 225.6,187.5 221.5,186.1 217.4,184.6 213.3,183.2 209.2,181.7 205.0,180.3 201.0,178.7 197.1,176.7 193.3,174.5 189.6,172.3 185.7,170.4 181.9,168.3 178.2,166.0 174.5,163.7 170.7,161.6 166.9,159.8 Z M166.9,159.8 170.9,161.5 174.8,163.4 178.6,165.6 182.3,167.9 186.1,170.0 190.1,171.8 193.9,173.9 197.8,176.0 201.6,178.0 205.7,179.6 209.9,180.9 214.0,182.3 218.1,183.7 222.2,185.2 226.3,186.6 230.5,187.8 234.7,188.9 239.0,189.7 243.3,190.3 247.6,190.9 251.9,191.4 256.2,192.0 260.6,192.4 264.9,192.9 269.3,193.2 273.7,193.3 278.0,193.2 282.4,193.2 286.8,193.1 291.2,192.9 295.5,192.8 299.9,192.6 304.3,192.3 308.6,192.0 313.0,191.4 317.3,190.6 321.6,189.7 325.9,188.8 330.2,187.9 334.5,187.0 338.8,185.9 343.1,184.7 347.3,183.4 351.5,182.2 355.8,181.0 359.9,179.4 363.9,177.7 368.0,176.0 372.1,174.3 376.2,172.7 380.3,171.0 384.3,169.3 388.4,167.6 392.6,166.0 396.7,164.4 400.6,162.4 404.6,160.4 408.5,158.4 412.4,156.4 416.4,154.5 420.4,152.7 424.4,150.9 428.3,148.9 432.0,146.6 435.8,144.3 439.5,142.1 443.2,139.7 446.9,137.4 450.4,134.7 453.4,131.5 456.6,128.5 459.5,125.2 461.8,121.5 463.9,117.7 466.0,113.8 468.2,110.1 470.5,106.4 472.6,102.5 474.6,98.6 476.5,94.7 478.5,90.8 480.5,87.0 482.5,83.1 484.6,79.3 486.8,75.5 489.1,71.8 491.4,68.2 493.7,64.5 496.1,60.9 498.6,57.4 501.7,54.3 505.4,52.0 509.4,50.3 513.6,49.2 517.8,48.1 522.2,47.6 526.5,47.7 530.9,47.8 535.3,48.0 539.6,48.2 544.0,48.5 548.4,48.8 552.7,49.1 557.1,49.3 561.4,49.6 565.8,50.0 570.2,50.3 574.5,50.7 578.9,51.1 583.2,51.5 587.6,51.9 591.9,52.5 596.3,53.2 600.6,53.9 604.9,54.7 609.2,55.6 613.5,56.6 617.7,57.6 622.0,58.4 626.4,59.1 630.7,59.2 635.0,58.2 639.4,57.8 643.8,58.0 648.1,58.4 652.5,59.0 656.8,59.9 661.0,61.1 665.2,62.5 669.3,63.9 673.4,65.5 677.4,67.1 681.5,68.8 685.5,70.6 689.5,72.4 693.4,74.3 697.3,76.3 701.2,78.3 705.0,80.4 708.9,82.5 712.7,84.6 716.6,86.7 720.5,88.6 724.5,90.3 728.6,92.0 732.7,93.6 736.8,95.1 740.9,96.7 745.0,98.2 745.0,98.2 740.9,96.6 736.8,95.1 732.7,93.6 728.6,92.0 724.6,90.3 720.5,88.5 716.6,86.6 712.7,84.6 708.9,82.5 705.0,80.4 701.2,78.3 697.4,76.2 693.5,74.2 689.5,72.3 685.5,70.5 681.5,68.7 677.5,67.1 673.4,65.4 669.3,63.8 665.2,62.4 661.0,61.0 656.8,59.8 652.5,58.9 648.2,58.2 643.9,57.7 639.5,57.5 635.2,57.9 630.9,58.8 626.5,58.6 622.2,57.9 617.9,57.0 613.7,56.0 609.4,55.0 605.1,54.0 600.8,53.2 596.5,52.5 592.2,51.8 587.9,51.2 583.5,50.7 579.1,50.3 574.8,49.9 570.4,49.5 566.1,49.1 561.7,48.7 557.3,48.4 553.0,48.1 548.6,47.8 544.2,47.4 539.9,47.1 535.5,46.9 531.1,46.7 526.7,46.5 522.4,46.5 518.0,46.9 513.8,48.1 509.6,49.3 505.5,51.0 501.8,53.4 498.7,56.5 496.2,60.1 493.9,63.9 491.5,67.6 489.2,71.4 486.9,75.1 484.7,78.9 482.6,82.8 480.6,86.7 478.6,90.6 476.7,94.5 474.7,98.4 472.7,102.4 470.6,106.2 468.3,109.9 466.1,113.7 464.0,117.6 461.9,121.4 459.5,125.1 456.6,128.4 453.5,131.4 450.4,134.6 447.0,137.3 443.3,139.6 439.6,141.9 435.8,144.2 432.1,146.5 428.4,148.8 424.5,150.8 420.5,152.5 416.5,154.3 412.5,156.2 408.6,158.1 404.7,160.1 400.8,162.0 396.9,163.8 392.9,165.4 388.8,166.8 384.7,168.4 380.7,170.0 376.6,171.7 372.6,173.2 368.5,174.8 364.5,176.4 360.5,178.1 356.4,179.6 352.2,180.7 348.0,181.8 343.8,183.0 339.6,184.2 335.3,185.1 331.0,186.0 326.8,186.8 322.5,187.7 318.2,188.6 313.9,189.3 309.6,189.9 305.2,190.3 300.9,190.6 296.5,190.9 292.1,191.1 287.7,191.3 283.3,191.4 279.0,191.6 274.6,191.7 270.2,191.7 265.8,191.5 261.5,191.0 257.1,190.6 252.7,190.2 248.3,189.7 244.0,189.4 239.6,188.9 235.2,188.2 230.9,187.3 226.7,186.1 222.5,184.8 218.3,183.5 214.2,182.1 210.0,180.7 205.8,179.5 201.7,177.9 197.8,175.9 194.0,173.8 190.1,171.7 186.1,170.0 182.3,167.9 178.6,165.6 174.8,163.4 170.9,161.5 166.9,159.8 Z" fill="#808080"/>
<g clip-path="url(#bandclip)">
<path d="M592.0,50.7 Q604.6,56.9 606.0,65.3 Q604.6,75.1 592.0,82.8 M597.4,51.9 Q609.6,58.0 611.0,66.2 Q609.6,75.7 597.4,83.1 M602.9,53.2 Q614.7,59.2 616.0,67.0 Q614.7,76.2 602.9,83.5 M608.4,54.6 Q619.7,60.4 621.0,67.9 Q619.7,76.7 608.4,83.8 M613.9,56.0 Q624.8,61.6 626.0,68.8 Q624.8,77.3 613.9,84.1 M619.4,57.4 Q629.8,62.9 631.0,69.8 Q629.8,77.9 619.4,84.5 M624.8,58.9 Q634.9,64.3 636.0,71.0 Q634.9,78.9 624.8,85.4 M630.2,60.5 Q639.9,65.7 641.0,72.2 Q639.9,79.8 630.2,86.1 M635.6,62.1 Q645.0,67.2 646.0,73.4 Q645.0,80.7 635.6,86.9 M641.0,63.7 Q650.0,68.7 651.0,74.7 Q650.0,81.7 641.0,87.7 M646.4,65.4 Q655.0,70.3 656.0,76.0 Q655.0,82.8 646.4,88.6 M651.8,67.2 Q660.1,71.9 661.0,77.4 Q660.1,83.9 651.8,89.5 M657.3,69.0 Q665.1,73.6 666.0,78.8 Q665.1,84.9 657.3,90.3 M662.8,70.8 Q670.2,75.3 671.0,80.2 Q670.2,85.9 662.8,91.1 M668.4,72.8 Q675.2,77.0 676.0,81.6 Q675.2,86.9 668.4,92.0 M673.9,74.8 Q680.3,78.9 681.0,83.1 Q680.3,88.1 673.9,92.9 M679.5,76.8 Q685.3,80.8 686.0,84.7 Q685.3,89.2 679.5,93.8 M685.1,78.9 Q690.4,82.7 691.0,86.2 Q690.4,90.3 685.1,94.7 M690.8,81.1 Q695.5,84.7 696.0,87.9 Q695.5,91.5 690.8,95.6" fill="none" stroke="#808080" stroke-width="1.8"/>
<path d="M696.2,83.4 Q700.5,86.8 701.0,89.7 Q700.5,93.1 696.2,97.0 M701.7,85.8 Q705.6,89.0 706.0,91.6 Q705.6,94.6 701.7,98.3 M707.3,88.2 Q710.6,91.3 711.0,93.5 Q710.6,96.1 707.3,99.5 M713.0,90.7 Q715.7,93.6 716.0,95.4 Q715.7,97.6 713.0,100.8 M718.7,93.3 Q720.8,96.0 721.0,97.4 Q720.8,99.1 718.7,102.0 M724.4,96.0 Q725.8,98.5 726.0,99.5 Q725.8,100.6 724.4,103.2 M730.3,98.8 Q730.9,101.1 731.0,101.5 Q730.9,102.0 730.3,104.3 M736.2,101.8 Q736.0,103.7 736.0,103.5 Q736.0,103.4 736.2,105.3" fill="none" stroke="#808080" stroke-width="2.4"/>
<g mask="url(#bm)"><rect width="850" height="300" filter="url(#nz2)"/></g>
<g mask="url(#gm)"><rect width="850" height="300" filter="url(#nz)"/></g>
<g mask="url(#hm)">
<ellipse cx="253" cy="228" rx="24" ry="10" fill="#20c0ff" opacity="0.85" filter="url(#b1)"/>
<ellipse cx="282" cy="236" rx="20" ry="4" fill="#20b0ff" opacity="0.6" filter="url(#b1)"/>
<ellipse cx="313" cy="235" rx="13" ry="5.5" fill="#30d0ff" opacity="0.9" filter="url(#b1)"/>
<ellipse cx="354" cy="226" rx="14" ry="2.5" fill="#30b8ff" opacity="0.8" transform="rotate(-27 354 226)" filter="url(#b1)"/>
</g>
<g mask="url(#hm2)">
<ellipse cx="249" cy="227" rx="13" ry="6.5" fill="#70ffa0" filter="url(#b2)"/>
<ellipse cx="313" cy="235" rx="8" ry="4" fill="#90ff70" filter="url(#b2)"/>
<ellipse cx="334" cy="234" rx="10" ry="2.4" fill="#ffd000" transform="rotate(-12 334 234)" filter="url(#b2)"/>
<ellipse cx="249" cy="225.5" rx="6" ry="2.5" fill="#ffe000" filter="url(#b2)"/>
<ellipse cx="319" cy="234" rx="4" ry="2" fill="#ffe000" filter="url(#b2)"/>
</g>
<g mask="url(#hm3)">
<ellipse cx="246" cy="229.5" rx="7" ry="4.5" fill="#900000"/>
<ellipse cx="314.6" cy="235.2" rx="2.6" ry="2.5" fill="#a00000"/>
<ellipse cx="336" cy="233.5" rx="6" ry="1.6" fill="#ff7000" transform="rotate(-12 336 233.5)"/>
<ellipse cx="243" cy="227" rx="3" ry="2" fill="#ffa000"/>
</g>
<ellipse cx="254.2" cy="218.3" rx="1.5" ry="1.2" fill="#b00000"/>
<ellipse cx="328" cy="234.5" rx="1.5" ry="1.2" fill="#d00000"/>
<ellipse cx="340" cy="232" rx="1.5" ry="1" fill="#c00000"/>
</g>
</g>
<g opacity="0.999">
<text x="0" y="0" font-size="20" fill="#000" transform="translate(386.5 23) scale(1.09 1)">I Stokes</text>
<text x="719" y="420" font-size="21" font-weight="bold" letter-spacing="0.85" fill="#000" stroke="#000" stroke-width="0.35">Galactic</text>
<rect x="221.5" y="464.5" width="408" height="17" fill="url(#jet)" stroke="#000" stroke-width="1"/>
<text x="217" y="498" font-size="17" fill="#000">0</text>
<text x="617" y="498" font-size="17" fill="#000">0.5</text>
</g>
</svg>
</body></html>
